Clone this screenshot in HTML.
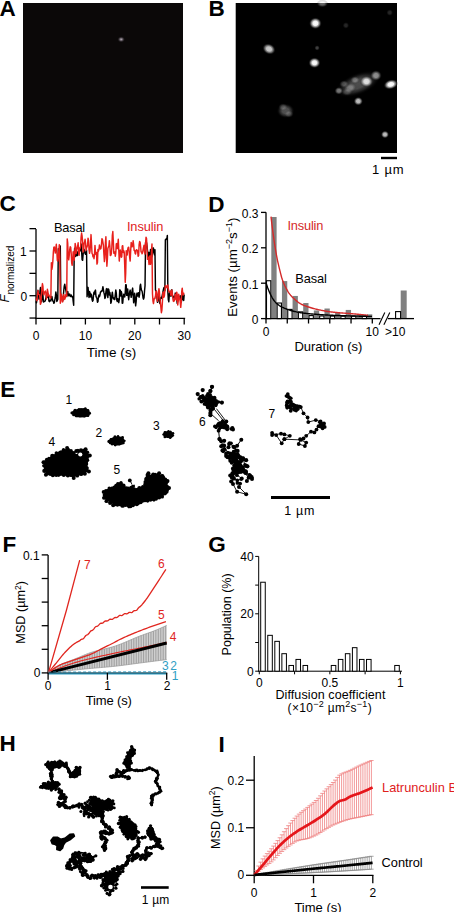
<!DOCTYPE html>
<html><head><meta charset="utf-8"><style>
html,body{margin:0;padding:0;background:#fff;width:454px;height:912px;overflow:hidden}
svg{display:block}
text{font-family:"Liberation Sans",sans-serif}
</style></head><body>
<svg width="454" height="912" viewBox="0 0 454 912" font-family="Liberation Sans, sans-serif">
<defs>
<radialGradient id="gA"><stop offset="0" stop-color="#b8b0b8"/><stop offset="0.4" stop-color="#605860"/><stop offset="1" stop-color="#0a0808" stop-opacity="0"/></radialGradient>
<radialGradient id="gB"><stop offset="0" stop-color="#fff"/><stop offset="0.38" stop-color="#f0f0f0"/><stop offset="0.65" stop-color="#999" stop-opacity="0.75"/><stop offset="1" stop-color="#000" stop-opacity="0"/></radialGradient>
</defs>
<rect width="454" height="912" fill="#fff"/>
<text x="-0.60" y="16.00" font-size="22.5" text-anchor="start" fill="#000" font-weight="bold" >A</text>
<rect x="23.00" y="3.00" width="160.00" height="150.00" fill="#0b0808" stroke="none" stroke-width="0" />
<ellipse cx="121.2" cy="39.4" rx="4" ry="3.2" fill="url(#gA)"/>
<text x="208.50" y="16.40" font-size="22.5" text-anchor="start" fill="#000" font-weight="bold" >B</text>
<rect x="235.70" y="3.00" width="161.30" height="150.00" fill="#000" stroke="none" stroke-width="0" />
<ellipse cx="315.4" cy="23.3" rx="6.5" ry="6" transform="rotate(0 315.4 23.3)" fill="url(#gB)" opacity="1.0"/>
<ellipse cx="314.5" cy="62.8" rx="6.2" ry="5.5" transform="rotate(0 314.5 62.8)" fill="url(#gB)" opacity="1.0"/>
<ellipse cx="269" cy="49" rx="7" ry="5.5" transform="rotate(25 269 49)" fill="url(#gB)" opacity="0.8"/>
<ellipse cx="322.4" cy="3.5" rx="6" ry="4" transform="rotate(0 322.4 3.5)" fill="url(#gB)" opacity="0.4"/>
<ellipse cx="317.1" cy="47.9" rx="2.8" ry="2.8" transform="rotate(0 317.1 47.9)" fill="url(#gB)" opacity="0.25"/>
<ellipse cx="345.9" cy="25.4" rx="3.5" ry="3.5" transform="rotate(0 345.9 25.4)" fill="url(#gB)" opacity="0.15"/>
<ellipse cx="389.7" cy="12.6" rx="3.5" ry="3.5" transform="rotate(0 389.7 12.6)" fill="url(#gB)" opacity="0.15"/>
<ellipse cx="358" cy="84" rx="24" ry="11" transform="rotate(-22 358 84)" fill="url(#gB)" opacity="0.3"/>
<ellipse cx="366.5" cy="81.5" rx="7" ry="6" transform="rotate(0 366.5 81.5)" fill="url(#gB)" opacity="0.85"/>
<ellipse cx="376" cy="75.5" rx="6" ry="5.5" transform="rotate(0 376 75.5)" fill="url(#gB)" opacity="0.55"/>
<ellipse cx="390.8" cy="84.4" rx="7.5" ry="5" transform="rotate(-15 390.8 84.4)" fill="url(#gB)" opacity="1.0"/>
<ellipse cx="338.8" cy="90.8" rx="4.5" ry="4" transform="rotate(0 338.8 90.8)" fill="url(#gB)" opacity="0.45"/>
<ellipse cx="358.3" cy="101.2" rx="4.8" ry="4.5" transform="rotate(0 358.3 101.2)" fill="url(#gB)" opacity="0.75"/>
<ellipse cx="285.6" cy="110.8" rx="9" ry="7.5" transform="rotate(0 285.6 110.8)" fill="url(#gB)" opacity="0.32"/>
<ellipse cx="283" cy="107" rx="5" ry="4" transform="rotate(0 283 107)" fill="url(#gB)" opacity="0.2"/>
<ellipse cx="289" cy="114" rx="5" ry="4" transform="rotate(0 289 114)" fill="url(#gB)" opacity="0.2"/>
<ellipse cx="385" cy="134.5" rx="4.2" ry="4" transform="rotate(0 385 134.5)" fill="url(#gB)" opacity="0.75"/>
<ellipse cx="350" cy="88" rx="7" ry="5" transform="rotate(-20 350 88)" fill="url(#gB)" opacity="0.3"/>
<ellipse cx="344" cy="84" rx="5" ry="4" transform="rotate(0 344 84)" fill="url(#gB)" opacity="0.25"/>
<ellipse cx="355" cy="80" rx="5" ry="4" transform="rotate(0 355 80)" fill="url(#gB)" opacity="0.3"/>
<ellipse cx="347" cy="92" rx="6" ry="4" transform="rotate(0 347 92)" fill="url(#gB)" opacity="0.2"/>
<rect x="381.00" y="156.80" width="16.00" height="2.40" fill="#000" stroke="none" stroke-width="0" />
<text x="372.00" y="174.00" font-size="13" text-anchor="start" fill="#000" font-weight="normal" textLength="31.50" lengthAdjust="spacing" >1 µm</text>
<text x="-0.50" y="211.40" font-size="22.5" text-anchor="start" fill="#000" font-weight="bold" >C</text>
<line x1="36.00" y1="229.00" x2="36.00" y2="319.05" stroke="#000" stroke-width="1.3" />
<line x1="29.50" y1="228.65" x2="36.00" y2="228.65" stroke="#000" stroke-width="1.3" />
<line x1="29.50" y1="251.00" x2="36.00" y2="251.00" stroke="#000" stroke-width="1.3" />
<line x1="29.50" y1="273.35" x2="36.00" y2="273.35" stroke="#000" stroke-width="1.3" />
<line x1="29.50" y1="295.70" x2="36.00" y2="295.70" stroke="#000" stroke-width="1.3" />
<line x1="29.50" y1="318.05" x2="36.00" y2="318.05" stroke="#000" stroke-width="1.3" />
<line x1="35.35" y1="318.40" x2="185.15" y2="318.40" stroke="#000" stroke-width="1.3" />
<line x1="36.00" y1="318.40" x2="36.00" y2="324.50" stroke="#000" stroke-width="1.3" />
<line x1="60.70" y1="318.40" x2="60.70" y2="324.50" stroke="#000" stroke-width="1.3" />
<line x1="85.40" y1="318.40" x2="85.40" y2="324.50" stroke="#000" stroke-width="1.3" />
<line x1="110.10" y1="318.40" x2="110.10" y2="324.50" stroke="#000" stroke-width="1.3" />
<line x1="134.80" y1="318.40" x2="134.80" y2="324.50" stroke="#000" stroke-width="1.3" />
<line x1="159.50" y1="318.40" x2="159.50" y2="324.50" stroke="#000" stroke-width="1.3" />
<line x1="184.20" y1="318.40" x2="184.20" y2="324.50" stroke="#000" stroke-width="1.3" />
<text x="36.00" y="339.70" font-size="12" text-anchor="middle" fill="#000" font-weight="normal" >0</text>
<text x="85.40" y="339.70" font-size="12" text-anchor="middle" fill="#000" font-weight="normal" >10</text>
<text x="134.80" y="339.70" font-size="12" text-anchor="middle" fill="#000" font-weight="normal" >20</text>
<text x="184.20" y="339.70" font-size="12" text-anchor="middle" fill="#000" font-weight="normal" >30</text>
<text x="26.60" y="256.30" font-size="12" text-anchor="end" fill="#000" font-weight="normal" >1</text>
<text x="27.20" y="300.80" font-size="12" text-anchor="end" fill="#000" font-weight="normal" >0</text>
<text x="86.70" y="357.00" font-size="13.5" text-anchor="start" fill="#000" font-weight="normal" textLength="49.50" lengthAdjust="spacing" >Time (s)</text>
<text transform="translate(9.3,302.5) rotate(-90)" font-size="13" font-style="italic">F</text>
<text transform="translate(13.8,294.5) rotate(-90)" font-size="10">normalized</text>
<text x="54.00" y="232.10" font-size="12.8" text-anchor="start" fill="#000" font-weight="normal" textLength="31.20" lengthAdjust="spacing" >Basal</text>
<text x="126.90" y="230.70" font-size="12.8" text-anchor="start" fill="#e0201c" font-weight="normal" textLength="36.40" lengthAdjust="spacing" >Insulin</text>
<polyline points="36.00,301.28 36.50,302.75 36.99,298.37 37.49,292.41 37.98,290.36 38.48,294.17 38.97,299.09 39.47,298.32 39.97,291.23 40.46,287.52 40.96,293.90 41.45,301.71 41.95,298.65 42.44,291.04 42.94,295.18 43.43,302.07 43.93,301.54 44.43,301.49 44.92,301.24 45.42,300.12 45.91,298.29 46.41,295.07 46.90,296.01 47.40,297.29 47.90,293.68 48.39,294.89 48.89,300.87 49.38,301.68 49.88,300.26 50.37,300.69 50.87,300.90 51.37,298.15 51.86,296.38 52.36,298.93 52.85,301.03 53.35,301.29 53.84,303.20 54.34,302.52 54.83,299.54 55.33,297.27 55.83,291.99 56.32,294.55 56.82,301.43 57.31,300.57 57.81,299.32 58.30,248.76 58.80,250.74 59.30,255.91 59.79,252.63 60.29,246.04 60.78,294.77 61.28,296.96 61.77,297.23 62.27,299.11 62.77,300.66 63.26,296.77 63.76,290.70 64.25,286.14 64.75,284.13 65.24,287.01 65.74,289.66 66.23,292.04 66.73,296.54 67.23,294.55 67.72,291.44 68.22,294.28 68.71,295.78 69.21,294.26 69.70,294.11 70.20,296.22 70.70,296.51 71.19,294.87 71.69,296.49 72.18,297.09 72.68,296.41 73.17,301.23 73.67,305.19 74.17,255.07 74.66,248.11 75.16,250.40 75.65,256.51 76.15,255.12 76.64,251.80 77.14,255.43 77.63,255.49 78.13,251.56 78.63,253.50 79.12,252.93 79.62,250.52 80.11,250.91 80.61,247.00 81.10,244.02 81.60,250.91 82.10,259.74 82.59,260.33 83.09,254.62 83.58,250.22 84.08,249.41 84.57,251.34 85.07,253.59 85.57,254.26 86.06,252.37 86.56,250.07 87.05,296.65 87.55,292.42 88.04,287.35 88.54,293.25 89.03,297.49 89.53,291.43 90.03,292.87 90.52,296.90 91.02,294.00 91.51,295.08 92.01,299.22 92.50,301.18 93.00,300.60 93.50,295.37 93.99,292.15 94.49,294.10 94.98,291.14 95.48,290.06 95.97,296.26 96.47,297.62 96.97,298.40 97.46,302.27 97.96,301.66 98.45,296.89 98.95,295.09 99.44,296.80 99.94,295.13 100.43,292.28 100.93,291.54 101.43,290.95 101.92,291.36 102.42,289.48 102.91,286.62 103.41,289.60 103.90,292.67 104.40,294.50 104.90,298.49 105.39,297.23 105.89,292.12 106.38,288.83 106.88,288.58 107.37,295.50 107.87,297.54 108.37,288.98 108.86,289.84 109.36,295.03 109.85,292.41 110.35,296.41 110.84,303.35 111.34,301.73 111.83,295.41 112.33,292.12 112.83,296.17 113.32,298.70 113.82,297.96 114.31,299.41 114.81,299.49 115.30,294.56 115.80,289.99 116.30,293.04 116.79,300.24 117.29,301.62 117.78,298.78 118.28,299.37 118.77,302.65 119.27,299.59 119.77,289.72 120.26,290.35 120.76,295.93 121.25,291.54 121.75,293.41 122.24,303.29 122.74,303.08 123.23,296.99 123.73,294.20 124.23,295.37 124.72,296.92 125.22,292.83 125.71,284.63 126.21,284.94 126.70,295.35 127.20,295.10 127.70,289.07 128.19,295.40 128.69,299.68 129.18,295.73 129.68,291.83 130.17,290.11 130.67,293.91 131.17,297.31 131.66,294.96 132.16,290.21 132.65,288.10 133.15,294.73 133.64,302.81 134.14,299.47 134.63,293.19 135.13,299.00 135.63,305.85 136.12,301.92 136.62,294.54 137.11,293.10 137.61,296.03 138.10,293.58 138.60,292.73 139.10,297.21 139.59,294.38 140.09,286.04 140.58,284.14 141.08,288.53 141.57,290.64 142.07,291.00 142.57,294.25 143.06,297.97 143.56,299.15 144.05,297.47 144.55,290.72 145.04,285.65 145.54,242.76 146.03,242.74 146.53,242.61 147.03,246.23 147.52,251.06 148.02,257.96 148.51,253.54 149.01,252.32 149.50,262.48 150.00,259.24 150.50,249.43 150.99,252.25 151.49,257.37 151.98,256.38 152.48,252.65 152.97,247.94 153.47,247.96 153.97,252.74 154.46,254.75 154.96,249.76 155.45,290.09 155.95,290.63 156.44,292.89 156.94,297.52 157.43,302.26 157.93,299.63 158.43,294.38 158.92,295.79 159.42,302.03 159.91,303.38 160.41,299.01 160.90,297.45 161.40,298.31 161.90,297.08 162.39,294.68 162.89,292.20 163.38,289.70 163.88,287.79 164.37,287.32 164.87,290.73 165.37,239.64 165.86,239.71 166.36,238.42 166.85,238.87 167.35,235.45 167.84,291.78 168.34,299.93 168.83,301.70 169.33,294.49 169.83,292.01 170.32,295.50 170.82,296.12 171.31,290.23 171.81,289.82 172.30,295.44 172.80,297.06 173.30,296.25 173.79,296.65 174.29,299.21 174.78,298.09 175.28,293.10 175.77,293.30 176.27,295.31 176.77,299.70 177.26,303.50 177.76,298.81 178.25,296.50 178.75,297.30 179.24,297.84 179.74,297.67 180.23,295.66 180.73,298.47 181.23,302.11 181.72,300.40 182.22,295.32 182.71,293.69 183.21,299.42 183.70,300.56 184.20,294.53" fill="none" stroke="#000" stroke-width="1.45" stroke-linejoin="round" />
<polyline points="36.00,298.53 36.50,299.80 36.99,300.72 37.49,294.04 37.98,290.52 38.48,294.31 38.97,294.33 39.47,294.58 39.97,298.61 40.46,304.33 40.96,303.01 41.45,294.16 41.95,287.72 42.44,283.60 42.94,286.45 43.43,294.19 43.93,294.96 44.43,292.33 44.92,291.65 45.42,291.05 45.91,293.71 46.41,298.92 46.90,296.77 47.40,289.32 47.90,292.02 48.39,295.81 48.89,294.98 49.38,296.12 49.88,296.80 50.37,297.84 50.87,298.04 51.37,262.71 51.86,269.40 52.36,266.55 52.85,261.28 53.35,252.16 53.84,247.17 54.34,247.08 54.83,249.83 55.33,253.04 55.83,248.38 56.32,244.24 56.82,251.26 57.31,260.27 57.81,261.13 58.30,258.49 58.80,250.45 59.30,244.65 59.79,256.40 60.29,303.28 60.78,297.87 61.28,294.19 61.77,297.45 62.27,301.92 62.77,301.77 63.26,296.81 63.76,294.42 64.25,297.93 64.75,299.39 65.24,297.76 65.74,294.80 66.23,296.42 66.73,296.00 67.23,238.88 67.72,243.18 68.22,256.97 68.71,259.86 69.21,255.78 69.70,249.62 70.20,246.75 70.70,247.22 71.19,253.20 71.69,263.08 72.18,265.28 72.68,260.01 73.17,251.76 73.67,252.34 74.17,260.15 74.66,254.73 75.16,243.39 75.65,246.01 76.15,253.61 76.64,249.79 77.14,248.22 77.63,246.05 78.13,242.78 78.63,252.91 79.12,255.22 79.62,247.97 80.11,248.33 80.61,246.57 81.10,237.05 81.60,233.05 82.10,236.20 82.59,241.09 83.09,251.95 83.58,251.68 84.08,243.19 84.57,242.33 85.07,239.31 85.57,243.35 86.06,250.42 86.56,248.05 87.05,246.71 87.55,244.82 88.04,238.14 88.54,240.30 89.03,249.91 89.53,253.37 90.03,251.04 90.52,243.47 91.02,234.60 91.51,243.34 92.01,253.27 92.50,254.03 93.00,256.81 93.50,255.08 93.99,258.73 94.49,254.71 94.98,245.40 95.48,252.04 95.97,254.36 96.47,252.42 96.97,264.12 97.46,262.49 97.96,249.47 98.45,251.34 98.95,249.48 99.44,244.90 99.94,247.97 100.43,249.04 100.93,248.46 101.43,244.99 101.92,238.80 102.42,239.29 102.91,242.34 103.41,245.40 103.90,254.22 104.40,261.64 104.90,257.87 105.39,243.41 105.89,236.73 106.38,251.64 106.88,266.18 107.37,259.76 107.87,248.49 108.37,247.00 108.86,245.90 109.36,240.61 109.85,245.80 110.35,255.57 110.84,255.20 111.34,253.81 111.83,247.64 112.33,235.23 112.83,231.58 113.32,241.56 113.82,253.30 114.31,253.34 114.81,251.95 115.30,256.23 115.80,252.80 116.30,243.86 116.79,243.57 117.29,248.60 117.78,244.75 118.28,239.22 118.77,250.11 119.27,261.09 119.77,254.59 120.26,249.98 120.76,252.90 121.25,257.28 121.75,256.76 122.24,246.02 122.74,245.65 123.23,252.49 123.73,250.79 124.23,252.26 124.72,265.77 125.22,282.34 125.71,272.96 126.21,250.73 126.70,252.77 127.20,254.94 127.70,249.31 128.19,247.40 128.69,247.28 129.18,251.49 129.68,257.62 130.17,261.03 130.67,250.90 131.17,242.49 131.66,245.03 132.16,246.71 132.65,245.10 133.15,240.75 133.64,244.61 134.14,250.55 134.63,250.23 135.13,253.33 135.63,254.02 136.12,250.52 136.62,249.70 137.11,250.23 137.61,251.00 138.10,256.24 138.60,255.60 139.10,244.94 139.59,241.55 140.09,242.14 140.58,246.26 141.08,251.86 141.57,252.00 142.07,253.83 142.57,252.64 143.06,249.98 143.56,247.32 144.05,245.15 144.55,251.63 145.04,254.08 145.54,243.67 146.03,237.25 146.53,238.58 147.03,247.55 147.52,259.37 148.02,257.00 148.51,258.31 149.01,264.56 149.50,257.01 150.00,255.82 150.50,264.34 150.99,261.74 151.49,251.24 151.98,244.08 152.48,293.81 152.97,301.06 153.47,303.53 153.97,300.14 154.46,298.15 154.96,298.59 155.45,296.22 155.95,291.73 156.44,291.09 156.94,296.08 157.43,301.18 157.93,298.94 158.43,292.57 158.92,288.70 159.42,291.68 159.91,298.87 160.41,302.35 160.90,307.81 161.40,312.71 161.90,310.03 162.39,302.43 162.89,292.60 163.38,292.16 163.88,297.24 164.37,295.89 164.87,290.19 165.37,285.94 165.86,285.65 166.36,286.71 166.85,287.78 167.35,286.25 167.84,285.02 168.34,288.72 168.83,291.31 169.33,291.85 169.83,292.04 170.32,291.10 170.82,295.23 171.31,295.13 171.81,290.08 172.30,293.09 172.80,298.03 173.30,301.18 173.79,301.46 174.29,300.56 174.78,297.92 175.28,294.12 175.77,298.72 176.27,300.05 176.77,292.14 177.26,295.21 177.76,305.02 178.25,300.77 178.75,294.28 179.24,297.34 179.74,298.89 180.23,301.90 180.73,307.36 181.23,302.41 181.72,291.26 182.22,288.15 182.71,293.12 183.21,295.03 183.70,293.14 184.20,293.75" fill="none" stroke="#e8201c" stroke-width="1.45" stroke-linejoin="round" />
<text x="208.20" y="211.60" font-size="22.5" text-anchor="start" fill="#000" font-weight="bold" >D</text>
<line x1="266.00" y1="212.30" x2="266.00" y2="319.25" stroke="#000" stroke-width="1.3" />
<line x1="261.00" y1="212.40" x2="266.00" y2="212.40" stroke="#000" stroke-width="1.3" />
<line x1="261.00" y1="247.80" x2="266.00" y2="247.80" stroke="#000" stroke-width="1.3" />
<line x1="261.00" y1="283.20" x2="266.00" y2="283.20" stroke="#000" stroke-width="1.3" />
<line x1="261.00" y1="318.60" x2="266.00" y2="318.60" stroke="#000" stroke-width="1.3" />
<text x="258.50" y="218.00" font-size="12" text-anchor="end" fill="#000" font-weight="normal" >0.3</text>
<text x="258.50" y="253.40" font-size="12" text-anchor="end" fill="#000" font-weight="normal" >0.2</text>
<text x="258.50" y="288.80" font-size="12" text-anchor="end" fill="#000" font-weight="normal" >0.1</text>
<text x="258.50" y="324.20" font-size="12" text-anchor="end" fill="#000" font-weight="normal" >0</text>
<rect x="271.31" y="217.00" width="5.31" height="101.60" fill="#808080" stroke="none" stroke-width="0" />
<rect x="266.50" y="280.72" width="4.31" height="37.88" fill="#fff" stroke="#000" stroke-width="1.1" />
<rect x="281.94" y="281.08" width="5.31" height="37.52" fill="#808080" stroke="none" stroke-width="0" />
<rect x="277.13" y="303.02" width="4.31" height="15.58" fill="#fff" stroke="#000" stroke-width="1.1" />
<rect x="292.57" y="295.94" width="5.31" height="22.66" fill="#808080" stroke="none" stroke-width="0" />
<rect x="287.76" y="309.40" width="4.31" height="9.20" fill="#fff" stroke="#000" stroke-width="1.1" />
<rect x="303.20" y="303.02" width="5.31" height="15.58" fill="#808080" stroke="none" stroke-width="0" />
<rect x="298.39" y="311.87" width="4.31" height="6.73" fill="#fff" stroke="#000" stroke-width="1.1" />
<rect x="313.83" y="310.46" width="5.31" height="8.14" fill="#808080" stroke="none" stroke-width="0" />
<rect x="309.02" y="315.59" width="4.31" height="3.01" fill="#fff" stroke="#000" stroke-width="1.1" />
<rect x="324.47" y="308.51" width="5.31" height="10.09" fill="#808080" stroke="none" stroke-width="0" />
<rect x="319.65" y="315.95" width="4.32" height="2.65" fill="#fff" stroke="#000" stroke-width="1.1" />
<rect x="335.10" y="312.94" width="5.31" height="5.66" fill="#808080" stroke="none" stroke-width="0" />
<rect x="330.28" y="316.12" width="4.32" height="2.48" fill="#fff" stroke="#000" stroke-width="1.1" />
<rect x="345.73" y="309.93" width="5.31" height="8.67" fill="#808080" stroke="none" stroke-width="0" />
<rect x="340.91" y="316.12" width="4.31" height="2.48" fill="#fff" stroke="#000" stroke-width="1.1" />
<rect x="356.36" y="314.71" width="5.31" height="3.89" fill="#808080" stroke="none" stroke-width="0" />
<rect x="351.54" y="316.12" width="4.31" height="2.48" fill="#fff" stroke="#000" stroke-width="1.1" />
<rect x="366.99" y="314.35" width="5.31" height="4.25" fill="#808080" stroke="none" stroke-width="0" />
<rect x="362.17" y="316.12" width="4.31" height="2.48" fill="#fff" stroke="#000" stroke-width="1.1" />
<rect x="400.70" y="290.50" width="6.00" height="28.10" fill="#808080" stroke="none" stroke-width="0" />
<rect x="395.60" y="311.60" width="5.00" height="7.00" fill="#fff" stroke="#000" stroke-width="1.1" />
<polyline points="271.00,216.70 271.82,223.57 272.63,230.06 273.45,236.13 274.26,241.75 275.08,247.03 275.89,251.97 276.71,256.49 277.52,260.53 278.34,264.19 279.15,267.59 279.97,270.87 280.78,274.15 281.60,277.20 282.41,279.70 283.23,281.89 284.04,283.87 284.86,285.69 285.67,287.36 286.49,288.93 287.30,290.40 288.12,291.78 288.93,293.05 289.75,294.18 290.56,295.18 291.38,296.09 292.19,296.93 293.01,297.71 293.82,298.45 294.64,299.18 295.45,299.91 296.27,300.64 297.08,301.35 297.90,302.04 298.71,302.67 299.53,303.22 300.34,303.69 301.16,304.11 301.97,304.51 302.79,304.89 303.61,305.25 304.42,305.58 305.24,305.90 306.05,306.20 306.87,306.49 307.68,306.76 308.50,307.03 309.31,307.29 310.13,307.54 310.94,307.78 311.76,308.02 312.57,308.24 313.39,308.46 314.20,308.67 315.02,308.88 315.83,309.07 316.65,309.27 317.46,309.45 318.28,309.63 319.09,309.81 319.91,309.98 320.72,310.15 321.54,310.32 322.35,310.49 323.17,310.65 323.98,310.81 324.80,310.96 325.61,311.11 326.43,311.26 327.24,311.39 328.06,311.52 328.87,311.65 329.69,311.76 330.50,311.86 331.32,311.96 332.13,312.05 332.95,312.14 333.76,312.23 334.58,312.31 335.39,312.39 336.21,312.46 337.03,312.54 337.84,312.61 338.66,312.68 339.47,312.75 340.29,312.83 341.10,312.90 341.92,312.97 342.73,313.03 343.55,313.10 344.36,313.16 345.18,313.22 345.99,313.29 346.81,313.35 347.62,313.41 348.44,313.47 349.25,313.53 350.07,313.60 350.88,313.66 351.70,313.72 352.51,313.79 353.33,313.86 354.14,313.92 354.96,314.00 355.77,314.07 356.59,314.14 357.40,314.22 358.22,314.30 359.03,314.37 359.85,314.45 360.66,314.53 361.48,314.62 362.29,314.70 363.11,314.78 363.92,314.87 364.74,314.95 365.55,315.04 366.37,315.12 367.18,315.21 368.00,315.30" fill="none" stroke="#d42a2a" stroke-width="1.4" stroke-linejoin="round" />
<polyline points="266.00,282.60 266.89,285.37 267.78,287.92 268.67,290.23 269.56,292.40 270.45,294.39 271.34,296.16 272.24,297.78 273.13,299.24 274.02,300.52 274.91,301.65 275.80,302.65 276.69,303.53 277.58,304.27 278.47,304.93 279.36,305.53 280.25,306.07 281.14,306.58 282.03,307.05 282.92,307.49 283.82,307.90 284.71,308.28 285.60,308.64 286.49,308.98 287.38,309.32 288.27,309.63 289.16,309.94 290.05,310.23 290.94,310.50 291.83,310.75 292.72,311.00 293.61,311.23 294.50,311.46 295.39,311.67 296.29,311.88 297.18,312.07 298.07,312.26 298.96,312.42 299.85,312.58 300.74,312.71 301.63,312.84 302.52,312.97 303.41,313.08 304.30,313.20 305.19,313.30 306.08,313.40 306.97,313.50 307.87,313.59 308.76,313.68 309.65,313.77 310.54,313.85 311.43,313.93 312.32,314.01 313.21,314.09 314.10,314.17 314.99,314.24 315.88,314.31 316.77,314.38 317.66,314.44 318.55,314.51 319.45,314.56 320.34,314.62 321.23,314.68 322.12,314.73 323.01,314.79 323.90,314.84 324.79,314.89 325.68,314.94 326.57,314.99 327.46,315.04 328.35,315.09 329.24,315.13 330.13,315.18 331.03,315.22 331.92,315.27 332.81,315.31 333.70,315.35 334.59,315.39 335.48,315.43 336.37,315.46 337.26,315.50 338.15,315.53 339.04,315.57 339.93,315.60 340.82,315.63 341.71,315.66 342.61,315.69 343.50,315.72 344.39,315.75 345.28,315.78 346.17,315.81 347.06,315.83 347.95,315.86 348.84,315.89 349.73,315.92 350.62,315.95 351.51,315.97 352.40,316.00 353.29,316.02 354.18,316.05 355.08,316.07 355.97,316.10 356.86,316.12 357.75,316.14 358.64,316.17 359.53,316.19 360.42,316.21 361.31,316.23 362.20,316.25 363.09,316.27 363.98,316.28 364.87,316.30 365.76,316.32 366.66,316.33 367.55,316.34 368.44,316.36 369.33,316.37 370.22,316.38 371.11,316.39 372.00,316.40" fill="none" stroke="#000" stroke-width="1.4" stroke-linejoin="round" />
<line x1="265.35" y1="318.60" x2="380.50" y2="318.60" stroke="#000" stroke-width="1.3" />
<line x1="387.80" y1="318.60" x2="414.00" y2="318.60" stroke="#000" stroke-width="1.3" />
<line x1="379.00" y1="324.80" x2="384.80" y2="312.60" stroke="#000" stroke-width="1.1" />
<line x1="383.90" y1="324.80" x2="389.80" y2="312.60" stroke="#000" stroke-width="1.1" />
<line x1="266.00" y1="318.60" x2="266.00" y2="323.50" stroke="#000" stroke-width="1.3" />
<line x1="287.26" y1="318.60" x2="287.26" y2="323.50" stroke="#000" stroke-width="1.3" />
<line x1="308.52" y1="318.60" x2="308.52" y2="323.50" stroke="#000" stroke-width="1.3" />
<line x1="329.78" y1="318.60" x2="329.78" y2="323.50" stroke="#000" stroke-width="1.3" />
<line x1="351.04" y1="318.60" x2="351.04" y2="323.50" stroke="#000" stroke-width="1.3" />
<line x1="372.30" y1="318.60" x2="372.30" y2="323.50" stroke="#000" stroke-width="1.3" />
<text x="266.00" y="335.60" font-size="12" text-anchor="middle" fill="#000" font-weight="normal" >0</text>
<text x="372.30" y="335.60" font-size="12" text-anchor="middle" fill="#000" font-weight="normal" >10</text>
<text x="385.00" y="335.60" font-size="12" text-anchor="start" fill="#000" font-weight="normal" >&gt;10</text>
<text x="294.40" y="351.00" font-size="13" text-anchor="start" fill="#000" font-weight="normal" >Duration (s)</text>
<text transform="translate(237.4,267.2) rotate(-90)" font-size="13.3" text-anchor="middle">Events (µm<tspan font-size="9" dy="-5">−2</tspan><tspan dy="5">s</tspan><tspan font-size="9" dy="-5">−1</tspan><tspan dy="5">)</tspan></text>
<text x="287.40" y="230.30" font-size="12.8" text-anchor="start" fill="#d42a2a" font-weight="normal" textLength="36.00" lengthAdjust="spacing" >Insulin</text>
<text x="295.20" y="282.80" font-size="12.8" text-anchor="start" fill="#000" font-weight="normal" textLength="31.60" lengthAdjust="spacing" >Basal</text>
<text x="0.30" y="396.90" font-size="22.5" text-anchor="start" fill="#000" font-weight="bold" >E</text>
<text x="65.50" y="404.00" font-size="12" text-anchor="start" fill="#000" font-weight="normal" >1</text>
<text x="95.50" y="437.00" font-size="12" text-anchor="start" fill="#000" font-weight="normal" >2</text>
<text x="153.00" y="430.00" font-size="12" text-anchor="start" fill="#000" font-weight="normal" >3</text>
<text x="48.50" y="446.00" font-size="12" text-anchor="start" fill="#000" font-weight="normal" >4</text>
<text x="113.40" y="474.00" font-size="12" text-anchor="start" fill="#000" font-weight="normal" >5</text>
<text x="199.00" y="426.00" font-size="12" text-anchor="start" fill="#000" font-weight="normal" >6</text>
<text x="268.60" y="418.00" font-size="12" text-anchor="start" fill="#000" font-weight="normal" >7</text>
<rect x="271.00" y="496.00" width="59.00" height="3.00" fill="#000" stroke="none" stroke-width="0" />
<text x="284.30" y="514.80" font-size="12.5" text-anchor="start" fill="#000" font-weight="normal" textLength="30.00" lengthAdjust="spacing" >1 µm</text>
<text x="2.50" y="551.60" font-size="22.5" text-anchor="start" fill="#000" font-weight="bold" >F</text>
<line x1="48.10" y1="554.90" x2="48.10" y2="673.55" stroke="#000" stroke-width="1.3" />
<line x1="41.70" y1="672.90" x2="48.10" y2="672.90" stroke="#000" stroke-width="1.3" />
<line x1="41.70" y1="649.30" x2="48.10" y2="649.30" stroke="#000" stroke-width="1.3" />
<line x1="41.70" y1="625.70" x2="48.10" y2="625.70" stroke="#000" stroke-width="1.3" />
<line x1="41.70" y1="602.10" x2="48.10" y2="602.10" stroke="#000" stroke-width="1.3" />
<line x1="41.70" y1="578.50" x2="48.10" y2="578.50" stroke="#000" stroke-width="1.3" />
<line x1="41.70" y1="554.90" x2="48.10" y2="554.90" stroke="#000" stroke-width="1.3" />
<polygon points="48.10,672.90 49.60,671.68 51.10,670.49 52.60,669.36 54.11,668.28 55.61,667.29 57.11,666.41 58.61,665.61 60.11,664.87 61.61,664.18 63.11,663.52 64.61,662.90 66.12,662.31 67.62,661.73 69.12,661.16 70.62,660.60 72.12,660.04 73.62,659.46 75.12,658.87 76.62,658.26 78.13,657.63 79.63,657.00 81.13,656.36 82.63,655.72 84.13,655.09 85.63,654.48 87.13,653.89 88.63,653.32 90.14,652.79 91.64,652.29 93.14,651.83 94.64,651.40 96.14,650.99 97.64,650.60 99.14,650.22 100.64,649.86 102.15,649.50 103.65,649.15 105.15,648.79 106.65,648.43 108.15,648.06 109.65,647.67 111.15,647.26 112.65,646.83 114.16,646.38 115.66,645.89 117.16,645.37 118.66,644.82 120.16,644.25 121.66,643.66 123.16,643.05 124.66,642.43 126.17,641.80 127.67,641.16 129.17,640.51 130.67,639.86 132.17,639.21 133.67,638.57 135.17,637.94 136.67,637.32 138.18,636.71 139.68,636.12 141.18,635.56 142.68,635.00 144.18,634.46 145.68,633.93 147.18,633.40 148.68,632.86 150.19,632.32 151.69,631.77 153.19,631.21 154.69,630.62 156.19,630.02 157.69,629.40 159.19,628.76 160.69,628.12 162.20,627.45 163.70,626.78 165.20,626.10 166.70,625.40 166.70,659.60 165.20,659.79 163.70,659.98 162.20,660.17 160.69,660.36 159.19,660.55 157.69,660.74 156.19,660.93 154.69,661.12 153.19,661.32 151.69,661.51 150.19,661.70 148.68,661.89 147.18,662.08 145.68,662.27 144.18,662.46 142.68,662.66 141.18,662.85 139.68,663.04 138.18,663.24 136.67,663.44 135.17,663.64 133.67,663.84 132.17,664.04 130.67,664.25 129.17,664.45 127.67,664.66 126.17,664.86 124.66,665.06 123.16,665.26 121.66,665.45 120.16,665.64 118.66,665.82 117.16,665.99 115.66,666.16 114.16,666.33 112.65,666.48 111.15,666.63 109.65,666.77 108.15,666.91 106.65,667.05 105.15,667.18 103.65,667.31 102.15,667.44 100.64,667.57 99.14,667.69 97.64,667.82 96.14,667.95 94.64,668.08 93.14,668.21 91.64,668.35 90.14,668.49 88.63,668.63 87.13,668.77 85.63,668.92 84.13,669.07 82.63,669.21 81.13,669.36 79.63,669.51 78.13,669.66 76.62,669.82 75.12,669.97 73.62,670.12 72.12,670.28 70.62,670.44 69.12,670.59 67.62,670.75 66.12,670.91 64.61,671.07 63.11,671.23 61.61,671.39 60.11,671.56 58.61,671.72 57.11,671.89 55.61,672.05 54.11,672.22 52.60,672.39 51.10,672.56 49.60,672.73 48.10,672.90" fill="#cfcfcf"/>
<line x1="50.50" y1="670.97" x2="50.50" y2="672.63" stroke="#8a8a8a" stroke-width="0.7" />
<line x1="52.95" y1="669.10" x2="52.95" y2="672.35" stroke="#8a8a8a" stroke-width="0.7" />
<line x1="55.40" y1="667.42" x2="55.40" y2="672.08" stroke="#8a8a8a" stroke-width="0.7" />
<line x1="57.85" y1="666.00" x2="57.85" y2="671.80" stroke="#8a8a8a" stroke-width="0.7" />
<line x1="60.30" y1="664.78" x2="60.30" y2="671.54" stroke="#8a8a8a" stroke-width="0.7" />
<line x1="62.75" y1="663.68" x2="62.75" y2="671.27" stroke="#8a8a8a" stroke-width="0.7" />
<line x1="65.20" y1="662.67" x2="65.20" y2="671.01" stroke="#8a8a8a" stroke-width="0.7" />
<line x1="67.65" y1="661.72" x2="67.65" y2="670.75" stroke="#8a8a8a" stroke-width="0.7" />
<line x1="70.10" y1="660.80" x2="70.10" y2="670.49" stroke="#8a8a8a" stroke-width="0.7" />
<line x1="72.55" y1="659.87" x2="72.55" y2="670.23" stroke="#8a8a8a" stroke-width="0.7" />
<line x1="75.00" y1="658.92" x2="75.00" y2="669.98" stroke="#8a8a8a" stroke-width="0.7" />
<line x1="77.45" y1="657.92" x2="77.45" y2="669.73" stroke="#8a8a8a" stroke-width="0.7" />
<line x1="79.90" y1="656.88" x2="79.90" y2="669.49" stroke="#8a8a8a" stroke-width="0.7" />
<line x1="82.35" y1="655.84" x2="82.35" y2="669.24" stroke="#8a8a8a" stroke-width="0.7" />
<line x1="84.80" y1="654.82" x2="84.80" y2="669.00" stroke="#8a8a8a" stroke-width="0.7" />
<line x1="87.25" y1="653.84" x2="87.25" y2="668.76" stroke="#8a8a8a" stroke-width="0.7" />
<line x1="89.70" y1="652.94" x2="89.70" y2="668.53" stroke="#8a8a8a" stroke-width="0.7" />
<line x1="92.15" y1="652.13" x2="92.15" y2="668.30" stroke="#8a8a8a" stroke-width="0.7" />
<line x1="94.60" y1="651.41" x2="94.60" y2="668.08" stroke="#8a8a8a" stroke-width="0.7" />
<line x1="97.05" y1="650.75" x2="97.05" y2="667.87" stroke="#8a8a8a" stroke-width="0.7" />
<line x1="99.50" y1="650.14" x2="99.50" y2="667.66" stroke="#8a8a8a" stroke-width="0.7" />
<line x1="101.95" y1="649.55" x2="101.95" y2="667.45" stroke="#8a8a8a" stroke-width="0.7" />
<line x1="104.40" y1="648.97" x2="104.40" y2="667.24" stroke="#8a8a8a" stroke-width="0.7" />
<line x1="106.85" y1="648.38" x2="106.85" y2="667.03" stroke="#8a8a8a" stroke-width="0.7" />
<line x1="109.30" y1="647.76" x2="109.30" y2="666.81" stroke="#8a8a8a" stroke-width="0.7" />
<line x1="111.75" y1="647.10" x2="111.75" y2="666.57" stroke="#8a8a8a" stroke-width="0.7" />
<line x1="114.20" y1="646.36" x2="114.20" y2="666.32" stroke="#8a8a8a" stroke-width="0.7" />
<line x1="116.65" y1="645.55" x2="116.65" y2="666.05" stroke="#8a8a8a" stroke-width="0.7" />
<line x1="119.10" y1="644.66" x2="119.10" y2="665.77" stroke="#8a8a8a" stroke-width="0.7" />
<line x1="121.55" y1="643.71" x2="121.55" y2="665.46" stroke="#8a8a8a" stroke-width="0.7" />
<line x1="124.00" y1="642.71" x2="124.00" y2="665.15" stroke="#8a8a8a" stroke-width="0.7" />
<line x1="126.45" y1="641.68" x2="126.45" y2="664.82" stroke="#8a8a8a" stroke-width="0.7" />
<line x1="128.90" y1="640.62" x2="128.90" y2="664.49" stroke="#8a8a8a" stroke-width="0.7" />
<line x1="131.35" y1="639.57" x2="131.35" y2="664.16" stroke="#8a8a8a" stroke-width="0.7" />
<line x1="133.80" y1="638.52" x2="133.80" y2="663.82" stroke="#8a8a8a" stroke-width="0.7" />
<line x1="136.25" y1="637.49" x2="136.25" y2="663.49" stroke="#8a8a8a" stroke-width="0.7" />
<line x1="138.70" y1="636.50" x2="138.70" y2="663.17" stroke="#8a8a8a" stroke-width="0.7" />
<line x1="141.15" y1="635.57" x2="141.15" y2="662.85" stroke="#8a8a8a" stroke-width="0.7" />
<line x1="143.60" y1="634.67" x2="143.60" y2="662.54" stroke="#8a8a8a" stroke-width="0.7" />
<line x1="146.05" y1="633.80" x2="146.05" y2="662.23" stroke="#8a8a8a" stroke-width="0.7" />
<line x1="148.50" y1="632.93" x2="148.50" y2="661.91" stroke="#8a8a8a" stroke-width="0.7" />
<line x1="150.95" y1="632.04" x2="150.95" y2="661.60" stroke="#8a8a8a" stroke-width="0.7" />
<line x1="153.40" y1="631.13" x2="153.40" y2="661.29" stroke="#8a8a8a" stroke-width="0.7" />
<line x1="155.85" y1="630.16" x2="155.85" y2="660.98" stroke="#8a8a8a" stroke-width="0.7" />
<line x1="158.30" y1="629.14" x2="158.30" y2="660.67" stroke="#8a8a8a" stroke-width="0.7" />
<line x1="160.75" y1="628.09" x2="160.75" y2="660.35" stroke="#8a8a8a" stroke-width="0.7" />
<line x1="163.20" y1="627.00" x2="163.20" y2="660.04" stroke="#8a8a8a" stroke-width="0.7" />
<line x1="165.65" y1="625.89" x2="165.65" y2="659.73" stroke="#8a8a8a" stroke-width="0.7" />
<polyline points="48.10,672.90 49.60,671.68 51.10,670.49 52.60,669.36 54.11,668.28 55.61,667.29 57.11,666.41 58.61,665.61 60.11,664.87 61.61,664.18 63.11,663.52 64.61,662.90 66.12,662.31 67.62,661.73 69.12,661.16 70.62,660.60 72.12,660.04 73.62,659.46 75.12,658.87 76.62,658.26 78.13,657.63 79.63,657.00 81.13,656.36 82.63,655.72 84.13,655.09 85.63,654.48 87.13,653.89 88.63,653.32 90.14,652.79 91.64,652.29 93.14,651.83 94.64,651.40 96.14,650.99 97.64,650.60 99.14,650.22 100.64,649.86 102.15,649.50 103.65,649.15 105.15,648.79 106.65,648.43 108.15,648.06 109.65,647.67 111.15,647.26 112.65,646.83 114.16,646.38 115.66,645.89 117.16,645.37 118.66,644.82 120.16,644.25 121.66,643.66 123.16,643.05 124.66,642.43 126.17,641.80 127.67,641.16 129.17,640.51 130.67,639.86 132.17,639.21 133.67,638.57 135.17,637.94 136.67,637.32 138.18,636.71 139.68,636.12 141.18,635.56 142.68,635.00 144.18,634.46 145.68,633.93 147.18,633.40 148.68,632.86 150.19,632.32 151.69,631.77 153.19,631.21 154.69,630.62 156.19,630.02 157.69,629.40 159.19,628.76 160.69,628.12 162.20,627.45 163.70,626.78 165.20,626.10 166.70,625.40" fill="none" stroke="#9a9a9a" stroke-width="0.8"/>
<polyline points="48.10,672.90 49.60,672.73 51.10,672.56 52.60,672.39 54.11,672.22 55.61,672.05 57.11,671.89 58.61,671.72 60.11,671.56 61.61,671.39 63.11,671.23 64.61,671.07 66.12,670.91 67.62,670.75 69.12,670.59 70.62,670.44 72.12,670.28 73.62,670.12 75.12,669.97 76.62,669.82 78.13,669.66 79.63,669.51 81.13,669.36 82.63,669.21 84.13,669.07 85.63,668.92 87.13,668.77 88.63,668.63 90.14,668.49 91.64,668.35 93.14,668.21 94.64,668.08 96.14,667.95 97.64,667.82 99.14,667.69 100.64,667.57 102.15,667.44 103.65,667.31 105.15,667.18 106.65,667.05 108.15,666.91 109.65,666.77 111.15,666.63 112.65,666.48 114.16,666.33 115.66,666.16 117.16,665.99 118.66,665.82 120.16,665.64 121.66,665.45 123.16,665.26 124.66,665.06 126.17,664.86 127.67,664.66 129.17,664.45 130.67,664.25 132.17,664.04 133.67,663.84 135.17,663.64 136.67,663.44 138.18,663.24 139.68,663.04 141.18,662.85 142.68,662.66 144.18,662.46 145.68,662.27 147.18,662.08 148.68,661.89 150.19,661.70 151.69,661.51 153.19,661.32 154.69,661.12 156.19,660.93 157.69,660.74 159.19,660.55 160.69,660.36 162.20,660.17 163.70,659.98 165.20,659.79 166.70,659.60" fill="none" stroke="#9a9a9a" stroke-width="0.8"/>
<polyline points="48.30,672.90 49.80,672.24 51.30,671.59 52.80,670.94 54.29,670.31 55.79,669.68 57.29,669.06 58.79,668.45 60.29,667.85 61.79,667.26 63.29,666.68 64.79,666.11 66.28,665.56 67.78,665.02 69.28,664.50 70.78,663.99 72.28,663.49 73.78,663.02 75.28,662.56 76.78,662.11 78.27,661.68 79.77,661.26 81.27,660.84 82.77,660.44 84.27,660.05 85.77,659.66 87.27,659.28 88.77,658.91 90.26,658.55 91.76,658.19 93.26,657.84 94.76,657.50 96.26,657.15 97.76,656.82 99.26,656.48 100.76,656.15 102.25,655.83 103.75,655.50 105.25,655.18 106.75,654.85 108.25,654.53 109.75,654.21 111.25,653.88 112.75,653.56 114.24,653.23 115.74,652.91 117.24,652.59 118.74,652.28 120.24,651.96 121.74,651.66 123.24,651.35 124.74,651.05 126.23,650.75 127.73,650.46 129.23,650.16 130.73,649.86 132.23,649.57 133.73,649.27 135.23,648.97 136.73,648.67 138.22,648.36 139.72,648.06 141.22,647.75 142.72,647.44 144.22,647.13 145.72,646.82 147.22,646.50 148.72,646.19 150.21,645.88 151.71,645.57 153.21,645.25 154.71,644.94 156.21,644.62 157.71,644.31 159.21,643.99 160.71,643.67 162.20,643.36 163.70,643.04 165.20,642.72 166.70,642.40" fill="none" stroke="#e0261f" stroke-width="1.1" stroke-linejoin="round" />
<polyline points="48.10,672.90 166.70,643.00" fill="none" stroke="#000" stroke-width="3.0" stroke-linejoin="round" />
<polyline points="48.30,672.90 49.79,671.71 51.28,670.56 52.77,669.45 54.25,668.40 55.74,667.40 57.23,666.48 58.72,665.64 60.21,664.89 61.70,664.22 63.19,663.61 64.67,663.04 66.16,662.52 67.65,662.02 69.14,661.54 70.63,661.08 72.12,660.61 73.61,660.14 75.09,659.64 76.58,659.13 78.07,658.63 79.56,658.13 81.05,657.65 82.54,657.16 84.03,656.67 85.52,656.17 87.00,655.65 88.49,655.11 89.98,654.54 91.47,653.93 92.96,653.27 94.45,652.55 95.94,651.79 97.42,651.00 98.91,650.21 100.40,649.42 101.89,648.66 103.38,647.91 104.87,647.17 106.36,646.44 107.84,645.70 109.33,644.97 110.82,644.23 112.31,643.47 113.80,642.71 115.29,641.93 116.78,641.10 118.26,640.29 119.75,639.53 121.24,638.81 122.73,638.11 124.22,637.42 125.71,636.75 127.20,636.09 128.68,635.44 130.17,634.80 131.66,634.17 133.15,633.55 134.64,632.94 136.13,632.34 137.62,631.75 139.11,631.16 140.59,630.58 142.08,630.00 143.57,629.43 145.06,628.86 146.55,628.30 148.04,627.74 149.53,627.19 151.01,626.65 152.50,626.11 153.99,625.58 155.48,625.06 156.97,624.54 158.46,624.04 159.95,623.53 161.43,623.04 162.92,622.55 164.41,622.07 165.90,621.60" fill="none" stroke="#e0261f" stroke-width="1.3" stroke-linejoin="round" />
<polyline points="48.30,672.90 49.29,671.65 50.28,670.41 51.26,669.17 52.25,667.94 53.24,666.71 54.23,665.48 55.22,664.26 56.21,663.04 57.19,661.83 58.18,660.61 59.17,659.37 60.16,658.12 61.15,656.89 62.14,655.67 63.12,654.49 64.11,653.36 65.10,652.29 66.09,651.26 67.08,650.24 68.06,649.25 69.05,648.28 70.04,647.34 71.03,646.44 72.02,645.58 73.01,644.77 73.99,644.02 74.98,643.34 75.97,642.73 76.96,642.18 77.95,641.65 78.94,641.13 79.92,640.60 80.91,639.52 81.90,639.20 82.89,639.04 83.88,638.21 84.86,636.74 85.85,635.50 86.84,634.95 87.83,634.55 88.82,633.53 89.81,632.07 90.79,630.95 91.78,630.53 92.77,630.14 93.76,629.09 94.75,627.63 95.74,626.63 96.72,626.34 97.71,626.06 98.70,625.13 99.69,623.92 100.68,623.26 101.66,623.26 102.65,623.14 103.64,622.32 104.63,621.29 105.62,620.85 106.61,621.01 107.59,620.96 108.58,620.22 109.57,619.36 110.56,619.14 111.55,619.42 112.54,619.36 113.52,618.57 114.51,617.69 115.50,617.42 116.49,617.53 117.48,617.22 118.46,616.28 119.45,615.44 120.44,615.31 121.43,615.54 122.42,615.29 123.41,614.42 124.39,613.70 125.38,613.70 126.37,613.99 127.36,613.73 128.35,612.90 129.34,612.32 130.32,612.44 131.31,612.69 132.30,612.28 133.29,611.31 134.28,610.60 135.26,610.53 136.25,610.46 137.24,609.64 138.23,608.24 139.22,607.14 140.21,606.61 141.19,605.57 142.18,604.45 143.17,603.26 144.16,602.02 145.15,600.73 146.14,599.42 147.12,598.04 148.11,596.61 149.10,595.12 150.09,593.61 151.08,592.08 152.06,590.56 153.05,589.07 154.04,587.57 155.03,586.07 156.02,584.56 157.01,583.05 157.99,581.54 158.98,580.03 159.97,578.51 160.96,577.00 161.95,575.48 162.94,573.97 163.92,572.45 164.91,570.92 165.90,569.40" fill="none" stroke="#e0261f" stroke-width="1.3" stroke-linejoin="round" />
<polyline points="48.40,672.90 66.50,610.00 79.70,560.10" fill="none" stroke="#e0261f" stroke-width="1.3" stroke-linejoin="round" />
<line x1="48.10" y1="673.50" x2="166.70" y2="673.50" stroke="#2f9ec4" stroke-width="2.0" />
<line x1="48.1" y1="672.0" x2="166.7" y2="671.6" stroke="#2f9ec4" stroke-width="0.8" stroke-dasharray="3 2"/>
<line x1="47.45" y1="672.90" x2="167.35" y2="672.90" stroke="#000" stroke-width="0.6" />
<line x1="48.10" y1="672.90" x2="48.10" y2="679.80" stroke="#000" stroke-width="1.3" />
<line x1="107.40" y1="672.90" x2="107.40" y2="679.80" stroke="#000" stroke-width="1.3" />
<line x1="166.70" y1="672.90" x2="166.70" y2="679.80" stroke="#000" stroke-width="1.3" />
<text x="48.10" y="690.40" font-size="12" text-anchor="middle" fill="#000" font-weight="normal" >0</text>
<text x="107.70" y="690.40" font-size="12" text-anchor="middle" fill="#000" font-weight="normal" >1</text>
<text x="167.00" y="690.40" font-size="12" text-anchor="middle" fill="#000" font-weight="normal" >2</text>
<text x="39.60" y="559.50" font-size="12" text-anchor="end" fill="#000" font-weight="normal" >0.1</text>
<text x="40.40" y="677.30" font-size="12" text-anchor="end" fill="#000" font-weight="normal" >0</text>
<text x="85.80" y="704.50" font-size="13" text-anchor="start" fill="#000" font-weight="normal" textLength="46.00" lengthAdjust="spacing" >Time (s)</text>
<text transform="translate(25.0,612.3) rotate(-90)" font-size="12.7" text-anchor="middle">MSD (µm<tspan font-size="8.5" dy="-4.5">2</tspan><tspan dy="4.5">)</tspan></text>
<text x="162.00" y="670.40" font-size="12" text-anchor="start" fill="#2f9ec4" font-weight="normal" >3</text>
<text x="170.20" y="669.80" font-size="12" text-anchor="start" fill="#2f9ec4" font-weight="normal" >2</text>
<text x="171.80" y="679.80" font-size="12" text-anchor="start" fill="#2f9ec4" font-weight="normal" >1</text>
<text x="158.00" y="568.00" font-size="12" text-anchor="start" fill="#e0261f" font-weight="normal" >6</text>
<text x="158.00" y="619.40" font-size="12" text-anchor="start" fill="#e0261f" font-weight="normal" >5</text>
<text x="169.80" y="641.00" font-size="12" text-anchor="start" fill="#e0261f" font-weight="normal" >4</text>
<text x="84.00" y="569.40" font-size="12" text-anchor="start" fill="#e0261f" font-weight="normal" >7</text>
<text x="208.20" y="551.80" font-size="22.5" text-anchor="start" fill="#000" font-weight="bold" >G</text>
<line x1="258.70" y1="556.40" x2="258.70" y2="671.70" stroke="#000" stroke-width="1.0" />
<line x1="255.20" y1="671.20" x2="258.70" y2="671.20" stroke="#000" stroke-width="1.0" />
<line x1="255.20" y1="642.50" x2="258.70" y2="642.50" stroke="#000" stroke-width="1.0" />
<line x1="255.20" y1="613.80" x2="258.70" y2="613.80" stroke="#000" stroke-width="1.0" />
<line x1="255.20" y1="585.10" x2="258.70" y2="585.10" stroke="#000" stroke-width="1.0" />
<line x1="255.20" y1="556.40" x2="258.70" y2="556.40" stroke="#000" stroke-width="1.0" />
<text x="253.60" y="560.70" font-size="12" text-anchor="end" fill="#000" font-weight="normal" >40</text>
<text x="253.60" y="618.00" font-size="12" text-anchor="end" fill="#000" font-weight="normal" >20</text>
<text x="253.60" y="675.50" font-size="12" text-anchor="end" fill="#000" font-weight="normal" >0</text>
<line x1="258.20" y1="671.20" x2="402.00" y2="671.20" stroke="#000" stroke-width="1.0" />
<line x1="259.30" y1="671.20" x2="259.30" y2="674.30" stroke="#000" stroke-width="1.0" />
<line x1="294.57" y1="671.20" x2="294.57" y2="674.30" stroke="#000" stroke-width="1.0" />
<line x1="329.85" y1="671.20" x2="329.85" y2="674.30" stroke="#000" stroke-width="1.0" />
<line x1="365.12" y1="671.20" x2="365.12" y2="674.30" stroke="#000" stroke-width="1.0" />
<line x1="400.40" y1="671.20" x2="400.40" y2="674.30" stroke="#000" stroke-width="1.0" />
<text x="259.30" y="687.20" font-size="12" text-anchor="middle" fill="#000" font-weight="normal" >0</text>
<text x="329.85" y="687.20" font-size="12" text-anchor="middle" fill="#000" font-weight="normal" >0.5</text>
<text x="400.40" y="687.20" font-size="12" text-anchor="middle" fill="#000" font-weight="normal" >1</text>
<rect x="260.70" y="582.23" width="4.56" height="88.97" fill="#fff" stroke="#000" stroke-width="1.0" />
<rect x="267.75" y="635.33" width="4.56" height="35.88" fill="#fff" stroke="#000" stroke-width="1.0" />
<rect x="274.81" y="641.35" width="4.56" height="29.85" fill="#fff" stroke="#000" stroke-width="1.0" />
<rect x="281.87" y="653.69" width="4.55" height="17.51" fill="#fff" stroke="#000" stroke-width="1.0" />
<rect x="288.92" y="665.46" width="4.56" height="5.74" fill="#fff" stroke="#000" stroke-width="1.0" />
<rect x="295.97" y="659.43" width="4.56" height="11.77" fill="#fff" stroke="#000" stroke-width="1.0" />
<rect x="303.03" y="665.46" width="4.56" height="5.74" fill="#fff" stroke="#000" stroke-width="1.0" />
<rect x="331.25" y="665.46" width="4.56" height="5.74" fill="#fff" stroke="#000" stroke-width="1.0" />
<rect x="338.31" y="659.43" width="4.56" height="11.77" fill="#fff" stroke="#000" stroke-width="1.0" />
<rect x="345.36" y="653.69" width="4.55" height="17.51" fill="#fff" stroke="#000" stroke-width="1.0" />
<rect x="352.41" y="647.67" width="4.56" height="23.53" fill="#fff" stroke="#000" stroke-width="1.0" />
<rect x="359.47" y="659.43" width="4.55" height="11.77" fill="#fff" stroke="#000" stroke-width="1.0" />
<rect x="366.52" y="659.43" width="4.56" height="11.77" fill="#fff" stroke="#000" stroke-width="1.0" />
<rect x="394.75" y="665.46" width="4.55" height="5.74" fill="#fff" stroke="#000" stroke-width="1.0" />
<text x="275.40" y="698.70" font-size="12.5" text-anchor="start" fill="#000" font-weight="normal" textLength="110.00" lengthAdjust="spacing" >Diffusion coefficient</text>
<text x="287.6" y="712.3" font-size="12" letter-spacing="0.3">(×10<tspan font-size="9" dy="-5">−2</tspan><tspan dy="5"> µm</tspan><tspan font-size="9" dy="-5">2</tspan><tspan dy="5">s</tspan><tspan font-size="9" dy="-5">−1</tspan><tspan dy="5">)</tspan></text>
<text transform="translate(230.6,614.4) rotate(-90)" font-size="12.5" text-anchor="middle">Population (%)</text>
<text x="-0.60" y="751.40" font-size="22.5" text-anchor="start" fill="#000" font-weight="bold" >H</text>
<rect x="141.00" y="886.20" width="27.70" height="2.60" fill="#000" stroke="none" stroke-width="0" />
<text x="141.80" y="903.60" font-size="12" text-anchor="start" fill="#000" font-weight="normal" textLength="27.50" lengthAdjust="spacing" >1 µm</text>
<text x="218.60" y="751.60" font-size="22.5" text-anchor="start" fill="#000" font-weight="bold" >I</text>
<line x1="254.20" y1="756.00" x2="254.20" y2="875.95" stroke="#000" stroke-width="1.3" />
<line x1="246.00" y1="780.20" x2="254.20" y2="780.20" stroke="#000" stroke-width="1.3" />
<line x1="246.00" y1="827.75" x2="254.20" y2="827.75" stroke="#000" stroke-width="1.3" />
<line x1="246.00" y1="875.30" x2="254.20" y2="875.30" stroke="#000" stroke-width="1.3" />
<text x="244.30" y="785.00" font-size="12" text-anchor="end" fill="#000" font-weight="normal" >0.2</text>
<text x="244.30" y="832.20" font-size="12" text-anchor="end" fill="#000" font-weight="normal" >0.1</text>
<text x="244.20" y="879.40" font-size="12" text-anchor="end" fill="#000" font-weight="normal" >0</text>
<line x1="253.55" y1="875.30" x2="373.45" y2="875.30" stroke="#000" stroke-width="1.3" />
<line x1="254.20" y1="875.30" x2="254.20" y2="883.30" stroke="#000" stroke-width="1.3" />
<text x="254.20" y="896.70" font-size="12" text-anchor="middle" fill="#000" font-weight="normal" >0</text>
<line x1="313.50" y1="875.30" x2="313.50" y2="883.30" stroke="#000" stroke-width="1.3" />
<text x="313.50" y="896.70" font-size="12" text-anchor="middle" fill="#000" font-weight="normal" >1</text>
<line x1="372.80" y1="875.30" x2="372.80" y2="883.30" stroke="#000" stroke-width="1.3" />
<text x="372.80" y="896.70" font-size="12" text-anchor="middle" fill="#000" font-weight="normal" >2</text>
<text x="294.40" y="911.70" font-size="13" text-anchor="start" fill="#000" font-weight="normal" >Time (s)</text>
<text transform="translate(219.6,817.6) rotate(-90)" font-size="12.7" text-anchor="middle">MSD (µm<tspan font-size="8.5" dy="-4.5">2</tspan><tspan dy="4.5">)</tspan></text>
<line x1="256.40" y1="870.36" x2="256.40" y2="873.14" stroke="#ee7a7a" stroke-width="0.75" />
<line x1="254.20" y1="870.36" x2="258.60" y2="870.36" stroke="#ee7a7a" stroke-width="0.75" />
<line x1="254.20" y1="873.14" x2="258.60" y2="873.14" stroke="#ee7a7a" stroke-width="0.75" />
<line x1="258.53" y1="866.01" x2="258.53" y2="871.31" stroke="#ee7a7a" stroke-width="0.75" />
<line x1="256.33" y1="866.01" x2="260.73" y2="866.01" stroke="#ee7a7a" stroke-width="0.75" />
<line x1="256.33" y1="871.31" x2="260.73" y2="871.31" stroke="#ee7a7a" stroke-width="0.75" />
<line x1="260.66" y1="862.14" x2="260.66" y2="869.56" stroke="#ee7a7a" stroke-width="0.75" />
<line x1="258.46" y1="862.14" x2="262.86" y2="862.14" stroke="#ee7a7a" stroke-width="0.75" />
<line x1="258.46" y1="869.56" x2="262.86" y2="869.56" stroke="#ee7a7a" stroke-width="0.75" />
<line x1="262.79" y1="858.85" x2="262.79" y2="867.90" stroke="#ee7a7a" stroke-width="0.75" />
<line x1="260.59" y1="858.85" x2="264.99" y2="858.85" stroke="#ee7a7a" stroke-width="0.75" />
<line x1="260.59" y1="867.90" x2="264.99" y2="867.90" stroke="#ee7a7a" stroke-width="0.75" />
<line x1="264.92" y1="856.08" x2="264.92" y2="866.39" stroke="#ee7a7a" stroke-width="0.75" />
<line x1="262.72" y1="856.08" x2="267.12" y2="856.08" stroke="#ee7a7a" stroke-width="0.75" />
<line x1="262.72" y1="866.39" x2="267.12" y2="866.39" stroke="#ee7a7a" stroke-width="0.75" />
<line x1="267.05" y1="853.62" x2="267.05" y2="864.95" stroke="#ee7a7a" stroke-width="0.75" />
<line x1="264.85" y1="853.62" x2="269.25" y2="853.62" stroke="#ee7a7a" stroke-width="0.75" />
<line x1="264.85" y1="864.95" x2="269.25" y2="864.95" stroke="#ee7a7a" stroke-width="0.75" />
<line x1="269.18" y1="851.25" x2="269.18" y2="863.47" stroke="#ee7a7a" stroke-width="0.75" />
<line x1="266.98" y1="851.25" x2="271.38" y2="851.25" stroke="#ee7a7a" stroke-width="0.75" />
<line x1="266.98" y1="863.47" x2="271.38" y2="863.47" stroke="#ee7a7a" stroke-width="0.75" />
<line x1="271.31" y1="848.76" x2="271.31" y2="861.84" stroke="#ee7a7a" stroke-width="0.75" />
<line x1="269.11" y1="848.76" x2="273.51" y2="848.76" stroke="#ee7a7a" stroke-width="0.75" />
<line x1="269.11" y1="861.84" x2="273.51" y2="861.84" stroke="#ee7a7a" stroke-width="0.75" />
<line x1="273.44" y1="846.08" x2="273.44" y2="859.91" stroke="#ee7a7a" stroke-width="0.75" />
<line x1="271.24" y1="846.08" x2="275.64" y2="846.08" stroke="#ee7a7a" stroke-width="0.75" />
<line x1="271.24" y1="859.91" x2="275.64" y2="859.91" stroke="#ee7a7a" stroke-width="0.75" />
<line x1="275.57" y1="843.36" x2="275.57" y2="857.71" stroke="#ee7a7a" stroke-width="0.75" />
<line x1="273.37" y1="843.36" x2="277.77" y2="843.36" stroke="#ee7a7a" stroke-width="0.75" />
<line x1="273.37" y1="857.71" x2="277.77" y2="857.71" stroke="#ee7a7a" stroke-width="0.75" />
<line x1="277.70" y1="840.59" x2="277.70" y2="855.45" stroke="#ee7a7a" stroke-width="0.75" />
<line x1="275.50" y1="840.59" x2="279.90" y2="840.59" stroke="#ee7a7a" stroke-width="0.75" />
<line x1="275.50" y1="855.45" x2="279.90" y2="855.45" stroke="#ee7a7a" stroke-width="0.75" />
<line x1="279.83" y1="837.77" x2="279.83" y2="853.32" stroke="#ee7a7a" stroke-width="0.75" />
<line x1="277.63" y1="837.77" x2="282.03" y2="837.77" stroke="#ee7a7a" stroke-width="0.75" />
<line x1="277.63" y1="853.32" x2="282.03" y2="853.32" stroke="#ee7a7a" stroke-width="0.75" />
<line x1="281.96" y1="834.82" x2="281.96" y2="851.44" stroke="#ee7a7a" stroke-width="0.75" />
<line x1="279.76" y1="834.82" x2="284.16" y2="834.82" stroke="#ee7a7a" stroke-width="0.75" />
<line x1="279.76" y1="851.44" x2="284.16" y2="851.44" stroke="#ee7a7a" stroke-width="0.75" />
<line x1="284.09" y1="831.71" x2="284.09" y2="849.65" stroke="#ee7a7a" stroke-width="0.75" />
<line x1="281.89" y1="831.71" x2="286.29" y2="831.71" stroke="#ee7a7a" stroke-width="0.75" />
<line x1="281.89" y1="849.65" x2="286.29" y2="849.65" stroke="#ee7a7a" stroke-width="0.75" />
<line x1="286.22" y1="828.60" x2="286.22" y2="847.97" stroke="#ee7a7a" stroke-width="0.75" />
<line x1="284.02" y1="828.60" x2="288.42" y2="828.60" stroke="#ee7a7a" stroke-width="0.75" />
<line x1="284.02" y1="847.97" x2="288.42" y2="847.97" stroke="#ee7a7a" stroke-width="0.75" />
<line x1="288.35" y1="825.68" x2="288.35" y2="846.39" stroke="#ee7a7a" stroke-width="0.75" />
<line x1="286.15" y1="825.68" x2="290.55" y2="825.68" stroke="#ee7a7a" stroke-width="0.75" />
<line x1="286.15" y1="846.39" x2="290.55" y2="846.39" stroke="#ee7a7a" stroke-width="0.75" />
<line x1="290.48" y1="823.05" x2="290.48" y2="844.90" stroke="#ee7a7a" stroke-width="0.75" />
<line x1="288.28" y1="823.05" x2="292.68" y2="823.05" stroke="#ee7a7a" stroke-width="0.75" />
<line x1="288.28" y1="844.90" x2="292.68" y2="844.90" stroke="#ee7a7a" stroke-width="0.75" />
<line x1="292.61" y1="820.57" x2="292.61" y2="843.40" stroke="#ee7a7a" stroke-width="0.75" />
<line x1="290.41" y1="820.57" x2="294.81" y2="820.57" stroke="#ee7a7a" stroke-width="0.75" />
<line x1="290.41" y1="843.40" x2="294.81" y2="843.40" stroke="#ee7a7a" stroke-width="0.75" />
<line x1="294.74" y1="818.23" x2="294.74" y2="842.01" stroke="#ee7a7a" stroke-width="0.75" />
<line x1="292.54" y1="818.23" x2="296.94" y2="818.23" stroke="#ee7a7a" stroke-width="0.75" />
<line x1="292.54" y1="842.01" x2="296.94" y2="842.01" stroke="#ee7a7a" stroke-width="0.75" />
<line x1="296.87" y1="816.07" x2="296.87" y2="840.91" stroke="#ee7a7a" stroke-width="0.75" />
<line x1="294.67" y1="816.07" x2="299.07" y2="816.07" stroke="#ee7a7a" stroke-width="0.75" />
<line x1="294.67" y1="840.91" x2="299.07" y2="840.91" stroke="#ee7a7a" stroke-width="0.75" />
<line x1="299.00" y1="814.10" x2="299.00" y2="840.22" stroke="#ee7a7a" stroke-width="0.75" />
<line x1="296.80" y1="814.10" x2="301.20" y2="814.10" stroke="#ee7a7a" stroke-width="0.75" />
<line x1="296.80" y1="840.22" x2="301.20" y2="840.22" stroke="#ee7a7a" stroke-width="0.75" />
<line x1="301.13" y1="812.34" x2="301.13" y2="839.78" stroke="#ee7a7a" stroke-width="0.75" />
<line x1="298.93" y1="812.34" x2="303.33" y2="812.34" stroke="#ee7a7a" stroke-width="0.75" />
<line x1="298.93" y1="839.78" x2="303.33" y2="839.78" stroke="#ee7a7a" stroke-width="0.75" />
<line x1="303.26" y1="810.70" x2="303.26" y2="839.43" stroke="#ee7a7a" stroke-width="0.75" />
<line x1="301.06" y1="810.70" x2="305.46" y2="810.70" stroke="#ee7a7a" stroke-width="0.75" />
<line x1="301.06" y1="839.43" x2="305.46" y2="839.43" stroke="#ee7a7a" stroke-width="0.75" />
<line x1="305.39" y1="809.08" x2="305.39" y2="839.05" stroke="#ee7a7a" stroke-width="0.75" />
<line x1="303.19" y1="809.08" x2="307.59" y2="809.08" stroke="#ee7a7a" stroke-width="0.75" />
<line x1="303.19" y1="839.05" x2="307.59" y2="839.05" stroke="#ee7a7a" stroke-width="0.75" />
<line x1="307.52" y1="807.41" x2="307.52" y2="838.53" stroke="#ee7a7a" stroke-width="0.75" />
<line x1="305.32" y1="807.41" x2="309.72" y2="807.41" stroke="#ee7a7a" stroke-width="0.75" />
<line x1="305.32" y1="838.53" x2="309.72" y2="838.53" stroke="#ee7a7a" stroke-width="0.75" />
<line x1="309.65" y1="805.76" x2="309.65" y2="837.82" stroke="#ee7a7a" stroke-width="0.75" />
<line x1="307.45" y1="805.76" x2="311.85" y2="805.76" stroke="#ee7a7a" stroke-width="0.75" />
<line x1="307.45" y1="837.82" x2="311.85" y2="837.82" stroke="#ee7a7a" stroke-width="0.75" />
<line x1="311.78" y1="804.12" x2="311.78" y2="836.98" stroke="#ee7a7a" stroke-width="0.75" />
<line x1="309.58" y1="804.12" x2="313.98" y2="804.12" stroke="#ee7a7a" stroke-width="0.75" />
<line x1="309.58" y1="836.98" x2="313.98" y2="836.98" stroke="#ee7a7a" stroke-width="0.75" />
<line x1="313.91" y1="802.39" x2="313.91" y2="836.04" stroke="#ee7a7a" stroke-width="0.75" />
<line x1="311.71" y1="802.39" x2="316.11" y2="802.39" stroke="#ee7a7a" stroke-width="0.75" />
<line x1="311.71" y1="836.04" x2="316.11" y2="836.04" stroke="#ee7a7a" stroke-width="0.75" />
<line x1="316.04" y1="800.48" x2="316.04" y2="835.03" stroke="#ee7a7a" stroke-width="0.75" />
<line x1="313.84" y1="800.48" x2="318.24" y2="800.48" stroke="#ee7a7a" stroke-width="0.75" />
<line x1="313.84" y1="835.03" x2="318.24" y2="835.03" stroke="#ee7a7a" stroke-width="0.75" />
<line x1="318.17" y1="798.27" x2="318.17" y2="833.86" stroke="#ee7a7a" stroke-width="0.75" />
<line x1="315.97" y1="798.27" x2="320.37" y2="798.27" stroke="#ee7a7a" stroke-width="0.75" />
<line x1="315.97" y1="833.86" x2="320.37" y2="833.86" stroke="#ee7a7a" stroke-width="0.75" />
<line x1="320.30" y1="795.85" x2="320.30" y2="832.53" stroke="#ee7a7a" stroke-width="0.75" />
<line x1="318.10" y1="795.85" x2="322.50" y2="795.85" stroke="#ee7a7a" stroke-width="0.75" />
<line x1="318.10" y1="832.53" x2="322.50" y2="832.53" stroke="#ee7a7a" stroke-width="0.75" />
<line x1="322.43" y1="793.39" x2="322.43" y2="831.17" stroke="#ee7a7a" stroke-width="0.75" />
<line x1="320.23" y1="793.39" x2="324.63" y2="793.39" stroke="#ee7a7a" stroke-width="0.75" />
<line x1="320.23" y1="831.17" x2="324.63" y2="831.17" stroke="#ee7a7a" stroke-width="0.75" />
<line x1="324.56" y1="791.04" x2="324.56" y2="829.87" stroke="#ee7a7a" stroke-width="0.75" />
<line x1="322.36" y1="791.04" x2="326.76" y2="791.04" stroke="#ee7a7a" stroke-width="0.75" />
<line x1="322.36" y1="829.87" x2="326.76" y2="829.87" stroke="#ee7a7a" stroke-width="0.75" />
<line x1="326.69" y1="788.85" x2="326.69" y2="828.60" stroke="#ee7a7a" stroke-width="0.75" />
<line x1="324.49" y1="788.85" x2="328.89" y2="788.85" stroke="#ee7a7a" stroke-width="0.75" />
<line x1="324.49" y1="828.60" x2="328.89" y2="828.60" stroke="#ee7a7a" stroke-width="0.75" />
<line x1="328.82" y1="786.74" x2="328.82" y2="827.33" stroke="#ee7a7a" stroke-width="0.75" />
<line x1="326.62" y1="786.74" x2="331.02" y2="786.74" stroke="#ee7a7a" stroke-width="0.75" />
<line x1="326.62" y1="827.33" x2="331.02" y2="827.33" stroke="#ee7a7a" stroke-width="0.75" />
<line x1="330.95" y1="784.63" x2="330.95" y2="826.12" stroke="#ee7a7a" stroke-width="0.75" />
<line x1="328.75" y1="784.63" x2="333.15" y2="784.63" stroke="#ee7a7a" stroke-width="0.75" />
<line x1="328.75" y1="826.12" x2="333.15" y2="826.12" stroke="#ee7a7a" stroke-width="0.75" />
<line x1="333.08" y1="782.47" x2="333.08" y2="825.02" stroke="#ee7a7a" stroke-width="0.75" />
<line x1="330.88" y1="782.47" x2="335.28" y2="782.47" stroke="#ee7a7a" stroke-width="0.75" />
<line x1="330.88" y1="825.02" x2="335.28" y2="825.02" stroke="#ee7a7a" stroke-width="0.75" />
<line x1="335.21" y1="780.10" x2="335.21" y2="824.08" stroke="#ee7a7a" stroke-width="0.75" />
<line x1="333.01" y1="780.10" x2="337.41" y2="780.10" stroke="#ee7a7a" stroke-width="0.75" />
<line x1="333.01" y1="824.08" x2="337.41" y2="824.08" stroke="#ee7a7a" stroke-width="0.75" />
<line x1="337.34" y1="777.42" x2="337.34" y2="823.19" stroke="#ee7a7a" stroke-width="0.75" />
<line x1="335.14" y1="777.42" x2="339.54" y2="777.42" stroke="#ee7a7a" stroke-width="0.75" />
<line x1="335.14" y1="823.19" x2="339.54" y2="823.19" stroke="#ee7a7a" stroke-width="0.75" />
<line x1="339.47" y1="775.19" x2="339.47" y2="822.35" stroke="#ee7a7a" stroke-width="0.75" />
<line x1="337.27" y1="775.19" x2="341.67" y2="775.19" stroke="#ee7a7a" stroke-width="0.75" />
<line x1="337.27" y1="822.35" x2="341.67" y2="822.35" stroke="#ee7a7a" stroke-width="0.75" />
<line x1="341.60" y1="773.86" x2="341.60" y2="821.56" stroke="#ee7a7a" stroke-width="0.75" />
<line x1="339.40" y1="773.86" x2="343.80" y2="773.86" stroke="#ee7a7a" stroke-width="0.75" />
<line x1="339.40" y1="821.56" x2="343.80" y2="821.56" stroke="#ee7a7a" stroke-width="0.75" />
<line x1="343.73" y1="772.87" x2="343.73" y2="820.83" stroke="#ee7a7a" stroke-width="0.75" />
<line x1="341.53" y1="772.87" x2="345.93" y2="772.87" stroke="#ee7a7a" stroke-width="0.75" />
<line x1="341.53" y1="820.83" x2="345.93" y2="820.83" stroke="#ee7a7a" stroke-width="0.75" />
<line x1="345.86" y1="772.05" x2="345.86" y2="820.15" stroke="#ee7a7a" stroke-width="0.75" />
<line x1="343.66" y1="772.05" x2="348.06" y2="772.05" stroke="#ee7a7a" stroke-width="0.75" />
<line x1="343.66" y1="820.15" x2="348.06" y2="820.15" stroke="#ee7a7a" stroke-width="0.75" />
<line x1="347.99" y1="771.25" x2="347.99" y2="819.53" stroke="#ee7a7a" stroke-width="0.75" />
<line x1="345.79" y1="771.25" x2="350.19" y2="771.25" stroke="#ee7a7a" stroke-width="0.75" />
<line x1="345.79" y1="819.53" x2="350.19" y2="819.53" stroke="#ee7a7a" stroke-width="0.75" />
<line x1="350.12" y1="770.34" x2="350.12" y2="818.97" stroke="#ee7a7a" stroke-width="0.75" />
<line x1="347.92" y1="770.34" x2="352.32" y2="770.34" stroke="#ee7a7a" stroke-width="0.75" />
<line x1="347.92" y1="818.97" x2="352.32" y2="818.97" stroke="#ee7a7a" stroke-width="0.75" />
<line x1="352.25" y1="769.30" x2="352.25" y2="818.48" stroke="#ee7a7a" stroke-width="0.75" />
<line x1="350.05" y1="769.30" x2="354.45" y2="769.30" stroke="#ee7a7a" stroke-width="0.75" />
<line x1="350.05" y1="818.48" x2="354.45" y2="818.48" stroke="#ee7a7a" stroke-width="0.75" />
<line x1="354.38" y1="768.21" x2="354.38" y2="818.06" stroke="#ee7a7a" stroke-width="0.75" />
<line x1="352.18" y1="768.21" x2="356.58" y2="768.21" stroke="#ee7a7a" stroke-width="0.75" />
<line x1="352.18" y1="818.06" x2="356.58" y2="818.06" stroke="#ee7a7a" stroke-width="0.75" />
<line x1="356.51" y1="767.11" x2="356.51" y2="817.66" stroke="#ee7a7a" stroke-width="0.75" />
<line x1="354.31" y1="767.11" x2="358.71" y2="767.11" stroke="#ee7a7a" stroke-width="0.75" />
<line x1="354.31" y1="817.66" x2="358.71" y2="817.66" stroke="#ee7a7a" stroke-width="0.75" />
<line x1="358.64" y1="766.04" x2="358.64" y2="817.27" stroke="#ee7a7a" stroke-width="0.75" />
<line x1="356.44" y1="766.04" x2="360.84" y2="766.04" stroke="#ee7a7a" stroke-width="0.75" />
<line x1="356.44" y1="817.27" x2="360.84" y2="817.27" stroke="#ee7a7a" stroke-width="0.75" />
<line x1="360.77" y1="765.05" x2="360.77" y2="816.84" stroke="#ee7a7a" stroke-width="0.75" />
<line x1="358.57" y1="765.05" x2="362.97" y2="765.05" stroke="#ee7a7a" stroke-width="0.75" />
<line x1="358.57" y1="816.84" x2="362.97" y2="816.84" stroke="#ee7a7a" stroke-width="0.75" />
<line x1="362.90" y1="764.09" x2="362.90" y2="816.41" stroke="#ee7a7a" stroke-width="0.75" />
<line x1="360.70" y1="764.09" x2="365.10" y2="764.09" stroke="#ee7a7a" stroke-width="0.75" />
<line x1="360.70" y1="816.41" x2="365.10" y2="816.41" stroke="#ee7a7a" stroke-width="0.75" />
<line x1="365.03" y1="763.16" x2="365.03" y2="815.97" stroke="#ee7a7a" stroke-width="0.75" />
<line x1="362.83" y1="763.16" x2="367.23" y2="763.16" stroke="#ee7a7a" stroke-width="0.75" />
<line x1="362.83" y1="815.97" x2="367.23" y2="815.97" stroke="#ee7a7a" stroke-width="0.75" />
<line x1="367.16" y1="762.26" x2="367.16" y2="815.53" stroke="#ee7a7a" stroke-width="0.75" />
<line x1="364.96" y1="762.26" x2="369.36" y2="762.26" stroke="#ee7a7a" stroke-width="0.75" />
<line x1="364.96" y1="815.53" x2="369.36" y2="815.53" stroke="#ee7a7a" stroke-width="0.75" />
<line x1="369.29" y1="761.39" x2="369.29" y2="815.09" stroke="#ee7a7a" stroke-width="0.75" />
<line x1="367.09" y1="761.39" x2="371.49" y2="761.39" stroke="#ee7a7a" stroke-width="0.75" />
<line x1="367.09" y1="815.09" x2="371.49" y2="815.09" stroke="#ee7a7a" stroke-width="0.75" />
<line x1="371.42" y1="760.55" x2="371.42" y2="814.65" stroke="#ee7a7a" stroke-width="0.75" />
<line x1="369.22" y1="760.55" x2="373.62" y2="760.55" stroke="#ee7a7a" stroke-width="0.75" />
<line x1="369.22" y1="814.65" x2="373.62" y2="814.65" stroke="#ee7a7a" stroke-width="0.75" />
<polyline points="254.30,875.00 255.49,873.61 256.69,872.22 257.88,870.83 259.08,869.43 260.27,868.03 261.47,866.62 262.66,865.21 263.86,863.79 265.05,862.36 266.25,860.92 267.44,859.48 268.64,858.06 269.83,856.65 271.03,855.26 272.22,853.89 273.42,852.51 274.61,851.15 275.81,849.80 277.00,848.47 278.20,847.17 279.39,845.92 280.59,844.71 281.78,843.55 282.98,842.41 284.17,841.30 285.37,840.22 286.56,839.18 287.76,838.17 288.95,837.20 290.15,836.26 291.34,835.36 292.54,834.49 293.73,833.65 294.93,832.83 296.12,832.03 297.32,831.24 298.51,830.47 299.71,829.73 300.90,829.01 302.10,828.30 303.29,827.61 304.49,826.92 305.68,826.22 306.88,825.51 308.07,824.80 309.27,824.10 310.46,823.39 311.66,822.69 312.85,821.97 314.05,821.24 315.24,820.49 316.44,819.72 317.63,818.95 318.83,818.17 320.02,817.37 321.22,816.54 322.41,815.69 323.61,814.80 324.80,813.86 326.00,812.82 327.19,811.70 328.39,810.53 329.58,809.33 330.78,808.14 331.97,806.98 333.17,805.90 334.36,804.91 335.56,803.91 336.75,802.93 337.95,802.03 339.14,801.29 340.34,800.78 341.53,800.45 342.73,800.20 343.92,799.93 345.12,799.56 346.31,798.95 347.51,798.16 348.70,797.34 349.90,796.65 351.09,796.12 352.29,795.65 353.48,795.22 354.68,794.82 355.87,794.44 357.07,794.05 358.26,793.64 359.46,793.21 360.65,792.74 361.85,792.26 363.04,791.76 364.24,791.25 365.43,790.73 366.63,790.21 367.82,789.67 369.02,789.11 370.21,788.55 371.41,787.98 372.60,787.40" fill="none" stroke="#e5161b" stroke-width="2.7" stroke-linejoin="round" />
<line x1="256.40" y1="874.61" x2="256.40" y2="874.93" stroke="#8a8a8a" stroke-width="0.75" />
<line x1="254.20" y1="874.61" x2="258.60" y2="874.61" stroke="#8a8a8a" stroke-width="0.75" />
<line x1="254.20" y1="874.93" x2="258.60" y2="874.93" stroke="#8a8a8a" stroke-width="0.75" />
<line x1="258.53" y1="874.22" x2="258.53" y2="874.87" stroke="#8a8a8a" stroke-width="0.75" />
<line x1="256.33" y1="874.22" x2="260.73" y2="874.22" stroke="#8a8a8a" stroke-width="0.75" />
<line x1="256.33" y1="874.87" x2="260.73" y2="874.87" stroke="#8a8a8a" stroke-width="0.75" />
<line x1="260.66" y1="873.82" x2="260.66" y2="874.79" stroke="#8a8a8a" stroke-width="0.75" />
<line x1="258.46" y1="873.82" x2="262.86" y2="873.82" stroke="#8a8a8a" stroke-width="0.75" />
<line x1="258.46" y1="874.79" x2="262.86" y2="874.79" stroke="#8a8a8a" stroke-width="0.75" />
<line x1="262.79" y1="873.43" x2="262.79" y2="874.72" stroke="#8a8a8a" stroke-width="0.75" />
<line x1="260.59" y1="873.43" x2="264.99" y2="873.43" stroke="#8a8a8a" stroke-width="0.75" />
<line x1="260.59" y1="874.72" x2="264.99" y2="874.72" stroke="#8a8a8a" stroke-width="0.75" />
<line x1="264.92" y1="873.05" x2="264.92" y2="874.65" stroke="#8a8a8a" stroke-width="0.75" />
<line x1="262.72" y1="873.05" x2="267.12" y2="873.05" stroke="#8a8a8a" stroke-width="0.75" />
<line x1="262.72" y1="874.65" x2="267.12" y2="874.65" stroke="#8a8a8a" stroke-width="0.75" />
<line x1="267.05" y1="872.66" x2="267.05" y2="874.57" stroke="#8a8a8a" stroke-width="0.75" />
<line x1="264.85" y1="872.66" x2="269.25" y2="872.66" stroke="#8a8a8a" stroke-width="0.75" />
<line x1="264.85" y1="874.57" x2="269.25" y2="874.57" stroke="#8a8a8a" stroke-width="0.75" />
<line x1="269.18" y1="872.28" x2="269.18" y2="874.50" stroke="#8a8a8a" stroke-width="0.75" />
<line x1="266.98" y1="872.28" x2="271.38" y2="872.28" stroke="#8a8a8a" stroke-width="0.75" />
<line x1="266.98" y1="874.50" x2="271.38" y2="874.50" stroke="#8a8a8a" stroke-width="0.75" />
<line x1="271.31" y1="871.90" x2="271.31" y2="874.42" stroke="#8a8a8a" stroke-width="0.75" />
<line x1="269.11" y1="871.90" x2="273.51" y2="871.90" stroke="#8a8a8a" stroke-width="0.75" />
<line x1="269.11" y1="874.42" x2="273.51" y2="874.42" stroke="#8a8a8a" stroke-width="0.75" />
<line x1="273.44" y1="871.53" x2="273.44" y2="874.34" stroke="#8a8a8a" stroke-width="0.75" />
<line x1="271.24" y1="871.53" x2="275.64" y2="871.53" stroke="#8a8a8a" stroke-width="0.75" />
<line x1="271.24" y1="874.34" x2="275.64" y2="874.34" stroke="#8a8a8a" stroke-width="0.75" />
<line x1="275.57" y1="871.15" x2="275.57" y2="874.26" stroke="#8a8a8a" stroke-width="0.75" />
<line x1="273.37" y1="871.15" x2="277.77" y2="871.15" stroke="#8a8a8a" stroke-width="0.75" />
<line x1="273.37" y1="874.26" x2="277.77" y2="874.26" stroke="#8a8a8a" stroke-width="0.75" />
<line x1="277.70" y1="870.78" x2="277.70" y2="874.18" stroke="#8a8a8a" stroke-width="0.75" />
<line x1="275.50" y1="870.78" x2="279.90" y2="870.78" stroke="#8a8a8a" stroke-width="0.75" />
<line x1="275.50" y1="874.18" x2="279.90" y2="874.18" stroke="#8a8a8a" stroke-width="0.75" />
<line x1="279.83" y1="870.41" x2="279.83" y2="874.09" stroke="#8a8a8a" stroke-width="0.75" />
<line x1="277.63" y1="870.41" x2="282.03" y2="870.41" stroke="#8a8a8a" stroke-width="0.75" />
<line x1="277.63" y1="874.09" x2="282.03" y2="874.09" stroke="#8a8a8a" stroke-width="0.75" />
<line x1="281.96" y1="870.04" x2="281.96" y2="874.01" stroke="#8a8a8a" stroke-width="0.75" />
<line x1="279.76" y1="870.04" x2="284.16" y2="870.04" stroke="#8a8a8a" stroke-width="0.75" />
<line x1="279.76" y1="874.01" x2="284.16" y2="874.01" stroke="#8a8a8a" stroke-width="0.75" />
<line x1="284.09" y1="869.68" x2="284.09" y2="873.92" stroke="#8a8a8a" stroke-width="0.75" />
<line x1="281.89" y1="869.68" x2="286.29" y2="869.68" stroke="#8a8a8a" stroke-width="0.75" />
<line x1="281.89" y1="873.92" x2="286.29" y2="873.92" stroke="#8a8a8a" stroke-width="0.75" />
<line x1="286.22" y1="869.31" x2="286.22" y2="873.84" stroke="#8a8a8a" stroke-width="0.75" />
<line x1="284.02" y1="869.31" x2="288.42" y2="869.31" stroke="#8a8a8a" stroke-width="0.75" />
<line x1="284.02" y1="873.84" x2="288.42" y2="873.84" stroke="#8a8a8a" stroke-width="0.75" />
<line x1="288.35" y1="868.95" x2="288.35" y2="873.75" stroke="#8a8a8a" stroke-width="0.75" />
<line x1="286.15" y1="868.95" x2="290.55" y2="868.95" stroke="#8a8a8a" stroke-width="0.75" />
<line x1="286.15" y1="873.75" x2="290.55" y2="873.75" stroke="#8a8a8a" stroke-width="0.75" />
<line x1="290.48" y1="868.59" x2="290.48" y2="873.66" stroke="#8a8a8a" stroke-width="0.75" />
<line x1="288.28" y1="868.59" x2="292.68" y2="868.59" stroke="#8a8a8a" stroke-width="0.75" />
<line x1="288.28" y1="873.66" x2="292.68" y2="873.66" stroke="#8a8a8a" stroke-width="0.75" />
<line x1="292.61" y1="868.24" x2="292.61" y2="873.56" stroke="#8a8a8a" stroke-width="0.75" />
<line x1="290.41" y1="868.24" x2="294.81" y2="868.24" stroke="#8a8a8a" stroke-width="0.75" />
<line x1="290.41" y1="873.56" x2="294.81" y2="873.56" stroke="#8a8a8a" stroke-width="0.75" />
<line x1="294.74" y1="867.88" x2="294.74" y2="873.47" stroke="#8a8a8a" stroke-width="0.75" />
<line x1="292.54" y1="867.88" x2="296.94" y2="867.88" stroke="#8a8a8a" stroke-width="0.75" />
<line x1="292.54" y1="873.47" x2="296.94" y2="873.47" stroke="#8a8a8a" stroke-width="0.75" />
<line x1="296.87" y1="867.53" x2="296.87" y2="873.38" stroke="#8a8a8a" stroke-width="0.75" />
<line x1="294.67" y1="867.53" x2="299.07" y2="867.53" stroke="#8a8a8a" stroke-width="0.75" />
<line x1="294.67" y1="873.38" x2="299.07" y2="873.38" stroke="#8a8a8a" stroke-width="0.75" />
<line x1="299.00" y1="867.18" x2="299.00" y2="873.28" stroke="#8a8a8a" stroke-width="0.75" />
<line x1="296.80" y1="867.18" x2="301.20" y2="867.18" stroke="#8a8a8a" stroke-width="0.75" />
<line x1="296.80" y1="873.28" x2="301.20" y2="873.28" stroke="#8a8a8a" stroke-width="0.75" />
<line x1="301.13" y1="866.84" x2="301.13" y2="873.19" stroke="#8a8a8a" stroke-width="0.75" />
<line x1="298.93" y1="866.84" x2="303.33" y2="866.84" stroke="#8a8a8a" stroke-width="0.75" />
<line x1="298.93" y1="873.19" x2="303.33" y2="873.19" stroke="#8a8a8a" stroke-width="0.75" />
<line x1="303.26" y1="866.49" x2="303.26" y2="873.09" stroke="#8a8a8a" stroke-width="0.75" />
<line x1="301.06" y1="866.49" x2="305.46" y2="866.49" stroke="#8a8a8a" stroke-width="0.75" />
<line x1="301.06" y1="873.09" x2="305.46" y2="873.09" stroke="#8a8a8a" stroke-width="0.75" />
<line x1="305.39" y1="866.15" x2="305.39" y2="872.99" stroke="#8a8a8a" stroke-width="0.75" />
<line x1="303.19" y1="866.15" x2="307.59" y2="866.15" stroke="#8a8a8a" stroke-width="0.75" />
<line x1="303.19" y1="872.99" x2="307.59" y2="872.99" stroke="#8a8a8a" stroke-width="0.75" />
<line x1="307.52" y1="865.81" x2="307.52" y2="872.89" stroke="#8a8a8a" stroke-width="0.75" />
<line x1="305.32" y1="865.81" x2="309.72" y2="865.81" stroke="#8a8a8a" stroke-width="0.75" />
<line x1="305.32" y1="872.89" x2="309.72" y2="872.89" stroke="#8a8a8a" stroke-width="0.75" />
<line x1="309.65" y1="865.48" x2="309.65" y2="872.79" stroke="#8a8a8a" stroke-width="0.75" />
<line x1="307.45" y1="865.48" x2="311.85" y2="865.48" stroke="#8a8a8a" stroke-width="0.75" />
<line x1="307.45" y1="872.79" x2="311.85" y2="872.79" stroke="#8a8a8a" stroke-width="0.75" />
<line x1="311.78" y1="865.14" x2="311.78" y2="872.69" stroke="#8a8a8a" stroke-width="0.75" />
<line x1="309.58" y1="865.14" x2="313.98" y2="865.14" stroke="#8a8a8a" stroke-width="0.75" />
<line x1="309.58" y1="872.69" x2="313.98" y2="872.69" stroke="#8a8a8a" stroke-width="0.75" />
<line x1="313.91" y1="864.82" x2="313.91" y2="872.59" stroke="#8a8a8a" stroke-width="0.75" />
<line x1="311.71" y1="864.82" x2="316.11" y2="864.82" stroke="#8a8a8a" stroke-width="0.75" />
<line x1="311.71" y1="872.59" x2="316.11" y2="872.59" stroke="#8a8a8a" stroke-width="0.75" />
<line x1="316.04" y1="864.49" x2="316.04" y2="872.48" stroke="#8a8a8a" stroke-width="0.75" />
<line x1="313.84" y1="864.49" x2="318.24" y2="864.49" stroke="#8a8a8a" stroke-width="0.75" />
<line x1="313.84" y1="872.48" x2="318.24" y2="872.48" stroke="#8a8a8a" stroke-width="0.75" />
<line x1="318.17" y1="864.17" x2="318.17" y2="872.38" stroke="#8a8a8a" stroke-width="0.75" />
<line x1="315.97" y1="864.17" x2="320.37" y2="864.17" stroke="#8a8a8a" stroke-width="0.75" />
<line x1="315.97" y1="872.38" x2="320.37" y2="872.38" stroke="#8a8a8a" stroke-width="0.75" />
<line x1="320.30" y1="863.86" x2="320.30" y2="872.27" stroke="#8a8a8a" stroke-width="0.75" />
<line x1="318.10" y1="863.86" x2="322.50" y2="863.86" stroke="#8a8a8a" stroke-width="0.75" />
<line x1="318.10" y1="872.27" x2="322.50" y2="872.27" stroke="#8a8a8a" stroke-width="0.75" />
<line x1="322.43" y1="863.55" x2="322.43" y2="872.16" stroke="#8a8a8a" stroke-width="0.75" />
<line x1="320.23" y1="863.55" x2="324.63" y2="863.55" stroke="#8a8a8a" stroke-width="0.75" />
<line x1="320.23" y1="872.16" x2="324.63" y2="872.16" stroke="#8a8a8a" stroke-width="0.75" />
<line x1="324.56" y1="863.24" x2="324.56" y2="872.04" stroke="#8a8a8a" stroke-width="0.75" />
<line x1="322.36" y1="863.24" x2="326.76" y2="863.24" stroke="#8a8a8a" stroke-width="0.75" />
<line x1="322.36" y1="872.04" x2="326.76" y2="872.04" stroke="#8a8a8a" stroke-width="0.75" />
<line x1="326.69" y1="862.93" x2="326.69" y2="871.93" stroke="#8a8a8a" stroke-width="0.75" />
<line x1="324.49" y1="862.93" x2="328.89" y2="862.93" stroke="#8a8a8a" stroke-width="0.75" />
<line x1="324.49" y1="871.93" x2="328.89" y2="871.93" stroke="#8a8a8a" stroke-width="0.75" />
<line x1="328.82" y1="862.62" x2="328.82" y2="871.81" stroke="#8a8a8a" stroke-width="0.75" />
<line x1="326.62" y1="862.62" x2="331.02" y2="862.62" stroke="#8a8a8a" stroke-width="0.75" />
<line x1="326.62" y1="871.81" x2="331.02" y2="871.81" stroke="#8a8a8a" stroke-width="0.75" />
<line x1="330.95" y1="862.32" x2="330.95" y2="871.70" stroke="#8a8a8a" stroke-width="0.75" />
<line x1="328.75" y1="862.32" x2="333.15" y2="862.32" stroke="#8a8a8a" stroke-width="0.75" />
<line x1="328.75" y1="871.70" x2="333.15" y2="871.70" stroke="#8a8a8a" stroke-width="0.75" />
<line x1="333.08" y1="862.01" x2="333.08" y2="871.58" stroke="#8a8a8a" stroke-width="0.75" />
<line x1="330.88" y1="862.01" x2="335.28" y2="862.01" stroke="#8a8a8a" stroke-width="0.75" />
<line x1="330.88" y1="871.58" x2="335.28" y2="871.58" stroke="#8a8a8a" stroke-width="0.75" />
<line x1="335.21" y1="861.71" x2="335.21" y2="871.46" stroke="#8a8a8a" stroke-width="0.75" />
<line x1="333.01" y1="861.71" x2="337.41" y2="861.71" stroke="#8a8a8a" stroke-width="0.75" />
<line x1="333.01" y1="871.46" x2="337.41" y2="871.46" stroke="#8a8a8a" stroke-width="0.75" />
<line x1="337.34" y1="861.41" x2="337.34" y2="871.34" stroke="#8a8a8a" stroke-width="0.75" />
<line x1="335.14" y1="861.41" x2="339.54" y2="861.41" stroke="#8a8a8a" stroke-width="0.75" />
<line x1="335.14" y1="871.34" x2="339.54" y2="871.34" stroke="#8a8a8a" stroke-width="0.75" />
<line x1="339.47" y1="861.10" x2="339.47" y2="871.21" stroke="#8a8a8a" stroke-width="0.75" />
<line x1="337.27" y1="861.10" x2="341.67" y2="861.10" stroke="#8a8a8a" stroke-width="0.75" />
<line x1="337.27" y1="871.21" x2="341.67" y2="871.21" stroke="#8a8a8a" stroke-width="0.75" />
<line x1="341.60" y1="860.80" x2="341.60" y2="871.09" stroke="#8a8a8a" stroke-width="0.75" />
<line x1="339.40" y1="860.80" x2="343.80" y2="860.80" stroke="#8a8a8a" stroke-width="0.75" />
<line x1="339.40" y1="871.09" x2="343.80" y2="871.09" stroke="#8a8a8a" stroke-width="0.75" />
<line x1="343.73" y1="860.49" x2="343.73" y2="870.96" stroke="#8a8a8a" stroke-width="0.75" />
<line x1="341.53" y1="860.49" x2="345.93" y2="860.49" stroke="#8a8a8a" stroke-width="0.75" />
<line x1="341.53" y1="870.96" x2="345.93" y2="870.96" stroke="#8a8a8a" stroke-width="0.75" />
<line x1="345.86" y1="860.18" x2="345.86" y2="870.83" stroke="#8a8a8a" stroke-width="0.75" />
<line x1="343.66" y1="860.18" x2="348.06" y2="860.18" stroke="#8a8a8a" stroke-width="0.75" />
<line x1="343.66" y1="870.83" x2="348.06" y2="870.83" stroke="#8a8a8a" stroke-width="0.75" />
<line x1="347.99" y1="859.86" x2="347.99" y2="870.70" stroke="#8a8a8a" stroke-width="0.75" />
<line x1="345.79" y1="859.86" x2="350.19" y2="859.86" stroke="#8a8a8a" stroke-width="0.75" />
<line x1="345.79" y1="870.70" x2="350.19" y2="870.70" stroke="#8a8a8a" stroke-width="0.75" />
<line x1="350.12" y1="859.55" x2="350.12" y2="870.57" stroke="#8a8a8a" stroke-width="0.75" />
<line x1="347.92" y1="859.55" x2="352.32" y2="859.55" stroke="#8a8a8a" stroke-width="0.75" />
<line x1="347.92" y1="870.57" x2="352.32" y2="870.57" stroke="#8a8a8a" stroke-width="0.75" />
<line x1="352.25" y1="859.23" x2="352.25" y2="870.44" stroke="#8a8a8a" stroke-width="0.75" />
<line x1="350.05" y1="859.23" x2="354.45" y2="859.23" stroke="#8a8a8a" stroke-width="0.75" />
<line x1="350.05" y1="870.44" x2="354.45" y2="870.44" stroke="#8a8a8a" stroke-width="0.75" />
<line x1="354.38" y1="858.90" x2="354.38" y2="870.30" stroke="#8a8a8a" stroke-width="0.75" />
<line x1="352.18" y1="858.90" x2="356.58" y2="858.90" stroke="#8a8a8a" stroke-width="0.75" />
<line x1="352.18" y1="870.30" x2="356.58" y2="870.30" stroke="#8a8a8a" stroke-width="0.75" />
<line x1="356.51" y1="858.58" x2="356.51" y2="870.17" stroke="#8a8a8a" stroke-width="0.75" />
<line x1="354.31" y1="858.58" x2="358.71" y2="858.58" stroke="#8a8a8a" stroke-width="0.75" />
<line x1="354.31" y1="870.17" x2="358.71" y2="870.17" stroke="#8a8a8a" stroke-width="0.75" />
<line x1="358.64" y1="858.26" x2="358.64" y2="870.03" stroke="#8a8a8a" stroke-width="0.75" />
<line x1="356.44" y1="858.26" x2="360.84" y2="858.26" stroke="#8a8a8a" stroke-width="0.75" />
<line x1="356.44" y1="870.03" x2="360.84" y2="870.03" stroke="#8a8a8a" stroke-width="0.75" />
<line x1="360.77" y1="857.93" x2="360.77" y2="869.89" stroke="#8a8a8a" stroke-width="0.75" />
<line x1="358.57" y1="857.93" x2="362.97" y2="857.93" stroke="#8a8a8a" stroke-width="0.75" />
<line x1="358.57" y1="869.89" x2="362.97" y2="869.89" stroke="#8a8a8a" stroke-width="0.75" />
<line x1="362.90" y1="857.60" x2="362.90" y2="869.75" stroke="#8a8a8a" stroke-width="0.75" />
<line x1="360.70" y1="857.60" x2="365.10" y2="857.60" stroke="#8a8a8a" stroke-width="0.75" />
<line x1="360.70" y1="869.75" x2="365.10" y2="869.75" stroke="#8a8a8a" stroke-width="0.75" />
<line x1="365.03" y1="857.27" x2="365.03" y2="869.61" stroke="#8a8a8a" stroke-width="0.75" />
<line x1="362.83" y1="857.27" x2="367.23" y2="857.27" stroke="#8a8a8a" stroke-width="0.75" />
<line x1="362.83" y1="869.61" x2="367.23" y2="869.61" stroke="#8a8a8a" stroke-width="0.75" />
<line x1="367.16" y1="856.95" x2="367.16" y2="869.47" stroke="#8a8a8a" stroke-width="0.75" />
<line x1="364.96" y1="856.95" x2="369.36" y2="856.95" stroke="#8a8a8a" stroke-width="0.75" />
<line x1="364.96" y1="869.47" x2="369.36" y2="869.47" stroke="#8a8a8a" stroke-width="0.75" />
<line x1="369.29" y1="856.61" x2="369.29" y2="869.33" stroke="#8a8a8a" stroke-width="0.75" />
<line x1="367.09" y1="856.61" x2="371.49" y2="856.61" stroke="#8a8a8a" stroke-width="0.75" />
<line x1="367.09" y1="869.33" x2="371.49" y2="869.33" stroke="#8a8a8a" stroke-width="0.75" />
<line x1="371.42" y1="856.28" x2="371.42" y2="869.18" stroke="#8a8a8a" stroke-width="0.75" />
<line x1="369.22" y1="856.28" x2="373.62" y2="856.28" stroke="#8a8a8a" stroke-width="0.75" />
<line x1="369.22" y1="869.18" x2="373.62" y2="869.18" stroke="#8a8a8a" stroke-width="0.75" />
<polyline points="254.30,875.00 255.49,874.86 256.69,874.73 257.88,874.60 259.08,874.46 260.27,874.33 261.47,874.19 262.66,874.06 263.86,873.93 265.05,873.80 266.25,873.66 267.44,873.53 268.64,873.40 269.83,873.27 271.03,873.14 272.22,873.01 273.42,872.88 274.61,872.75 275.81,872.62 277.00,872.49 278.20,872.36 279.39,872.23 280.59,872.11 281.78,871.98 282.98,871.85 284.17,871.72 285.37,871.60 286.56,871.47 287.76,871.35 288.95,871.22 290.15,871.09 291.34,870.97 292.54,870.84 293.73,870.72 294.93,870.59 296.12,870.47 297.32,870.35 298.51,870.22 299.71,870.10 300.90,869.98 302.10,869.85 303.29,869.73 304.49,869.61 305.68,869.49 306.88,869.37 308.07,869.24 309.27,869.12 310.46,869.00 311.66,868.88 312.85,868.76 314.05,868.65 315.24,868.53 316.44,868.41 317.63,868.30 318.83,868.18 320.02,868.07 321.22,867.95 322.41,867.84 323.61,867.72 324.80,867.61 326.00,867.50 327.19,867.38 328.39,867.27 329.58,867.15 330.78,867.04 331.97,866.92 333.17,866.81 334.36,866.69 335.56,866.57 336.75,866.45 337.95,866.34 339.14,866.22 340.34,866.10 341.53,865.98 342.73,865.86 343.92,865.74 345.12,865.62 346.31,865.50 347.51,865.38 348.70,865.26 349.90,865.14 351.09,865.02 352.29,864.89 353.48,864.77 354.68,864.65 355.87,864.53 357.07,864.41 358.26,864.29 359.46,864.16 360.65,864.04 361.85,863.92 363.04,863.79 364.24,863.67 365.43,863.55 366.63,863.42 367.82,863.30 369.02,863.17 370.21,863.05 371.41,862.92 372.60,862.80" fill="none" stroke="#000" stroke-width="2.7" stroke-linejoin="round" />
<text x="382.00" y="791.60" font-size="12.8" text-anchor="start" fill="#e0201c" font-weight="normal" textLength="75.00" lengthAdjust="spacing" >Latrunculin B</text>
<text x="381.60" y="867.00" font-size="12.8" text-anchor="start" fill="#000" font-weight="normal" textLength="41.00" lengthAdjust="spacing" >Control</text>
<polygon points="71.85,412.53 75.26,410.48 78.80,409.59 81.76,409.03 85.05,408.66 87.75,410.01 89.45,412.96 88.54,415.52 85.03,416.56 80.27,416.68 76.10,416.22 73.31,414.67" fill="#000" stroke="#000" stroke-width="1.5" stroke-linejoin="round"/>
<circle cx="71.86" cy="413.07" r="1.47"/>
<circle cx="75.06" cy="410.36" r="1.62"/>
<circle cx="79.03" cy="409.56" r="1.63"/>
<circle cx="81.02" cy="409.65" r="1.43"/>
<circle cx="85.33" cy="408.61" r="1.26"/>
<circle cx="87.93" cy="410.34" r="1.43"/>
<circle cx="89.39" cy="413.23" r="1.64"/>
<circle cx="87.93" cy="415.68" r="1.42"/>
<circle cx="84.27" cy="416.23" r="1.31"/>
<circle cx="79.80" cy="416.08" r="1.26"/>
<circle cx="76.46" cy="416.13" r="1.24"/>
<circle cx="73.46" cy="414.96" r="1.27"/>
<polygon points="108.75,441.03 111.24,439.04 114.54,437.44 118.38,437.00 122.33,437.67 124.15,440.60 123.02,443.56 119.14,444.76 115.32,444.79 112.11,444.03 109.79,443.11" fill="#000" stroke="#000" stroke-width="1.5" stroke-linejoin="round"/>
<circle cx="108.97" cy="441.45" r="1.61"/>
<circle cx="110.91" cy="439.18" r="1.29"/>
<circle cx="114.98" cy="436.92" r="1.61"/>
<circle cx="118.04" cy="436.30" r="1.21"/>
<circle cx="122.54" cy="437.38" r="1.41"/>
<circle cx="124.48" cy="440.85" r="1.22"/>
<circle cx="123.41" cy="443.03" r="1.34"/>
<circle cx="119.38" cy="444.05" r="1.28"/>
<circle cx="115.22" cy="445.10" r="1.41"/>
<circle cx="112.10" cy="444.17" r="1.23"/>
<circle cx="110.03" cy="443.07" r="1.21"/>
<polygon points="163.55,434.12 165.02,432.23 167.74,431.84 170.22,432.09 172.46,433.74 172.61,436.08 170.71,437.62 167.39,437.20 164.64,436.26" fill="#000" stroke="#000" stroke-width="1.5" stroke-linejoin="round"/>
<circle cx="163.35" cy="434.55" r="1.16"/>
<circle cx="164.95" cy="432.49" r="1.43"/>
<circle cx="168.45" cy="431.21" r="1.21"/>
<circle cx="170.40" cy="432.05" r="1.53"/>
<circle cx="172.97" cy="433.24" r="1.30"/>
<circle cx="173.13" cy="435.44" r="1.14"/>
<circle cx="170.19" cy="437.71" r="1.22"/>
<circle cx="168.20" cy="436.49" r="1.35"/>
<circle cx="164.92" cy="436.89" r="1.45"/>
<polygon points="45.30,462.00 48.77,458.33 52.89,456.13 56.48,453.53 60.23,451.60 63.70,450.16 67.30,449.59 70.68,451.27 73.22,452.62 75.28,452.48 77.83,451.37 80.69,450.74 84.18,450.10 86.91,452.35 88.28,456.03 87.71,460.18 86.72,464.74 87.27,470.65 84.52,472.98 81.58,474.07 77.05,475.47 73.16,476.28 68.08,475.20 63.66,474.83 58.88,475.16 53.38,474.85 47.47,473.83 44.70,470.41 44.38,465.73" fill="#000" stroke="#000" stroke-width="1.5" stroke-linejoin="round"/>
<circle cx="45.00" cy="462.12" r="1.98"/>
<circle cx="46.95" cy="459.87" r="2.07"/>
<circle cx="48.89" cy="458.29" r="1.62"/>
<circle cx="52.37" cy="455.94" r="2.20"/>
<circle cx="56.40" cy="452.96" r="1.81"/>
<circle cx="60.44" cy="452.44" r="1.98"/>
<circle cx="63.51" cy="449.58" r="1.65"/>
<circle cx="68.33" cy="449.26" r="1.62"/>
<circle cx="70.91" cy="450.94" r="1.98"/>
<circle cx="73.08" cy="452.70" r="1.81"/>
<circle cx="75.29" cy="452.85" r="1.84"/>
<circle cx="77.96" cy="450.51" r="1.65"/>
<circle cx="81.01" cy="450.50" r="2.14"/>
<circle cx="84.39" cy="450.63" r="2.08"/>
<circle cx="87.32" cy="452.30" r="1.88"/>
<circle cx="87.99" cy="455.84" r="2.03"/>
<circle cx="87.49" cy="460.14" r="1.76"/>
<circle cx="86.58" cy="463.97" r="1.68"/>
<circle cx="87.08" cy="468.12" r="1.77"/>
<circle cx="87.01" cy="470.36" r="1.74"/>
<circle cx="84.82" cy="473.71" r="2.04"/>
<circle cx="81.26" cy="474.23" r="1.85"/>
<circle cx="77.27" cy="475.69" r="1.91"/>
<circle cx="73.23" cy="475.68" r="1.66"/>
<circle cx="71.08" cy="475.44" r="1.62"/>
<circle cx="67.90" cy="475.45" r="2.07"/>
<circle cx="63.78" cy="474.95" r="2.05"/>
<circle cx="58.70" cy="475.09" r="1.80"/>
<circle cx="56.29" cy="475.01" r="2.01"/>
<circle cx="52.85" cy="475.20" r="2.07"/>
<circle cx="50.13" cy="474.26" r="1.64"/>
<circle cx="47.59" cy="473.60" r="2.02"/>
<circle cx="44.36" cy="470.93" r="2.13"/>
<circle cx="43.91" cy="465.74" r="1.82"/>
<circle cx="80.3" cy="454.5" r="2.1" fill="#fff"/>
<circle cx="76.5" cy="453" r="1.1" fill="#fff"/>
<polygon points="105.20,491.41 109.00,488.67 113.99,487.66 118.11,483.27 121.45,482.62 123.13,485.69 126.58,488.08 131.57,488.63 137.42,489.05 140.14,487.88 145.64,485.31 145.46,479.17 147.25,474.73 151.93,475.68 157.68,474.31 160.83,476.88 165.31,479.63 166.75,483.11 167.40,489.42 164.72,493.74 161.57,496.51 156.38,498.72 153.40,500.01 145.46,500.53 138.16,503.50 130.52,506.65 122.68,504.93 114.64,504.06 108.10,500.40 105.65,497.39" fill="#000" stroke="#000" stroke-width="1.5" stroke-linejoin="round"/>
<circle cx="105.91" cy="490.80" r="1.87"/>
<circle cx="109.22" cy="488.09" r="1.68"/>
<circle cx="111.89" cy="488.35" r="1.92"/>
<circle cx="114.37" cy="487.73" r="2.12"/>
<circle cx="115.89" cy="485.41" r="1.64"/>
<circle cx="117.73" cy="483.58" r="1.63"/>
<circle cx="121.01" cy="482.77" r="1.67"/>
<circle cx="123.52" cy="485.48" r="2.03"/>
<circle cx="126.40" cy="488.03" r="1.75"/>
<circle cx="128.15" cy="488.43" r="1.86"/>
<circle cx="131.29" cy="488.04" r="2.18"/>
<circle cx="134.12" cy="489.17" r="1.82"/>
<circle cx="137.41" cy="489.49" r="1.63"/>
<circle cx="139.37" cy="487.94" r="2.04"/>
<circle cx="142.72" cy="486.71" r="1.63"/>
<circle cx="145.30" cy="484.71" r="2.13"/>
<circle cx="145.47" cy="482.10" r="2.05"/>
<circle cx="146.15" cy="479.00" r="1.95"/>
<circle cx="147.63" cy="475.01" r="2.09"/>
<circle cx="151.78" cy="475.97" r="1.67"/>
<circle cx="155.13" cy="474.75" r="2.00"/>
<circle cx="158.19" cy="474.46" r="1.78"/>
<circle cx="161.45" cy="476.38" r="2.01"/>
<circle cx="163.07" cy="477.78" r="2.18"/>
<circle cx="165.45" cy="479.16" r="1.70"/>
<circle cx="166.57" cy="482.35" r="1.80"/>
<circle cx="167.18" cy="486.52" r="1.84"/>
<circle cx="167.42" cy="489.61" r="1.83"/>
<circle cx="166.53" cy="491.64" r="2.14"/>
<circle cx="164.94" cy="493.32" r="2.08"/>
<circle cx="162.18" cy="496.65" r="1.84"/>
<circle cx="159.11" cy="497.42" r="2.08"/>
<circle cx="156.11" cy="498.83" r="1.88"/>
<circle cx="153.93" cy="499.81" r="1.82"/>
<circle cx="150.66" cy="500.04" r="1.61"/>
<circle cx="147.65" cy="500.52" r="2.12"/>
<circle cx="144.95" cy="500.67" r="1.61"/>
<circle cx="143.10" cy="500.80" r="1.74"/>
<circle cx="140.78" cy="502.50" r="1.82"/>
<circle cx="137.91" cy="503.22" r="2.13"/>
<circle cx="136.78" cy="504.24" r="1.95"/>
<circle cx="133.05" cy="505.58" r="1.79"/>
<circle cx="130.57" cy="506.35" r="1.93"/>
<circle cx="128.96" cy="506.59" r="1.81"/>
<circle cx="125.23" cy="505.15" r="1.73"/>
<circle cx="122.61" cy="505.70" r="2.17"/>
<circle cx="120.35" cy="504.72" r="1.68"/>
<circle cx="117.45" cy="504.87" r="1.85"/>
<circle cx="114.49" cy="504.57" r="1.91"/>
<circle cx="111.33" cy="501.91" r="2.01"/>
<circle cx="107.84" cy="499.28" r="2.01"/>
<circle cx="105.88" cy="497.30" r="2.10"/>
<circle cx="105.60" cy="494.55" r="1.75"/>
<polyline points="129.80,480.40 133.20,486.10" fill="none" stroke="#000" stroke-width="1.0" stroke-linejoin="round" />
<circle cx="129.80" cy="480.40" r="1.90"/>
<circle cx="133.20" cy="486.10" r="1.90"/>
<polyline points="108.00,492.00 103.60,491.90 104.50,495.00 103.90,497.80 106.40,501.20 110.00,503.00 113.10,505.30 116.00,503.00" fill="none" stroke="#000" stroke-width="0.9" stroke-linejoin="round" />
<circle cx="108.00" cy="492.00" r="1.90"/>
<circle cx="103.60" cy="491.90" r="1.90"/>
<circle cx="104.50" cy="495.00" r="1.90"/>
<circle cx="103.90" cy="497.80" r="1.90"/>
<circle cx="106.40" cy="501.20" r="1.90"/>
<circle cx="110.00" cy="503.00" r="1.90"/>
<circle cx="113.10" cy="505.30" r="1.90"/>
<circle cx="116.00" cy="503.00" r="1.90"/>
<circle cx="148.40" cy="473.30" r="2.00"/>
<circle cx="153.20" cy="474.40" r="2.00"/>
<circle cx="159.10" cy="473.20" r="2.00"/>
<circle cx="162.40" cy="476.00" r="2.00"/>
<circle cx="167.50" cy="481.00" r="2.00"/>
<circle cx="169.00" cy="488.00" r="2.00"/>
<circle cx="85.60" cy="449.20" r="2.00"/>
<circle cx="76.30" cy="451.00" r="2.00"/>
<circle cx="67.10" cy="447.90" r="2.00"/>
<circle cx="89.80" cy="455.50" r="2.00"/>
<circle cx="88.90" cy="471.40" r="2.00"/>
<circle cx="43.50" cy="462.20" r="2.00"/>
<circle cx="45.90" cy="474.70" r="2.00"/>
<circle cx="73.70" cy="478.00" r="2.00"/>
<circle cx="133" cy="484" r="0.9" fill="#fff"/>
<polygon points="202.72,398.47 204.80,397.24 207.46,397.13 209.97,396.71 212.87,398.60 213.45,401.15 215.20,401.97 213.20,404.35 211.96,406.35 210.02,407.73 208.07,406.18 205.73,403.55 204.02,401.78 202.44,399.50" fill="#000"/>
<polyline points="212.14,408.57 212.64,408.78 212.78,407.14 212.68,406.04 211.31,406.13 211.47,404.24 212.43,403.74 213.84,403.61 214.95,403.38 216.25,403.83 215.99,401.94 214.45,400.70 213.97,401.30 212.18,400.73 212.09,402.14 210.23,399.91 209.32,399.76 209.09,399.78 208.94,400.53 208.42,398.74 206.82,400.53 205.38,399.78 205.14,400.59 203.91,400.36 204.96,398.18 202.65,397.27 201.85,397.04 208.45,395.39 209.51,396.20 211.22,397.05 210.94,397.49 214.29,398.58 207.98,402.80 207.93,404.66 208.55,405.83 208.04,406.37 209.21,405.39 206.33,404.53 206.01,403.73 210.60,410.11" fill="none" stroke="#000" stroke-width="0.9" stroke-linejoin="round" />
<circle cx="212.14" cy="408.57" r="1.99"/>
<circle cx="212.64" cy="408.78" r="2.04"/>
<circle cx="212.78" cy="407.14" r="1.77"/>
<circle cx="212.68" cy="406.04" r="2.08"/>
<circle cx="211.31" cy="406.13" r="1.83"/>
<circle cx="211.47" cy="404.24" r="1.69"/>
<circle cx="212.43" cy="403.74" r="1.87"/>
<circle cx="213.84" cy="403.61" r="1.90"/>
<circle cx="214.95" cy="403.38" r="1.94"/>
<circle cx="216.25" cy="403.83" r="1.93"/>
<circle cx="215.99" cy="401.94" r="1.63"/>
<circle cx="214.45" cy="400.70" r="1.92"/>
<circle cx="213.97" cy="401.30" r="2.05"/>
<circle cx="212.18" cy="400.73" r="1.93"/>
<circle cx="212.09" cy="402.14" r="2.08"/>
<circle cx="210.23" cy="399.91" r="1.86"/>
<circle cx="209.32" cy="399.76" r="2.00"/>
<circle cx="209.09" cy="399.78" r="1.68"/>
<circle cx="208.94" cy="400.53" r="2.04"/>
<circle cx="208.42" cy="398.74" r="1.82"/>
<circle cx="206.82" cy="400.53" r="2.03"/>
<circle cx="205.38" cy="399.78" r="1.77"/>
<circle cx="205.14" cy="400.59" r="1.91"/>
<circle cx="203.91" cy="400.36" r="2.02"/>
<circle cx="204.96" cy="398.18" r="1.95"/>
<circle cx="202.65" cy="397.27" r="1.91"/>
<circle cx="201.85" cy="397.04" r="2.08"/>
<circle cx="208.45" cy="395.39" r="1.66"/>
<circle cx="209.51" cy="396.20" r="1.66"/>
<circle cx="211.22" cy="397.05" r="1.88"/>
<circle cx="210.94" cy="397.49" r="2.07"/>
<circle cx="214.29" cy="398.58" r="1.94"/>
<circle cx="207.98" cy="402.80" r="1.76"/>
<circle cx="207.93" cy="404.66" r="1.67"/>
<circle cx="208.55" cy="405.83" r="1.83"/>
<circle cx="208.04" cy="406.37" r="1.84"/>
<circle cx="209.21" cy="405.39" r="1.84"/>
<circle cx="206.33" cy="404.53" r="1.91"/>
<circle cx="206.01" cy="403.73" r="1.74"/>
<circle cx="210.60" cy="410.11" r="2.03"/>
<circle cx="200.40" cy="396.71" r="1.78"/>
<circle cx="202.69" cy="395.67" r="1.75"/>
<circle cx="207.21" cy="395.80" r="2.02"/>
<circle cx="210.23" cy="394.74" r="1.73"/>
<circle cx="214.38" cy="397.87" r="2.08"/>
<circle cx="216.02" cy="401.03" r="2.05"/>
<circle cx="218.52" cy="402.00" r="1.68"/>
<circle cx="215.78" cy="405.40" r="1.76"/>
<circle cx="213.35" cy="408.74" r="1.62"/>
<circle cx="210.66" cy="410.69" r="1.97"/>
<circle cx="208.05" cy="407.39" r="2.06"/>
<circle cx="204.53" cy="403.97" r="1.89"/>
<circle cx="201.41" cy="401.44" r="1.98"/>
<circle cx="199.24" cy="398.77" r="1.84"/>
<circle cx="197.70" cy="394.10" r="2.10"/>
<circle cx="202.70" cy="390.10" r="2.10"/>
<circle cx="212.00" cy="386.80" r="2.10"/>
<circle cx="210.40" cy="391.00" r="2.10"/>
<circle cx="221.90" cy="402.60" r="2.10"/>
<circle cx="210.40" cy="413.00" r="2.10"/>
<circle cx="210.40" cy="415.20" r="2.10"/>
<polyline points="212.00,386.80 210.40,391.00 208.00,394.00" fill="none" stroke="#000" stroke-width="1.0" stroke-linejoin="round" />
<circle cx="212.00" cy="386.80" r="1.90"/>
<circle cx="210.40" cy="391.00" r="1.90"/>
<circle cx="208.00" cy="394.00" r="1.90"/>
<line x1="216.40" y1="408.60" x2="226.30" y2="421.60" stroke="#000" stroke-width="0.9" />
<line x1="214.50" y1="409.50" x2="224.50" y2="422.00" stroke="#000" stroke-width="0.9" />
<line x1="211.00" y1="414.00" x2="218.60" y2="420.70" stroke="#000" stroke-width="0.9" />
<polygon points="218.79,426.40 220.51,424.92 222.19,424.34 223.83,424.76 224.67,426.18 226.95,427.82 224.53,427.83 222.52,427.29 220.54,427.83 219.02,427.30" fill="#000"/>
<polyline points="219.48,424.36 218.64,423.77 218.35,423.75 217.95,425.31 218.01,425.57 220.86,427.15 221.15,426.98 223.05,426.74 224.45,426.16 224.80,427.51 226.41,426.18 225.05,424.35 221.16,423.39 231.22,429.04" fill="none" stroke="#000" stroke-width="0.9" stroke-linejoin="round" />
<circle cx="219.48" cy="424.36" r="1.79"/>
<circle cx="218.64" cy="423.77" r="1.69"/>
<circle cx="218.35" cy="423.75" r="1.62"/>
<circle cx="217.95" cy="425.31" r="2.02"/>
<circle cx="218.01" cy="425.57" r="1.96"/>
<circle cx="220.86" cy="427.15" r="1.97"/>
<circle cx="221.15" cy="426.98" r="1.75"/>
<circle cx="223.05" cy="426.74" r="1.81"/>
<circle cx="224.45" cy="426.16" r="1.70"/>
<circle cx="224.80" cy="427.51" r="1.90"/>
<circle cx="226.41" cy="426.18" r="2.01"/>
<circle cx="225.05" cy="424.35" r="1.98"/>
<circle cx="221.16" cy="423.39" r="2.06"/>
<circle cx="231.22" cy="429.04" r="1.74"/>
<circle cx="214.89" cy="426.32" r="1.87"/>
<circle cx="219.80" cy="423.13" r="1.87"/>
<circle cx="222.75" cy="421.18" r="1.95"/>
<circle cx="224.71" cy="423.00" r="1.67"/>
<circle cx="227.19" cy="426.50" r="2.08"/>
<circle cx="232.36" cy="427.94" r="2.03"/>
<circle cx="227.22" cy="429.29" r="1.95"/>
<circle cx="223.25" cy="427.34" r="1.79"/>
<circle cx="219.44" cy="428.81" r="1.72"/>
<circle cx="216.10" cy="427.59" r="1.67"/>
<circle cx="233.00" cy="429.60" r="2.00"/>
<circle cx="226.30" cy="421.60" r="2.00"/>
<polyline points="218.60,430.70 219.50,439.10" fill="none" stroke="#000" stroke-width="1.0" stroke-linejoin="round" />
<circle cx="218.60" cy="430.70" r="1.90"/>
<circle cx="219.50" cy="439.10" r="1.90"/>
<polygon points="227.53,450.99 229.92,451.54 233.26,452.43 235.17,454.77 236.96,456.80 238.58,459.98 241.56,461.90 241.52,465.04 241.68,468.04 244.03,470.64 244.42,472.61 241.92,473.16 238.16,474.37 236.07,474.68 233.60,473.72 232.48,470.45 234.50,467.14 233.55,463.15 231.42,460.10 228.71,456.54" fill="#000"/>
<polyline points="228.46,447.30 229.14,443.93 229.52,443.10 233.54,446.86 236.03,450.26 233.76,451.78 234.06,453.62 233.12,453.83 234.14,455.54 235.39,455.24 236.51,454.65 237.08,455.18 237.30,454.93 237.74,454.76 238.69,455.62 238.28,457.29 239.24,457.38 240.29,457.95 241.24,459.22 241.26,460.16 241.06,461.34 242.99,458.50 242.80,458.38 244.96,464.96 242.88,467.75 241.54,467.27 240.73,465.27 238.40,466.19 238.19,466.51 238.21,465.86 237.11,465.51 237.18,463.63 236.90,463.15 234.18,465.56 236.17,467.46 232.96,468.43 233.55,473.22 232.37,473.30 232.37,475.23 232.52,477.11 231.37,477.03 231.87,478.07 233.81,478.49 237.27,480.45 241.19,479.15 241.85,478.43 236.89,475.14 235.81,472.56 241.07,471.74 241.46,469.93 243.16,469.79 243.63,469.72 245.07,471.48 244.58,471.87 245.22,472.87 245.92,473.01 249.40,475.10 248.57,477.74 235.11,459.93 233.22,461.39 230.18,460.86 229.54,457.96 228.00,457.37 225.99,453.68 227.56,452.80 223.21,451.34 224.33,449.34 224.04,445.69 222.43,444.92 232.22,458.09" fill="none" stroke="#000" stroke-width="0.9" stroke-linejoin="round" />
<circle cx="228.46" cy="447.30" r="2.02"/>
<circle cx="229.14" cy="443.93" r="2.04"/>
<circle cx="229.52" cy="443.10" r="1.75"/>
<circle cx="233.54" cy="446.86" r="2.08"/>
<circle cx="236.03" cy="450.26" r="1.88"/>
<circle cx="233.76" cy="451.78" r="2.07"/>
<circle cx="234.06" cy="453.62" r="2.12"/>
<circle cx="233.12" cy="453.83" r="1.76"/>
<circle cx="234.14" cy="455.54" r="1.71"/>
<circle cx="235.39" cy="455.24" r="2.08"/>
<circle cx="236.51" cy="454.65" r="2.18"/>
<circle cx="237.08" cy="455.18" r="2.15"/>
<circle cx="237.30" cy="454.93" r="1.92"/>
<circle cx="237.74" cy="454.76" r="2.12"/>
<circle cx="238.69" cy="455.62" r="1.71"/>
<circle cx="238.28" cy="457.29" r="1.73"/>
<circle cx="239.24" cy="457.38" r="1.99"/>
<circle cx="240.29" cy="457.95" r="1.96"/>
<circle cx="241.24" cy="459.22" r="2.11"/>
<circle cx="241.26" cy="460.16" r="1.82"/>
<circle cx="241.06" cy="461.34" r="1.93"/>
<circle cx="242.99" cy="458.50" r="2.19"/>
<circle cx="242.80" cy="458.38" r="1.85"/>
<circle cx="244.96" cy="464.96" r="1.90"/>
<circle cx="242.88" cy="467.75" r="2.00"/>
<circle cx="241.54" cy="467.27" r="2.20"/>
<circle cx="240.73" cy="465.27" r="1.79"/>
<circle cx="238.40" cy="466.19" r="2.05"/>
<circle cx="238.19" cy="466.51" r="1.91"/>
<circle cx="238.21" cy="465.86" r="1.90"/>
<circle cx="237.11" cy="465.51" r="1.83"/>
<circle cx="237.18" cy="463.63" r="1.93"/>
<circle cx="236.90" cy="463.15" r="1.99"/>
<circle cx="234.18" cy="465.56" r="1.90"/>
<circle cx="236.17" cy="467.46" r="1.95"/>
<circle cx="232.96" cy="468.43" r="2.02"/>
<circle cx="233.55" cy="473.22" r="2.13"/>
<circle cx="232.37" cy="473.30" r="1.98"/>
<circle cx="232.37" cy="475.23" r="1.89"/>
<circle cx="232.52" cy="477.11" r="2.18"/>
<circle cx="231.37" cy="477.03" r="1.79"/>
<circle cx="231.87" cy="478.07" r="1.72"/>
<circle cx="233.81" cy="478.49" r="2.15"/>
<circle cx="237.27" cy="480.45" r="1.83"/>
<circle cx="241.19" cy="479.15" r="1.78"/>
<circle cx="241.85" cy="478.43" r="1.89"/>
<circle cx="236.89" cy="475.14" r="1.87"/>
<circle cx="235.81" cy="472.56" r="1.88"/>
<circle cx="241.07" cy="471.74" r="2.13"/>
<circle cx="241.46" cy="469.93" r="1.85"/>
<circle cx="243.16" cy="469.79" r="1.77"/>
<circle cx="243.63" cy="469.72" r="1.81"/>
<circle cx="245.07" cy="471.48" r="2.17"/>
<circle cx="244.58" cy="471.87" r="1.91"/>
<circle cx="245.22" cy="472.87" r="1.88"/>
<circle cx="245.92" cy="473.01" r="2.09"/>
<circle cx="249.40" cy="475.10" r="2.17"/>
<circle cx="248.57" cy="477.74" r="1.96"/>
<circle cx="235.11" cy="459.93" r="2.11"/>
<circle cx="233.22" cy="461.39" r="1.83"/>
<circle cx="230.18" cy="460.86" r="1.88"/>
<circle cx="229.54" cy="457.96" r="1.99"/>
<circle cx="228.00" cy="457.37" r="1.82"/>
<circle cx="225.99" cy="453.68" r="1.84"/>
<circle cx="227.56" cy="452.80" r="1.79"/>
<circle cx="223.21" cy="451.34" r="1.83"/>
<circle cx="224.33" cy="449.34" r="2.12"/>
<circle cx="224.04" cy="445.69" r="2.10"/>
<circle cx="222.43" cy="444.92" r="1.76"/>
<circle cx="232.22" cy="458.09" r="1.87"/>
<circle cx="221.18" cy="441.19" r="1.98"/>
<circle cx="224.15" cy="440.84" r="2.09"/>
<circle cx="231.10" cy="443.30" r="1.82"/>
<circle cx="234.39" cy="447.30" r="2.02"/>
<circle cx="237.53" cy="450.89" r="2.17"/>
<circle cx="240.55" cy="456.89" r="1.73"/>
<circle cx="246.10" cy="460.21" r="2.14"/>
<circle cx="246.08" cy="465.83" r="2.17"/>
<circle cx="246.05" cy="471.38" r="1.90"/>
<circle cx="250.38" cy="475.93" r="2.00"/>
<circle cx="252.03" cy="478.94" r="2.03"/>
<circle cx="246.89" cy="480.93" r="2.03"/>
<circle cx="240.10" cy="483.56" r="1.91"/>
<circle cx="237.38" cy="482.99" r="1.84"/>
<circle cx="231.24" cy="481.48" r="2.08"/>
<circle cx="230.13" cy="475.46" r="1.91"/>
<circle cx="233.43" cy="470.07" r="2.00"/>
<circle cx="231.85" cy="462.65" r="2.08"/>
<circle cx="227.57" cy="456.90" r="2.17"/>
<circle cx="222.55" cy="450.43" r="2.16"/>
<circle cx="221.26" cy="446.32" r="2.05"/>
<polyline points="237.10,445.70 241.30,439.70" fill="none" stroke="#000" stroke-width="1.0" stroke-linejoin="round" />
<circle cx="237.10" cy="445.70" r="2.00"/>
<circle cx="241.30" cy="439.70" r="2.00"/>
<polyline points="233.00,484.00 237.10,491.80 246.20,494.20 239.00,487.00" fill="none" stroke="#000" stroke-width="0.9" stroke-linejoin="round" />
<circle cx="233.00" cy="484.00" r="2.00"/>
<circle cx="237.10" cy="491.80" r="2.00"/>
<circle cx="246.20" cy="494.20" r="2.00"/>
<circle cx="239.00" cy="487.00" r="2.00"/>
<circle cx="251.60" cy="477.20" r="2.10"/>
<circle cx="247.40" cy="466.30" r="2.10"/>
<circle cx="226.20" cy="456.00" r="2.10"/>
<circle cx="219.50" cy="439.10" r="2.10"/>
<polygon points="289.37,400.80 290.14,400.33 291.24,402.07 291.88,404.28 294.07,405.21 295.10,405.48 294.29,406.75 293.55,407.56 291.48,407.14 290.11,405.85 289.05,404.96 289.32,403.51" fill="#000"/>
<polyline points="287.79,396.41 287.80,396.17 289.12,397.54 290.05,400.67 290.87,401.56 287.99,402.85 287.54,401.56 286.73,404.92 287.28,406.58 289.73,407.24 290.25,406.28 291.21,408.89 294.30,408.98 294.49,409.98 295.90,409.87 295.85,408.30 295.48,407.72 294.62,407.95 294.26,407.84 295.04,405.72 293.30,404.70 299.29,406.70" fill="none" stroke="#000" stroke-width="0.9" stroke-linejoin="round" />
<circle cx="287.79" cy="396.41" r="1.69"/>
<circle cx="287.80" cy="396.17" r="1.94"/>
<circle cx="289.12" cy="397.54" r="1.97"/>
<circle cx="290.05" cy="400.67" r="1.68"/>
<circle cx="290.87" cy="401.56" r="1.90"/>
<circle cx="287.99" cy="402.85" r="1.71"/>
<circle cx="287.54" cy="401.56" r="1.98"/>
<circle cx="286.73" cy="404.92" r="1.75"/>
<circle cx="287.28" cy="406.58" r="1.94"/>
<circle cx="289.73" cy="407.24" r="1.92"/>
<circle cx="290.25" cy="406.28" r="1.89"/>
<circle cx="291.21" cy="408.89" r="1.72"/>
<circle cx="294.30" cy="408.98" r="2.01"/>
<circle cx="294.49" cy="409.98" r="1.78"/>
<circle cx="295.90" cy="409.87" r="1.98"/>
<circle cx="295.85" cy="408.30" r="1.84"/>
<circle cx="295.48" cy="407.72" r="1.83"/>
<circle cx="294.62" cy="407.95" r="1.95"/>
<circle cx="294.26" cy="407.84" r="1.78"/>
<circle cx="295.04" cy="405.72" r="1.98"/>
<circle cx="293.30" cy="404.70" r="1.83"/>
<circle cx="299.29" cy="406.70" r="1.97"/>
<circle cx="286.39" cy="395.96" r="1.81"/>
<circle cx="287.78" cy="394.00" r="1.86"/>
<circle cx="290.90" cy="398.34" r="1.73"/>
<circle cx="291.57" cy="404.00" r="1.92"/>
<circle cx="297.28" cy="406.29" r="2.05"/>
<circle cx="299.77" cy="406.46" r="1.66"/>
<circle cx="297.89" cy="409.36" r="1.65"/>
<circle cx="296.20" cy="410.75" r="1.63"/>
<circle cx="290.74" cy="410.80" r="1.92"/>
<circle cx="287.11" cy="407.86" r="1.83"/>
<circle cx="286.79" cy="405.24" r="1.86"/>
<circle cx="286.75" cy="402.74" r="1.68"/>
<polyline points="300.80,407.10 303.50,413.30 307.60,417.40 308.30,422.10 315.80,420.10 320.60,421.50 324.00,423.50 324.70,426.90 322.60,428.30 318.50,426.20 316.50,429.60 314.40,432.40 311.00,431.70 306.20,435.80 303.50,438.50 300.10,439.20 298.70,444.00 304.90,446.00 306.20,442.60 300.80,439.90 284.40,439.20 281.70,443.30 276.20,435.10 272.10,432.80 272.10,435.10 281.00,433.70 284.40,434.40 289.80,435.80 284.40,439.20" fill="none" stroke="#000" stroke-width="0.9" stroke-linejoin="round" />
<circle cx="300.80" cy="407.10" r="1.90"/>
<circle cx="303.50" cy="413.30" r="1.90"/>
<circle cx="307.60" cy="417.40" r="1.90"/>
<circle cx="308.30" cy="422.10" r="1.90"/>
<circle cx="315.80" cy="420.10" r="1.90"/>
<circle cx="320.60" cy="421.50" r="1.90"/>
<circle cx="324.00" cy="423.50" r="1.90"/>
<circle cx="324.70" cy="426.90" r="1.90"/>
<circle cx="322.60" cy="428.30" r="1.90"/>
<circle cx="318.50" cy="426.20" r="1.90"/>
<circle cx="316.50" cy="429.60" r="1.90"/>
<circle cx="314.40" cy="432.40" r="1.90"/>
<circle cx="311.00" cy="431.70" r="1.90"/>
<circle cx="306.20" cy="435.80" r="1.90"/>
<circle cx="303.50" cy="438.50" r="1.90"/>
<circle cx="300.10" cy="439.20" r="1.90"/>
<circle cx="298.70" cy="444.00" r="1.90"/>
<circle cx="304.90" cy="446.00" r="1.90"/>
<circle cx="306.20" cy="442.60" r="1.90"/>
<circle cx="300.80" cy="439.90" r="1.90"/>
<circle cx="284.40" cy="439.20" r="1.90"/>
<circle cx="281.70" cy="443.30" r="1.90"/>
<circle cx="276.20" cy="435.10" r="1.90"/>
<circle cx="272.10" cy="432.80" r="1.90"/>
<circle cx="272.10" cy="435.10" r="1.90"/>
<circle cx="281.00" cy="433.70" r="1.90"/>
<circle cx="284.40" cy="434.40" r="1.90"/>
<circle cx="289.80" cy="435.80" r="1.90"/>
<circle cx="284.40" cy="439.20" r="1.90"/>
<polygon points="319.93,422.43 322.16,423.99 323.36,425.52 322.07,426.84 319.94,426.07" fill="#000" stroke="#000" stroke-width="1.5" stroke-linejoin="round"/>
<circle cx="319.72" cy="422.36" r="1.75"/>
<circle cx="321.11" cy="423.94" r="1.78"/>
<circle cx="323.17" cy="424.77" r="2.06"/>
<circle cx="322.10" cy="427.24" r="1.78"/>
<circle cx="319.82" cy="426.23" r="1.94"/>
<polygon points="46.87,764.44 49.13,762.36 54.48,762.08 59.11,761.83 64.76,762.83 65.36,764.43 61.22,765.44 59.00,767.22 54.61,766.90 51.30,769.49 47.99,767.52" fill="#000"/>
<polyline points="54.93,762.73 55.39,762.96 55.04,763.43 54.49,764.36 55.05,764.70 55.63,764.89 54.84,765.29 53.73,764.88 52.41,763.87 52.50,763.68 52.42,763.63 51.49,762.90 51.78,762.47 51.11,763.87 51.03,765.27 50.58,765.60 49.94,766.49 50.11,766.81 49.54,767.54 49.22,767.51 49.47,768.73 50.07,768.85 51.83,768.91 52.65,767.75 51.88,767.04 51.80,766.26 51.82,765.43 53.85,766.89 55.48,766.76 56.07,766.78 56.35,766.34 58.12,767.06 58.53,766.85 59.32,767.11 60.17,766.73 59.60,764.66 59.16,763.99 58.43,764.47 58.37,764.78 58.00,764.69 57.46,763.63 58.29,761.95 60.60,762.54 60.79,762.46 61.13,761.84 61.22,763.46 62.54,763.17 62.78,763.36 63.67,764.40 62.40,765.23 66.17,764.11 54.91,762.12 54.01,762.77 48.91,765.32 47.95,765.55 47.43,766.06 47.54,766.47 48.29,766.29 48.05,763.20 47.45,763.23" fill="none" stroke="#000" stroke-width="0.9" stroke-linejoin="round" />
<circle cx="54.93" cy="762.73" r="1.42"/>
<circle cx="55.39" cy="762.96" r="1.58"/>
<circle cx="55.04" cy="763.43" r="1.38"/>
<circle cx="54.49" cy="764.36" r="1.73"/>
<circle cx="55.05" cy="764.70" r="1.50"/>
<circle cx="55.63" cy="764.89" r="1.47"/>
<circle cx="54.84" cy="765.29" r="1.54"/>
<circle cx="53.73" cy="764.88" r="1.40"/>
<circle cx="52.41" cy="763.87" r="1.71"/>
<circle cx="52.50" cy="763.68" r="1.75"/>
<circle cx="52.42" cy="763.63" r="1.69"/>
<circle cx="51.49" cy="762.90" r="1.59"/>
<circle cx="51.78" cy="762.47" r="1.74"/>
<circle cx="51.11" cy="763.87" r="1.49"/>
<circle cx="51.03" cy="765.27" r="1.55"/>
<circle cx="50.58" cy="765.60" r="1.43"/>
<circle cx="49.94" cy="766.49" r="1.53"/>
<circle cx="50.11" cy="766.81" r="1.73"/>
<circle cx="49.54" cy="767.54" r="1.63"/>
<circle cx="49.22" cy="767.51" r="1.58"/>
<circle cx="49.47" cy="768.73" r="1.57"/>
<circle cx="50.07" cy="768.85" r="1.61"/>
<circle cx="51.83" cy="768.91" r="1.60"/>
<circle cx="52.65" cy="767.75" r="1.54"/>
<circle cx="51.88" cy="767.04" r="1.56"/>
<circle cx="51.80" cy="766.26" r="1.40"/>
<circle cx="51.82" cy="765.43" r="1.54"/>
<circle cx="53.85" cy="766.89" r="1.63"/>
<circle cx="55.48" cy="766.76" r="1.45"/>
<circle cx="56.07" cy="766.78" r="1.47"/>
<circle cx="56.35" cy="766.34" r="1.68"/>
<circle cx="58.12" cy="767.06" r="1.41"/>
<circle cx="58.53" cy="766.85" r="1.44"/>
<circle cx="59.32" cy="767.11" r="1.69"/>
<circle cx="60.17" cy="766.73" r="1.41"/>
<circle cx="59.60" cy="764.66" r="1.48"/>
<circle cx="59.16" cy="763.99" r="1.72"/>
<circle cx="58.43" cy="764.47" r="1.53"/>
<circle cx="58.37" cy="764.78" r="1.69"/>
<circle cx="58.00" cy="764.69" r="1.67"/>
<circle cx="57.46" cy="763.63" r="1.37"/>
<circle cx="58.29" cy="761.95" r="1.45"/>
<circle cx="60.60" cy="762.54" r="1.72"/>
<circle cx="60.79" cy="762.46" r="1.49"/>
<circle cx="61.13" cy="761.84" r="1.52"/>
<circle cx="61.22" cy="763.46" r="1.73"/>
<circle cx="62.54" cy="763.17" r="1.40"/>
<circle cx="62.78" cy="763.36" r="1.75"/>
<circle cx="63.67" cy="764.40" r="1.62"/>
<circle cx="62.40" cy="765.23" r="1.61"/>
<circle cx="66.17" cy="764.11" r="1.36"/>
<circle cx="54.91" cy="762.12" r="1.61"/>
<circle cx="54.01" cy="762.77" r="1.69"/>
<circle cx="48.91" cy="765.32" r="1.52"/>
<circle cx="47.95" cy="765.55" r="1.39"/>
<circle cx="47.43" cy="766.06" r="1.41"/>
<circle cx="47.54" cy="766.47" r="1.39"/>
<circle cx="48.29" cy="766.29" r="1.53"/>
<circle cx="48.05" cy="763.20" r="1.69"/>
<circle cx="47.45" cy="763.23" r="1.38"/>
<circle cx="45.62" cy="764.61" r="1.52"/>
<circle cx="48.16" cy="761.85" r="1.44"/>
<circle cx="54.64" cy="761.98" r="1.50"/>
<circle cx="59.76" cy="760.81" r="1.43"/>
<circle cx="62.03" cy="762.99" r="1.50"/>
<circle cx="66.34" cy="762.97" r="1.46"/>
<circle cx="66.27" cy="765.07" r="1.76"/>
<circle cx="60.97" cy="765.20" r="1.51"/>
<circle cx="58.81" cy="767.11" r="1.55"/>
<circle cx="54.51" cy="766.97" r="1.53"/>
<circle cx="51.11" cy="770.31" r="1.43"/>
<circle cx="47.82" cy="767.23" r="1.43"/>
<polyline points="65.23,765.89 65.75,766.58 67.74,768.33 68.64,770.03 69.12,771.24 69.86,772.79 70.62,773.57 70.41,776.63 72.52,776.37 74.49,776.76 75.93,775.92 77.84,774.39 79.52,774.13 78.89,770.59 79.96,767.43 76.96,768.20 76.26,767.47 77.00,768.63 79.31,770.27 76.00,770.96 74.71,773.68 73.47,773.72 72.00,774.00" fill="none" stroke="#000" stroke-width="1.2" stroke-linejoin="round" />
<circle cx="65.23" cy="765.89" r="1.70"/>
<circle cx="65.75" cy="766.58" r="1.70"/>
<circle cx="67.74" cy="768.33" r="1.70"/>
<circle cx="68.64" cy="770.03" r="1.70"/>
<circle cx="69.12" cy="771.24" r="1.70"/>
<circle cx="69.86" cy="772.79" r="1.70"/>
<circle cx="70.62" cy="773.57" r="1.70"/>
<circle cx="70.41" cy="776.63" r="1.70"/>
<circle cx="72.52" cy="776.37" r="1.70"/>
<circle cx="74.49" cy="776.76" r="1.70"/>
<circle cx="75.93" cy="775.92" r="1.70"/>
<circle cx="77.84" cy="774.39" r="1.70"/>
<circle cx="79.52" cy="774.13" r="1.70"/>
<circle cx="78.89" cy="770.59" r="1.70"/>
<circle cx="79.96" cy="767.43" r="1.70"/>
<circle cx="76.96" cy="768.20" r="1.70"/>
<circle cx="76.26" cy="767.47" r="1.70"/>
<circle cx="77.00" cy="768.63" r="1.70"/>
<circle cx="79.31" cy="770.27" r="1.70"/>
<circle cx="76.00" cy="770.96" r="1.70"/>
<circle cx="74.71" cy="773.68" r="1.70"/>
<circle cx="73.47" cy="773.72" r="1.70"/>
<circle cx="72.00" cy="774.00" r="1.70"/>
<polyline points="64.57,766.26 66.08,765.43 67.55,767.66 68.42,769.51 69.16,770.96 68.59,771.63 70.41,774.64 71.17,775.39 70.67,775.75 75.34,775.49 75.95,774.31 77.49,774.16 79.38,773.39 79.06,770.35 79.54,768.40 77.79,769.21 76.41,767.67 76.39,770.00 76.75,769.58 75.49,772.28 74.05,773.75 73.43,772.16 72.00,774.00" fill="none" stroke="#000" stroke-width="1.2" stroke-linejoin="round" />
<circle cx="64.57" cy="766.26" r="1.53"/>
<circle cx="66.08" cy="765.43" r="1.53"/>
<circle cx="67.55" cy="767.66" r="1.53"/>
<circle cx="68.42" cy="769.51" r="1.53"/>
<circle cx="69.16" cy="770.96" r="1.53"/>
<circle cx="68.59" cy="771.63" r="1.53"/>
<circle cx="70.41" cy="774.64" r="1.53"/>
<circle cx="71.17" cy="775.39" r="1.53"/>
<circle cx="70.67" cy="775.75" r="1.53"/>
<circle cx="75.34" cy="775.49" r="1.53"/>
<circle cx="75.95" cy="774.31" r="1.53"/>
<circle cx="77.49" cy="774.16" r="1.53"/>
<circle cx="79.38" cy="773.39" r="1.53"/>
<circle cx="79.06" cy="770.35" r="1.53"/>
<circle cx="79.54" cy="768.40" r="1.53"/>
<circle cx="77.79" cy="769.21" r="1.53"/>
<circle cx="76.41" cy="767.67" r="1.53"/>
<circle cx="76.39" cy="770.00" r="1.53"/>
<circle cx="76.75" cy="769.58" r="1.53"/>
<circle cx="75.49" cy="772.28" r="1.53"/>
<circle cx="74.05" cy="773.75" r="1.53"/>
<circle cx="73.43" cy="772.16" r="1.53"/>
<circle cx="72.00" cy="774.00" r="1.53"/>
<polyline points="77.80,770.11 77.17,771.18 77.24,772.43 76.92,772.83 75.86,773.35 75.44,773.76 74.14,772.70 74.28,771.90 76.33,775.27 74.24,775.98 78.06,773.17 78.72,772.43" fill="none" stroke="#000" stroke-width="0.9" stroke-linejoin="round" />
<circle cx="77.80" cy="770.11" r="1.43"/>
<circle cx="77.17" cy="771.18" r="1.54"/>
<circle cx="77.24" cy="772.43" r="1.57"/>
<circle cx="76.92" cy="772.83" r="1.69"/>
<circle cx="75.86" cy="773.35" r="1.64"/>
<circle cx="75.44" cy="773.76" r="1.61"/>
<circle cx="74.14" cy="772.70" r="1.63"/>
<circle cx="74.28" cy="771.90" r="1.54"/>
<circle cx="76.33" cy="775.27" r="1.68"/>
<circle cx="74.24" cy="775.98" r="1.69"/>
<circle cx="78.06" cy="773.17" r="1.59"/>
<circle cx="78.72" cy="772.43" r="1.41"/>
<circle cx="72.42" cy="772.87" r="1.44"/>
<circle cx="75.01" cy="770.20" r="1.50"/>
<circle cx="78.48" cy="769.68" r="1.43"/>
<circle cx="79.46" cy="771.85" r="1.73"/>
<circle cx="76.72" cy="775.93" r="1.70"/>
<circle cx="73.17" cy="776.53" r="1.45"/>
<polyline points="52.21,769.66 51.38,772.73 50.71,774.16 51.40,775.37 50.86,776.26 51.50,779.01 52.50,781.40" fill="none" stroke="#000" stroke-width="1.2" stroke-linejoin="round" />
<circle cx="52.21" cy="769.66" r="1.70"/>
<circle cx="51.38" cy="772.73" r="1.70"/>
<circle cx="50.71" cy="774.16" r="1.70"/>
<circle cx="51.40" cy="775.37" r="1.70"/>
<circle cx="50.86" cy="776.26" r="1.70"/>
<circle cx="51.50" cy="779.01" r="1.70"/>
<circle cx="52.50" cy="781.40" r="1.70"/>
<polyline points="51.24,770.59 50.37,773.46 52.16,774.51 50.86,774.76 52.22,776.52 51.23,778.72 52.50,781.40" fill="none" stroke="#000" stroke-width="1.2" stroke-linejoin="round" />
<circle cx="51.24" cy="770.59" r="1.53"/>
<circle cx="50.37" cy="773.46" r="1.53"/>
<circle cx="52.16" cy="774.51" r="1.53"/>
<circle cx="50.86" cy="774.76" r="1.53"/>
<circle cx="52.22" cy="776.52" r="1.53"/>
<circle cx="51.23" cy="778.72" r="1.53"/>
<circle cx="52.50" cy="781.40" r="1.53"/>
<polygon points="41.50,786.98 44.57,783.77 48.44,783.13 52.57,782.68 56.43,783.28 57.40,784.65 55.34,787.30 54.48,789.11 50.89,788.73 48.55,787.96 44.60,787.34" fill="#000"/>
<polyline points="41.23,786.54 41.14,786.45 41.94,786.98 43.23,786.45 43.47,786.04 44.10,785.86 44.93,786.17 44.40,787.60 46.36,788.11 47.20,787.41 47.71,786.39 48.57,788.20 49.78,786.36 50.67,787.21 51.79,786.32 52.75,787.30 52.58,788.37 53.00,788.60 51.92,788.34 51.50,789.22 51.21,789.19 54.52,787.37 54.23,785.53 54.93,785.18 55.21,785.18 54.31,784.65 54.20,783.84 54.47,782.70 55.68,782.46 56.04,783.21 57.88,783.79 57.06,785.71 57.23,786.46 53.41,785.42 52.91,784.77 51.94,783.94 51.28,783.08 51.03,783.23 52.73,782.88 50.70,785.08 48.44,784.04 48.27,782.66 45.16,783.63 43.53,784.43 43.08,783.87" fill="none" stroke="#000" stroke-width="0.9" stroke-linejoin="round" />
<circle cx="41.23" cy="786.54" r="1.50"/>
<circle cx="41.14" cy="786.45" r="1.55"/>
<circle cx="41.94" cy="786.98" r="1.54"/>
<circle cx="43.23" cy="786.45" r="1.62"/>
<circle cx="43.47" cy="786.04" r="1.63"/>
<circle cx="44.10" cy="785.86" r="1.66"/>
<circle cx="44.93" cy="786.17" r="1.57"/>
<circle cx="44.40" cy="787.60" r="1.37"/>
<circle cx="46.36" cy="788.11" r="1.67"/>
<circle cx="47.20" cy="787.41" r="1.67"/>
<circle cx="47.71" cy="786.39" r="1.65"/>
<circle cx="48.57" cy="788.20" r="1.54"/>
<circle cx="49.78" cy="786.36" r="1.71"/>
<circle cx="50.67" cy="787.21" r="1.40"/>
<circle cx="51.79" cy="786.32" r="1.66"/>
<circle cx="52.75" cy="787.30" r="1.60"/>
<circle cx="52.58" cy="788.37" r="1.64"/>
<circle cx="53.00" cy="788.60" r="1.39"/>
<circle cx="51.92" cy="788.34" r="1.75"/>
<circle cx="51.50" cy="789.22" r="1.37"/>
<circle cx="51.21" cy="789.19" r="1.43"/>
<circle cx="54.52" cy="787.37" r="1.57"/>
<circle cx="54.23" cy="785.53" r="1.59"/>
<circle cx="54.93" cy="785.18" r="1.43"/>
<circle cx="55.21" cy="785.18" r="1.47"/>
<circle cx="54.31" cy="784.65" r="1.73"/>
<circle cx="54.20" cy="783.84" r="1.49"/>
<circle cx="54.47" cy="782.70" r="1.54"/>
<circle cx="55.68" cy="782.46" r="1.40"/>
<circle cx="56.04" cy="783.21" r="1.59"/>
<circle cx="57.88" cy="783.79" r="1.64"/>
<circle cx="57.06" cy="785.71" r="1.66"/>
<circle cx="57.23" cy="786.46" r="1.45"/>
<circle cx="53.41" cy="785.42" r="1.51"/>
<circle cx="52.91" cy="784.77" r="1.62"/>
<circle cx="51.94" cy="783.94" r="1.75"/>
<circle cx="51.28" cy="783.08" r="1.67"/>
<circle cx="51.03" cy="783.23" r="1.45"/>
<circle cx="52.73" cy="782.88" r="1.39"/>
<circle cx="50.70" cy="785.08" r="1.49"/>
<circle cx="48.44" cy="784.04" r="1.57"/>
<circle cx="48.27" cy="782.66" r="1.47"/>
<circle cx="45.16" cy="783.63" r="1.68"/>
<circle cx="43.53" cy="784.43" r="1.46"/>
<circle cx="43.08" cy="783.87" r="1.41"/>
<circle cx="40.37" cy="787.38" r="1.44"/>
<circle cx="43.70" cy="783.29" r="1.37"/>
<circle cx="48.36" cy="782.06" r="1.60"/>
<circle cx="53.11" cy="782.06" r="1.38"/>
<circle cx="57.61" cy="782.55" r="1.56"/>
<circle cx="59.05" cy="784.27" r="1.67"/>
<circle cx="56.13" cy="788.51" r="1.44"/>
<circle cx="55.57" cy="789.81" r="1.44"/>
<circle cx="51.33" cy="790.00" r="1.64"/>
<circle cx="48.43" cy="788.31" r="1.45"/>
<circle cx="42.48" cy="787.79" r="1.43"/>
<polyline points="58.88,789.28 59.13,792.24 61.52,790.93 61.66,793.39 64.00,794.67 62.01,796.18 59.50,798.06 60.25,798.22 61.59,798.22 64.27,797.79 65.82,797.51 65.05,799.34 65.22,801.41 62.51,803.46 58.42,802.47 57.88,804.59 59.45,806.39 61.33,804.98 64.36,805.45 64.25,805.10 66.02,806.18 67.41,807.67 69.88,807.95 72.55,806.82 72.84,806.74 75.71,805.92 77.33,805.25 79.22,804.06 81.60,805.20" fill="none" stroke="#000" stroke-width="1.2" stroke-linejoin="round" />
<circle cx="58.88" cy="789.28" r="1.70"/>
<circle cx="59.13" cy="792.24" r="1.70"/>
<circle cx="61.52" cy="790.93" r="1.70"/>
<circle cx="61.66" cy="793.39" r="1.70"/>
<circle cx="64.00" cy="794.67" r="1.70"/>
<circle cx="62.01" cy="796.18" r="1.70"/>
<circle cx="59.50" cy="798.06" r="1.70"/>
<circle cx="60.25" cy="798.22" r="1.70"/>
<circle cx="61.59" cy="798.22" r="1.70"/>
<circle cx="64.27" cy="797.79" r="1.70"/>
<circle cx="65.82" cy="797.51" r="1.70"/>
<circle cx="65.05" cy="799.34" r="1.70"/>
<circle cx="65.22" cy="801.41" r="1.70"/>
<circle cx="62.51" cy="803.46" r="1.70"/>
<circle cx="58.42" cy="802.47" r="1.70"/>
<circle cx="57.88" cy="804.59" r="1.70"/>
<circle cx="59.45" cy="806.39" r="1.70"/>
<circle cx="61.33" cy="804.98" r="1.70"/>
<circle cx="64.36" cy="805.45" r="1.70"/>
<circle cx="64.25" cy="805.10" r="1.70"/>
<circle cx="66.02" cy="806.18" r="1.70"/>
<circle cx="67.41" cy="807.67" r="1.70"/>
<circle cx="69.88" cy="807.95" r="1.70"/>
<circle cx="72.55" cy="806.82" r="1.70"/>
<circle cx="72.84" cy="806.74" r="1.70"/>
<circle cx="75.71" cy="805.92" r="1.70"/>
<circle cx="77.33" cy="805.25" r="1.70"/>
<circle cx="79.22" cy="804.06" r="1.70"/>
<circle cx="81.60" cy="805.20" r="1.70"/>
<polyline points="59.09,789.10 59.91,791.68 61.84,794.51 61.19,792.64 63.20,795.85 60.89,794.66 60.16,796.48 60.28,798.77 61.20,798.20 64.21,798.13 65.97,797.15 64.95,798.66 62.99,802.91 62.82,803.09 59.53,803.18 59.57,803.26 59.60,805.25 60.92,804.17 64.01,805.89 64.76,805.03 65.21,807.62 67.45,807.75 69.83,807.49 73.04,805.70 73.81,806.42 74.13,806.16 78.08,805.25 78.85,805.61 81.60,805.20" fill="none" stroke="#000" stroke-width="1.2" stroke-linejoin="round" />
<circle cx="59.09" cy="789.10" r="1.53"/>
<circle cx="59.91" cy="791.68" r="1.53"/>
<circle cx="61.84" cy="794.51" r="1.53"/>
<circle cx="61.19" cy="792.64" r="1.53"/>
<circle cx="63.20" cy="795.85" r="1.53"/>
<circle cx="60.89" cy="794.66" r="1.53"/>
<circle cx="60.16" cy="796.48" r="1.53"/>
<circle cx="60.28" cy="798.77" r="1.53"/>
<circle cx="61.20" cy="798.20" r="1.53"/>
<circle cx="64.21" cy="798.13" r="1.53"/>
<circle cx="65.97" cy="797.15" r="1.53"/>
<circle cx="64.95" cy="798.66" r="1.53"/>
<circle cx="62.99" cy="802.91" r="1.53"/>
<circle cx="62.82" cy="803.09" r="1.53"/>
<circle cx="59.53" cy="803.18" r="1.53"/>
<circle cx="59.57" cy="803.26" r="1.53"/>
<circle cx="59.60" cy="805.25" r="1.53"/>
<circle cx="60.92" cy="804.17" r="1.53"/>
<circle cx="64.01" cy="805.89" r="1.53"/>
<circle cx="64.76" cy="805.03" r="1.53"/>
<circle cx="65.21" cy="807.62" r="1.53"/>
<circle cx="67.45" cy="807.75" r="1.53"/>
<circle cx="69.83" cy="807.49" r="1.53"/>
<circle cx="73.04" cy="805.70" r="1.53"/>
<circle cx="73.81" cy="806.42" r="1.53"/>
<circle cx="74.13" cy="806.16" r="1.53"/>
<circle cx="78.08" cy="805.25" r="1.53"/>
<circle cx="78.85" cy="805.61" r="1.53"/>
<circle cx="81.60" cy="805.20" r="1.53"/>
<polyline points="87.51,806.07 86.78,806.02 87.29,805.31 86.73,804.71 89.06,805.93 89.10,806.88 87.75,808.22 88.13,809.86 86.22,811.31 86.29,812.16 85.67,812.13 84.71,811.88 85.07,810.41 85.36,808.89 84.21,809.00 83.47,808.01 82.38,807.98 82.59,806.81 82.91,806.87 85.26,807.08 90.82,810.34 88.44,813.21 87.65,813.28 88.01,814.06 86.49,814.09 84.00,814.02 89.67,814.93 90.19,814.17 92.01,815.85 93.02,816.01" fill="none" stroke="#000" stroke-width="0.9" stroke-linejoin="round" />
<circle cx="87.51" cy="806.07" r="1.44"/>
<circle cx="86.78" cy="806.02" r="1.38"/>
<circle cx="87.29" cy="805.31" r="1.39"/>
<circle cx="86.73" cy="804.71" r="1.55"/>
<circle cx="89.06" cy="805.93" r="1.75"/>
<circle cx="89.10" cy="806.88" r="1.54"/>
<circle cx="87.75" cy="808.22" r="1.73"/>
<circle cx="88.13" cy="809.86" r="1.48"/>
<circle cx="86.22" cy="811.31" r="1.42"/>
<circle cx="86.29" cy="812.16" r="1.52"/>
<circle cx="85.67" cy="812.13" r="1.70"/>
<circle cx="84.71" cy="811.88" r="1.75"/>
<circle cx="85.07" cy="810.41" r="1.58"/>
<circle cx="85.36" cy="808.89" r="1.51"/>
<circle cx="84.21" cy="809.00" r="1.67"/>
<circle cx="83.47" cy="808.01" r="1.53"/>
<circle cx="82.38" cy="807.98" r="1.48"/>
<circle cx="82.59" cy="806.81" r="1.66"/>
<circle cx="82.91" cy="806.87" r="1.39"/>
<circle cx="85.26" cy="807.08" r="1.67"/>
<circle cx="90.82" cy="810.34" r="1.74"/>
<circle cx="88.44" cy="813.21" r="1.40"/>
<circle cx="87.65" cy="813.28" r="1.67"/>
<circle cx="88.01" cy="814.06" r="1.37"/>
<circle cx="86.49" cy="814.09" r="1.41"/>
<circle cx="84.00" cy="814.02" r="1.48"/>
<circle cx="89.67" cy="814.93" r="1.76"/>
<circle cx="90.19" cy="814.17" r="1.38"/>
<circle cx="92.01" cy="815.85" r="1.54"/>
<circle cx="93.02" cy="816.01" r="1.54"/>
<circle cx="79.00" cy="807.41" r="1.45"/>
<circle cx="81.66" cy="804.42" r="1.65"/>
<circle cx="85.17" cy="803.26" r="1.68"/>
<circle cx="87.54" cy="801.73" r="1.40"/>
<circle cx="89.80" cy="807.50" r="1.60"/>
<circle cx="91.14" cy="809.70" r="1.43"/>
<circle cx="93.19" cy="813.11" r="1.66"/>
<circle cx="93.36" cy="816.91" r="1.55"/>
<circle cx="88.67" cy="816.95" r="1.63"/>
<circle cx="84.17" cy="815.86" r="1.39"/>
<circle cx="80.93" cy="811.50" r="1.59"/>
<polygon points="90.36,801.49 91.99,798.20 94.79,797.47 99.26,799.73 102.18,802.24 106.30,800.77 108.10,798.96 111.43,801.54 112.52,806.90 109.63,808.93 106.25,809.77 102.15,808.24 103.37,814.19 100.17,815.44 95.80,815.59 92.21,809.98" fill="#000"/>
<polyline points="98.82,800.96 99.03,800.38 99.49,800.23 98.29,799.50 97.38,799.05 96.10,800.00 95.77,798.84 95.39,797.42 94.63,797.49 94.14,797.81 92.39,799.55 92.91,800.84 91.88,801.08 92.03,801.48 92.20,802.60 90.83,801.95 91.33,803.91 91.00,804.01 93.66,805.28 93.73,805.14 95.03,803.87 95.48,801.91 97.97,801.13 100.65,801.99 101.71,802.81 103.01,804.27 103.87,801.73 105.62,801.43 108.48,801.93 108.17,802.90 108.43,804.07 108.59,804.34 109.85,804.57 111.01,805.79 111.54,806.39 112.03,806.79 112.52,807.78 112.58,807.83 111.28,808.18 111.17,808.73 108.90,807.20 107.03,809.12 106.21,809.21 105.78,808.10 104.15,808.56 103.91,808.70 100.68,811.10 101.17,812.10 101.48,812.54 101.23,813.27 102.30,813.45 102.82,812.87 102.79,814.12 100.80,815.63 100.57,815.74 99.77,811.94 99.43,811.50 98.16,808.21 97.49,806.78 96.27,806.29 97.13,805.07 100.05,804.43 96.01,809.37 95.10,809.07 94.42,808.18 93.97,809.37 93.05,809.63 93.89,810.73 93.94,812.11 94.85,813.85 96.43,815.97 109.76,802.39 111.02,801.56 109.98,800.81 109.32,800.69 109.78,800.15 108.56,799.78 111.36,803.21 112.54,803.43 91.27,797.49" fill="none" stroke="#000" stroke-width="0.9" stroke-linejoin="round" />
<circle cx="98.82" cy="800.96" r="1.67"/>
<circle cx="99.03" cy="800.38" r="1.42"/>
<circle cx="99.49" cy="800.23" r="1.58"/>
<circle cx="98.29" cy="799.50" r="1.56"/>
<circle cx="97.38" cy="799.05" r="1.51"/>
<circle cx="96.10" cy="800.00" r="1.70"/>
<circle cx="95.77" cy="798.84" r="1.50"/>
<circle cx="95.39" cy="797.42" r="1.68"/>
<circle cx="94.63" cy="797.49" r="1.39"/>
<circle cx="94.14" cy="797.81" r="1.54"/>
<circle cx="92.39" cy="799.55" r="1.40"/>
<circle cx="92.91" cy="800.84" r="1.70"/>
<circle cx="91.88" cy="801.08" r="1.63"/>
<circle cx="92.03" cy="801.48" r="1.44"/>
<circle cx="92.20" cy="802.60" r="1.51"/>
<circle cx="90.83" cy="801.95" r="1.41"/>
<circle cx="91.33" cy="803.91" r="1.71"/>
<circle cx="91.00" cy="804.01" r="1.72"/>
<circle cx="93.66" cy="805.28" r="1.72"/>
<circle cx="93.73" cy="805.14" r="1.60"/>
<circle cx="95.03" cy="803.87" r="1.47"/>
<circle cx="95.48" cy="801.91" r="1.54"/>
<circle cx="97.97" cy="801.13" r="1.63"/>
<circle cx="100.65" cy="801.99" r="1.53"/>
<circle cx="101.71" cy="802.81" r="1.38"/>
<circle cx="103.01" cy="804.27" r="1.57"/>
<circle cx="103.87" cy="801.73" r="1.40"/>
<circle cx="105.62" cy="801.43" r="1.45"/>
<circle cx="108.48" cy="801.93" r="1.69"/>
<circle cx="108.17" cy="802.90" r="1.61"/>
<circle cx="108.43" cy="804.07" r="1.68"/>
<circle cx="108.59" cy="804.34" r="1.63"/>
<circle cx="109.85" cy="804.57" r="1.62"/>
<circle cx="111.01" cy="805.79" r="1.46"/>
<circle cx="111.54" cy="806.39" r="1.64"/>
<circle cx="112.03" cy="806.79" r="1.41"/>
<circle cx="112.52" cy="807.78" r="1.37"/>
<circle cx="112.58" cy="807.83" r="1.50"/>
<circle cx="111.28" cy="808.18" r="1.42"/>
<circle cx="111.17" cy="808.73" r="1.64"/>
<circle cx="108.90" cy="807.20" r="1.47"/>
<circle cx="107.03" cy="809.12" r="1.37"/>
<circle cx="106.21" cy="809.21" r="1.67"/>
<circle cx="105.78" cy="808.10" r="1.73"/>
<circle cx="104.15" cy="808.56" r="1.64"/>
<circle cx="103.91" cy="808.70" r="1.74"/>
<circle cx="100.68" cy="811.10" r="1.67"/>
<circle cx="101.17" cy="812.10" r="1.73"/>
<circle cx="101.48" cy="812.54" r="1.63"/>
<circle cx="101.23" cy="813.27" r="1.67"/>
<circle cx="102.30" cy="813.45" r="1.68"/>
<circle cx="102.82" cy="812.87" r="1.41"/>
<circle cx="102.79" cy="814.12" r="1.49"/>
<circle cx="100.80" cy="815.63" r="1.61"/>
<circle cx="100.57" cy="815.74" r="1.49"/>
<circle cx="99.77" cy="811.94" r="1.71"/>
<circle cx="99.43" cy="811.50" r="1.38"/>
<circle cx="98.16" cy="808.21" r="1.41"/>
<circle cx="97.49" cy="806.78" r="1.49"/>
<circle cx="96.27" cy="806.29" r="1.50"/>
<circle cx="97.13" cy="805.07" r="1.69"/>
<circle cx="100.05" cy="804.43" r="1.37"/>
<circle cx="96.01" cy="809.37" r="1.69"/>
<circle cx="95.10" cy="809.07" r="1.75"/>
<circle cx="94.42" cy="808.18" r="1.38"/>
<circle cx="93.97" cy="809.37" r="1.74"/>
<circle cx="93.05" cy="809.63" r="1.62"/>
<circle cx="93.89" cy="810.73" r="1.41"/>
<circle cx="93.94" cy="812.11" r="1.69"/>
<circle cx="94.85" cy="813.85" r="1.41"/>
<circle cx="96.43" cy="815.97" r="1.51"/>
<circle cx="109.76" cy="802.39" r="1.46"/>
<circle cx="111.02" cy="801.56" r="1.51"/>
<circle cx="109.98" cy="800.81" r="1.42"/>
<circle cx="109.32" cy="800.69" r="1.51"/>
<circle cx="109.78" cy="800.15" r="1.59"/>
<circle cx="108.56" cy="799.78" r="1.55"/>
<circle cx="111.36" cy="803.21" r="1.57"/>
<circle cx="112.54" cy="803.43" r="1.72"/>
<circle cx="91.27" cy="797.49" r="1.70"/>
<circle cx="89.52" cy="800.10" r="1.68"/>
<circle cx="90.65" cy="797.48" r="1.73"/>
<circle cx="93.62" cy="797.07" r="1.56"/>
<circle cx="98.88" cy="798.96" r="1.57"/>
<circle cx="102.25" cy="800.71" r="1.38"/>
<circle cx="106.73" cy="800.63" r="1.55"/>
<circle cx="108.37" cy="799.22" r="1.43"/>
<circle cx="112.80" cy="800.86" r="1.68"/>
<circle cx="113.88" cy="803.99" r="1.46"/>
<circle cx="114.35" cy="807.95" r="1.39"/>
<circle cx="110.47" cy="809.34" r="1.76"/>
<circle cx="108.04" cy="810.25" r="1.37"/>
<circle cx="102.68" cy="809.16" r="1.57"/>
<circle cx="103.36" cy="811.53" r="1.50"/>
<circle cx="102.92" cy="815.30" r="1.43"/>
<circle cx="98.92" cy="815.68" r="1.67"/>
<circle cx="93.51" cy="817.03" r="1.74"/>
<circle cx="91.72" cy="814.02" r="1.36"/>
<circle cx="91.93" cy="810.66" r="1.51"/>
<circle cx="90.60" cy="807.85" r="1.73"/>
<circle cx="89.87" cy="803.52" r="1.59"/>
<polyline points="102.13,817.58 102.23,817.94 101.87,820.49 102.35,821.25 104.70,824.58 103.95,823.66 106.12,825.15 109.25,827.01 109.52,827.38 110.49,830.60 110.87,830.42 112.49,832.58 110.34,832.64 108.97,833.97 107.24,832.68 105.86,833.43 105.53,832.68 105.25,831.09 104.49,831.88 101.67,832.56 104.12,832.62 100.44,832.65 101.16,834.58 102.28,836.35 101.58,838.61 103.68,837.77 105.24,838.68 106.84,840.27 105.79,842.20 104.63,843.78 103.61,845.62 105.14,845.88 104.16,848.30 104.40,849.48 105.63,848.84 104.87,849.11 105.20,848.20" fill="none" stroke="#000" stroke-width="1.2" stroke-linejoin="round" />
<circle cx="102.13" cy="817.58" r="1.70"/>
<circle cx="102.23" cy="817.94" r="1.70"/>
<circle cx="101.87" cy="820.49" r="1.70"/>
<circle cx="102.35" cy="821.25" r="1.70"/>
<circle cx="104.70" cy="824.58" r="1.70"/>
<circle cx="103.95" cy="823.66" r="1.70"/>
<circle cx="106.12" cy="825.15" r="1.70"/>
<circle cx="109.25" cy="827.01" r="1.70"/>
<circle cx="109.52" cy="827.38" r="1.70"/>
<circle cx="110.49" cy="830.60" r="1.70"/>
<circle cx="110.87" cy="830.42" r="1.70"/>
<circle cx="112.49" cy="832.58" r="1.70"/>
<circle cx="110.34" cy="832.64" r="1.70"/>
<circle cx="108.97" cy="833.97" r="1.70"/>
<circle cx="107.24" cy="832.68" r="1.70"/>
<circle cx="105.86" cy="833.43" r="1.70"/>
<circle cx="105.53" cy="832.68" r="1.70"/>
<circle cx="105.25" cy="831.09" r="1.70"/>
<circle cx="104.49" cy="831.88" r="1.70"/>
<circle cx="101.67" cy="832.56" r="1.70"/>
<circle cx="104.12" cy="832.62" r="1.70"/>
<circle cx="100.44" cy="832.65" r="1.70"/>
<circle cx="101.16" cy="834.58" r="1.70"/>
<circle cx="102.28" cy="836.35" r="1.70"/>
<circle cx="101.58" cy="838.61" r="1.70"/>
<circle cx="103.68" cy="837.77" r="1.70"/>
<circle cx="105.24" cy="838.68" r="1.70"/>
<circle cx="106.84" cy="840.27" r="1.70"/>
<circle cx="105.79" cy="842.20" r="1.70"/>
<circle cx="104.63" cy="843.78" r="1.70"/>
<circle cx="103.61" cy="845.62" r="1.70"/>
<circle cx="105.14" cy="845.88" r="1.70"/>
<circle cx="104.16" cy="848.30" r="1.70"/>
<circle cx="104.40" cy="849.48" r="1.70"/>
<circle cx="105.63" cy="848.84" r="1.70"/>
<circle cx="104.87" cy="849.11" r="1.70"/>
<circle cx="105.20" cy="848.20" r="1.70"/>
<polyline points="103.29,816.00 102.46,818.11 103.21,821.53 101.58,821.72 103.41,823.82 105.94,824.51 105.49,827.05 105.72,826.35 108.32,828.45 110.80,829.21 112.40,830.15 110.35,833.17 111.37,833.14 109.62,833.79 107.88,833.37 105.59,832.53 103.96,831.08 103.61,832.90 103.46,831.46 101.64,831.80 100.98,831.97 100.85,831.99 101.47,837.88 100.80,836.43 100.89,837.70 102.03,839.25 104.67,837.50 105.15,838.63 105.77,842.54 105.21,841.72 104.31,844.41 102.38,846.67 105.14,845.21 105.72,847.83 104.50,850.38 103.26,846.73 105.20,848.20" fill="none" stroke="#000" stroke-width="1.2" stroke-linejoin="round" />
<circle cx="103.29" cy="816.00" r="1.53"/>
<circle cx="102.46" cy="818.11" r="1.53"/>
<circle cx="103.21" cy="821.53" r="1.53"/>
<circle cx="101.58" cy="821.72" r="1.53"/>
<circle cx="103.41" cy="823.82" r="1.53"/>
<circle cx="105.94" cy="824.51" r="1.53"/>
<circle cx="105.49" cy="827.05" r="1.53"/>
<circle cx="105.72" cy="826.35" r="1.53"/>
<circle cx="108.32" cy="828.45" r="1.53"/>
<circle cx="110.80" cy="829.21" r="1.53"/>
<circle cx="112.40" cy="830.15" r="1.53"/>
<circle cx="110.35" cy="833.17" r="1.53"/>
<circle cx="111.37" cy="833.14" r="1.53"/>
<circle cx="109.62" cy="833.79" r="1.53"/>
<circle cx="107.88" cy="833.37" r="1.53"/>
<circle cx="105.59" cy="832.53" r="1.53"/>
<circle cx="103.96" cy="831.08" r="1.53"/>
<circle cx="103.61" cy="832.90" r="1.53"/>
<circle cx="103.46" cy="831.46" r="1.53"/>
<circle cx="101.64" cy="831.80" r="1.53"/>
<circle cx="100.98" cy="831.97" r="1.53"/>
<circle cx="100.85" cy="831.99" r="1.53"/>
<circle cx="101.47" cy="837.88" r="1.53"/>
<circle cx="100.80" cy="836.43" r="1.53"/>
<circle cx="100.89" cy="837.70" r="1.53"/>
<circle cx="102.03" cy="839.25" r="1.53"/>
<circle cx="104.67" cy="837.50" r="1.53"/>
<circle cx="105.15" cy="838.63" r="1.53"/>
<circle cx="105.77" cy="842.54" r="1.53"/>
<circle cx="105.21" cy="841.72" r="1.53"/>
<circle cx="104.31" cy="844.41" r="1.53"/>
<circle cx="102.38" cy="846.67" r="1.53"/>
<circle cx="105.14" cy="845.21" r="1.53"/>
<circle cx="105.72" cy="847.83" r="1.53"/>
<circle cx="104.50" cy="850.38" r="1.53"/>
<circle cx="103.26" cy="846.73" r="1.53"/>
<circle cx="105.20" cy="848.20" r="1.53"/>
<polygon points="132.09,747.11 134.99,750.19 134.69,753.82 130.37,758.03 130.82,763.39 129.18,767.36 126.32,766.76 123.64,762.62 126.60,757.23 128.22,752.98" fill="#000" stroke="#000" stroke-width="1.5" stroke-linejoin="round"/>
<circle cx="131.66" cy="746.68" r="1.71"/>
<circle cx="134.80" cy="750.01" r="1.31"/>
<circle cx="134.64" cy="753.49" r="1.29"/>
<circle cx="132.55" cy="755.52" r="1.45"/>
<circle cx="129.87" cy="758.34" r="1.60"/>
<circle cx="130.76" cy="760.94" r="1.43"/>
<circle cx="131.42" cy="763.06" r="1.52"/>
<circle cx="129.37" cy="767.05" r="1.63"/>
<circle cx="127.30" cy="767.45" r="1.58"/>
<circle cx="123.98" cy="763.19" r="1.65"/>
<circle cx="124.98" cy="759.94" r="1.44"/>
<circle cx="126.64" cy="756.75" r="1.45"/>
<circle cx="127.54" cy="752.70" r="1.49"/>
<circle cx="130.28" cy="750.17" r="1.29"/>
<polyline points="129.55,769.41 126.28,770.58 123.78,770.69 123.78,772.61 121.04,772.80 119.31,771.89 117.01,769.77 116.37,773.19 116.04,775.97 113.59,776.01 110.60,776.45 111.92,777.13 113.90,776.12 116.04,775.77 118.27,776.18 120.70,775.20 122.47,776.18 125.09,776.95 128.45,776.86 128.97,778.04 129.10,778.00" fill="none" stroke="#000" stroke-width="1.2" stroke-linejoin="round" />
<circle cx="129.55" cy="769.41" r="1.70"/>
<circle cx="126.28" cy="770.58" r="1.70"/>
<circle cx="123.78" cy="770.69" r="1.70"/>
<circle cx="123.78" cy="772.61" r="1.70"/>
<circle cx="121.04" cy="772.80" r="1.70"/>
<circle cx="119.31" cy="771.89" r="1.70"/>
<circle cx="117.01" cy="769.77" r="1.70"/>
<circle cx="116.37" cy="773.19" r="1.70"/>
<circle cx="116.04" cy="775.97" r="1.70"/>
<circle cx="113.59" cy="776.01" r="1.70"/>
<circle cx="110.60" cy="776.45" r="1.70"/>
<circle cx="111.92" cy="777.13" r="1.70"/>
<circle cx="113.90" cy="776.12" r="1.70"/>
<circle cx="116.04" cy="775.77" r="1.70"/>
<circle cx="118.27" cy="776.18" r="1.70"/>
<circle cx="120.70" cy="775.20" r="1.70"/>
<circle cx="122.47" cy="776.18" r="1.70"/>
<circle cx="125.09" cy="776.95" r="1.70"/>
<circle cx="128.45" cy="776.86" r="1.70"/>
<circle cx="128.97" cy="778.04" r="1.70"/>
<circle cx="129.10" cy="778.00" r="1.70"/>
<polyline points="129.61,770.34 127.33,770.53 125.36,771.36 123.40,771.12 122.16,772.56 119.58,771.66 117.39,770.20 116.67,772.27 115.65,776.77 112.75,775.88 111.76,777.38 113.17,776.63 114.18,776.94 116.34,776.14 117.26,775.45 119.48,776.47 122.32,775.34 125.33,776.44 128.11,777.10 127.67,778.66 129.10,778.00" fill="none" stroke="#000" stroke-width="1.2" stroke-linejoin="round" />
<circle cx="129.61" cy="770.34" r="1.53"/>
<circle cx="127.33" cy="770.53" r="1.53"/>
<circle cx="125.36" cy="771.36" r="1.53"/>
<circle cx="123.40" cy="771.12" r="1.53"/>
<circle cx="122.16" cy="772.56" r="1.53"/>
<circle cx="119.58" cy="771.66" r="1.53"/>
<circle cx="117.39" cy="770.20" r="1.53"/>
<circle cx="116.67" cy="772.27" r="1.53"/>
<circle cx="115.65" cy="776.77" r="1.53"/>
<circle cx="112.75" cy="775.88" r="1.53"/>
<circle cx="111.76" cy="777.38" r="1.53"/>
<circle cx="113.17" cy="776.63" r="1.53"/>
<circle cx="114.18" cy="776.94" r="1.53"/>
<circle cx="116.34" cy="776.14" r="1.53"/>
<circle cx="117.26" cy="775.45" r="1.53"/>
<circle cx="119.48" cy="776.47" r="1.53"/>
<circle cx="122.32" cy="775.34" r="1.53"/>
<circle cx="125.33" cy="776.44" r="1.53"/>
<circle cx="128.11" cy="777.10" r="1.53"/>
<circle cx="127.67" cy="778.66" r="1.53"/>
<circle cx="129.10" cy="778.00" r="1.53"/>
<polyline points="129.46,769.18 131.52,769.44 134.03,770.40 135.69,770.22 138.08,770.73 139.79,770.52 142.78,770.13 145.07,769.89 147.21,768.71 149.47,768.59 150.10,768.01 152.54,769.76 154.72,770.48 157.05,770.98 157.48,772.26 158.33,774.55 157.59,778.39 156.20,779.02 156.07,781.08 155.79,782.52 157.26,784.08 158.28,786.28 159.62,787.29 160.04,789.28 160.76,790.93 159.60,792.47 157.81,793.24 156.08,794.11 154.17,794.80 153.06,796.54 152.03,795.97 151.24,798.19 152.11,799.35 151.87,801.81 152.20,802.54 151.79,803.85 151.70,804.90" fill="none" stroke="#000" stroke-width="1.2" stroke-linejoin="round" />
<circle cx="129.46" cy="769.18" r="1.40"/>
<circle cx="131.52" cy="769.44" r="1.40"/>
<circle cx="134.03" cy="770.40" r="1.40"/>
<circle cx="135.69" cy="770.22" r="1.40"/>
<circle cx="138.08" cy="770.73" r="1.40"/>
<circle cx="139.79" cy="770.52" r="1.40"/>
<circle cx="142.78" cy="770.13" r="1.40"/>
<circle cx="145.07" cy="769.89" r="1.40"/>
<circle cx="147.21" cy="768.71" r="1.40"/>
<circle cx="149.47" cy="768.59" r="1.40"/>
<circle cx="150.10" cy="768.01" r="1.40"/>
<circle cx="152.54" cy="769.76" r="1.40"/>
<circle cx="154.72" cy="770.48" r="1.40"/>
<circle cx="157.05" cy="770.98" r="1.40"/>
<circle cx="157.48" cy="772.26" r="1.40"/>
<circle cx="158.33" cy="774.55" r="1.40"/>
<circle cx="157.59" cy="778.39" r="1.40"/>
<circle cx="156.20" cy="779.02" r="1.40"/>
<circle cx="156.07" cy="781.08" r="1.40"/>
<circle cx="155.79" cy="782.52" r="1.40"/>
<circle cx="157.26" cy="784.08" r="1.40"/>
<circle cx="158.28" cy="786.28" r="1.40"/>
<circle cx="159.62" cy="787.29" r="1.40"/>
<circle cx="160.04" cy="789.28" r="1.40"/>
<circle cx="160.76" cy="790.93" r="1.40"/>
<circle cx="159.60" cy="792.47" r="1.40"/>
<circle cx="157.81" cy="793.24" r="1.40"/>
<circle cx="156.08" cy="794.11" r="1.40"/>
<circle cx="154.17" cy="794.80" r="1.40"/>
<circle cx="153.06" cy="796.54" r="1.40"/>
<circle cx="152.03" cy="795.97" r="1.40"/>
<circle cx="151.24" cy="798.19" r="1.40"/>
<circle cx="152.11" cy="799.35" r="1.40"/>
<circle cx="151.87" cy="801.81" r="1.40"/>
<circle cx="152.20" cy="802.54" r="1.40"/>
<circle cx="151.79" cy="803.85" r="1.40"/>
<circle cx="151.70" cy="804.90" r="1.40"/>
<polyline points="128.95,769.82 131.81,769.99 135.62,770.87 136.92,769.79 137.63,770.91 140.20,770.48 142.16,770.87 146.57,769.60 147.42,768.93 149.14,767.67 149.14,767.72 152.16,768.58 153.64,769.48 155.99,771.66 157.13,773.03 158.12,775.61 156.70,777.75 156.87,779.83 155.13,781.13 156.23,782.46 157.33,783.42 157.66,785.56 159.95,786.93 159.26,788.48 161.13,791.33 159.20,791.67 158.06,793.09 155.26,793.59 153.71,794.64 152.59,794.87 151.22,796.01 152.60,798.76 152.49,800.20 151.73,800.94 150.73,803.22 151.33,804.03 151.70,804.90" fill="none" stroke="#000" stroke-width="1.2" stroke-linejoin="round" />
<circle cx="128.95" cy="769.82" r="1.26"/>
<circle cx="131.81" cy="769.99" r="1.26"/>
<circle cx="135.62" cy="770.87" r="1.26"/>
<circle cx="136.92" cy="769.79" r="1.26"/>
<circle cx="137.63" cy="770.91" r="1.26"/>
<circle cx="140.20" cy="770.48" r="1.26"/>
<circle cx="142.16" cy="770.87" r="1.26"/>
<circle cx="146.57" cy="769.60" r="1.26"/>
<circle cx="147.42" cy="768.93" r="1.26"/>
<circle cx="149.14" cy="767.67" r="1.26"/>
<circle cx="149.14" cy="767.72" r="1.26"/>
<circle cx="152.16" cy="768.58" r="1.26"/>
<circle cx="153.64" cy="769.48" r="1.26"/>
<circle cx="155.99" cy="771.66" r="1.26"/>
<circle cx="157.13" cy="773.03" r="1.26"/>
<circle cx="158.12" cy="775.61" r="1.26"/>
<circle cx="156.70" cy="777.75" r="1.26"/>
<circle cx="156.87" cy="779.83" r="1.26"/>
<circle cx="155.13" cy="781.13" r="1.26"/>
<circle cx="156.23" cy="782.46" r="1.26"/>
<circle cx="157.33" cy="783.42" r="1.26"/>
<circle cx="157.66" cy="785.56" r="1.26"/>
<circle cx="159.95" cy="786.93" r="1.26"/>
<circle cx="159.26" cy="788.48" r="1.26"/>
<circle cx="161.13" cy="791.33" r="1.26"/>
<circle cx="159.20" cy="791.67" r="1.26"/>
<circle cx="158.06" cy="793.09" r="1.26"/>
<circle cx="155.26" cy="793.59" r="1.26"/>
<circle cx="153.71" cy="794.64" r="1.26"/>
<circle cx="152.59" cy="794.87" r="1.26"/>
<circle cx="151.22" cy="796.01" r="1.26"/>
<circle cx="152.60" cy="798.76" r="1.26"/>
<circle cx="152.49" cy="800.20" r="1.26"/>
<circle cx="151.73" cy="800.94" r="1.26"/>
<circle cx="150.73" cy="803.22" r="1.26"/>
<circle cx="151.33" cy="804.03" r="1.26"/>
<circle cx="151.70" cy="804.90" r="1.26"/>
<polygon points="120.49,818.19 127.39,817.86 131.71,823.31 136.16,826.94 137.44,832.45 136.48,837.06 131.90,838.68 127.41,838.62 124.26,833.88 120.95,827.52 119.50,824.07" fill="#000"/>
<polyline points="126.28,836.57 126.63,835.38 128.23,835.24 128.27,833.62 127.71,833.69 127.58,832.00 127.37,831.70 125.71,831.64 125.28,832.33 124.86,832.37 123.45,831.23 122.72,831.45 125.44,830.57 126.72,828.90 127.08,829.12 127.82,827.73 128.82,828.05 126.55,827.38 126.48,827.18 125.75,826.39 125.30,827.84 124.48,827.55 123.65,826.78 122.42,827.24 122.28,826.76 120.84,826.34 121.51,825.10 121.38,824.24 122.22,823.56 123.28,824.39 123.57,824.52 125.95,823.23 126.22,822.58 125.19,821.80 125.34,820.55 126.11,820.75 126.23,820.38 126.61,820.13 126.77,818.97 125.89,818.30 127.68,820.94 128.58,820.37 128.32,822.31 130.01,821.88 130.75,822.09 131.45,822.67 131.97,823.72 133.11,824.03 133.97,825.99 133.48,827.29 133.96,828.49 135.02,829.38 135.74,828.82 136.99,831.24 134.63,832.72 134.03,831.43 133.16,830.53 131.53,829.72 131.24,830.06 132.13,833.50 133.10,834.80 133.76,835.79 133.87,836.52 134.79,836.21 136.25,835.07 134.43,838.18 133.38,837.83 133.34,838.72 132.24,838.66 131.87,838.94 132.27,838.09 132.44,837.35 128.94,836.88 132.34,826.51 129.78,824.36 129.39,823.88 129.39,823.77 127.93,824.70 127.78,825.92 121.97,828.48 119.69,823.09 122.42,820.99 121.78,820.12 121.67,820.17 121.57,818.59 122.04,818.37 122.29,817.81 121.14,817.59 120.81,817.64 121.00,818.44" fill="none" stroke="#000" stroke-width="0.9" stroke-linejoin="round" />
<circle cx="126.28" cy="836.57" r="1.64"/>
<circle cx="126.63" cy="835.38" r="1.66"/>
<circle cx="128.23" cy="835.24" r="1.68"/>
<circle cx="128.27" cy="833.62" r="1.65"/>
<circle cx="127.71" cy="833.69" r="1.46"/>
<circle cx="127.58" cy="832.00" r="1.59"/>
<circle cx="127.37" cy="831.70" r="1.52"/>
<circle cx="125.71" cy="831.64" r="1.39"/>
<circle cx="125.28" cy="832.33" r="1.61"/>
<circle cx="124.86" cy="832.37" r="1.42"/>
<circle cx="123.45" cy="831.23" r="1.63"/>
<circle cx="122.72" cy="831.45" r="1.58"/>
<circle cx="125.44" cy="830.57" r="1.39"/>
<circle cx="126.72" cy="828.90" r="1.53"/>
<circle cx="127.08" cy="829.12" r="1.58"/>
<circle cx="127.82" cy="827.73" r="1.46"/>
<circle cx="128.82" cy="828.05" r="1.73"/>
<circle cx="126.55" cy="827.38" r="1.74"/>
<circle cx="126.48" cy="827.18" r="1.40"/>
<circle cx="125.75" cy="826.39" r="1.65"/>
<circle cx="125.30" cy="827.84" r="1.53"/>
<circle cx="124.48" cy="827.55" r="1.69"/>
<circle cx="123.65" cy="826.78" r="1.73"/>
<circle cx="122.42" cy="827.24" r="1.56"/>
<circle cx="122.28" cy="826.76" r="1.61"/>
<circle cx="120.84" cy="826.34" r="1.51"/>
<circle cx="121.51" cy="825.10" r="1.63"/>
<circle cx="121.38" cy="824.24" r="1.76"/>
<circle cx="122.22" cy="823.56" r="1.49"/>
<circle cx="123.28" cy="824.39" r="1.37"/>
<circle cx="123.57" cy="824.52" r="1.75"/>
<circle cx="125.95" cy="823.23" r="1.37"/>
<circle cx="126.22" cy="822.58" r="1.64"/>
<circle cx="125.19" cy="821.80" r="1.59"/>
<circle cx="125.34" cy="820.55" r="1.52"/>
<circle cx="126.11" cy="820.75" r="1.73"/>
<circle cx="126.23" cy="820.38" r="1.41"/>
<circle cx="126.61" cy="820.13" r="1.46"/>
<circle cx="126.77" cy="818.97" r="1.69"/>
<circle cx="125.89" cy="818.30" r="1.36"/>
<circle cx="127.68" cy="820.94" r="1.47"/>
<circle cx="128.58" cy="820.37" r="1.43"/>
<circle cx="128.32" cy="822.31" r="1.53"/>
<circle cx="130.01" cy="821.88" r="1.65"/>
<circle cx="130.75" cy="822.09" r="1.74"/>
<circle cx="131.45" cy="822.67" r="1.46"/>
<circle cx="131.97" cy="823.72" r="1.37"/>
<circle cx="133.11" cy="824.03" r="1.66"/>
<circle cx="133.97" cy="825.99" r="1.72"/>
<circle cx="133.48" cy="827.29" r="1.37"/>
<circle cx="133.96" cy="828.49" r="1.61"/>
<circle cx="135.02" cy="829.38" r="1.60"/>
<circle cx="135.74" cy="828.82" r="1.58"/>
<circle cx="136.99" cy="831.24" r="1.61"/>
<circle cx="134.63" cy="832.72" r="1.47"/>
<circle cx="134.03" cy="831.43" r="1.72"/>
<circle cx="133.16" cy="830.53" r="1.45"/>
<circle cx="131.53" cy="829.72" r="1.74"/>
<circle cx="131.24" cy="830.06" r="1.74"/>
<circle cx="132.13" cy="833.50" r="1.69"/>
<circle cx="133.10" cy="834.80" r="1.51"/>
<circle cx="133.76" cy="835.79" r="1.74"/>
<circle cx="133.87" cy="836.52" r="1.45"/>
<circle cx="134.79" cy="836.21" r="1.56"/>
<circle cx="136.25" cy="835.07" r="1.56"/>
<circle cx="134.43" cy="838.18" r="1.42"/>
<circle cx="133.38" cy="837.83" r="1.75"/>
<circle cx="133.34" cy="838.72" r="1.43"/>
<circle cx="132.24" cy="838.66" r="1.55"/>
<circle cx="131.87" cy="838.94" r="1.39"/>
<circle cx="132.27" cy="838.09" r="1.47"/>
<circle cx="132.44" cy="837.35" r="1.69"/>
<circle cx="128.94" cy="836.88" r="1.63"/>
<circle cx="132.34" cy="826.51" r="1.51"/>
<circle cx="129.78" cy="824.36" r="1.62"/>
<circle cx="129.39" cy="823.88" r="1.43"/>
<circle cx="129.39" cy="823.77" r="1.62"/>
<circle cx="127.93" cy="824.70" r="1.72"/>
<circle cx="127.78" cy="825.92" r="1.37"/>
<circle cx="121.97" cy="828.48" r="1.48"/>
<circle cx="119.69" cy="823.09" r="1.46"/>
<circle cx="122.42" cy="820.99" r="1.40"/>
<circle cx="121.78" cy="820.12" r="1.73"/>
<circle cx="121.67" cy="820.17" r="1.64"/>
<circle cx="121.57" cy="818.59" r="1.61"/>
<circle cx="122.04" cy="818.37" r="1.60"/>
<circle cx="122.29" cy="817.81" r="1.63"/>
<circle cx="121.14" cy="817.59" r="1.47"/>
<circle cx="120.81" cy="817.64" r="1.44"/>
<circle cx="121.00" cy="818.44" r="1.39"/>
<circle cx="120.19" cy="817.14" r="1.68"/>
<circle cx="124.41" cy="817.38" r="1.66"/>
<circle cx="126.63" cy="816.70" r="1.59"/>
<circle cx="129.25" cy="819.37" r="1.50"/>
<circle cx="132.00" cy="823.19" r="1.58"/>
<circle cx="134.93" cy="824.86" r="1.70"/>
<circle cx="135.99" cy="826.41" r="1.53"/>
<circle cx="138.29" cy="832.27" r="1.75"/>
<circle cx="138.00" cy="837.53" r="1.59"/>
<circle cx="132.10" cy="838.57" r="1.59"/>
<circle cx="127.83" cy="838.84" r="1.54"/>
<circle cx="123.90" cy="834.28" r="1.48"/>
<circle cx="121.90" cy="830.04" r="1.43"/>
<circle cx="120.41" cy="827.32" r="1.75"/>
<circle cx="118.44" cy="823.50" r="1.64"/>
<circle cx="119.70" cy="820.38" r="1.48"/>
<polyline points="138.33,838.43 142.31,837.93 145.00,837.10" fill="none" stroke="#000" stroke-width="1.2" stroke-linejoin="round" />
<circle cx="138.33" cy="838.43" r="1.70"/>
<circle cx="142.31" cy="837.93" r="1.70"/>
<circle cx="145.00" cy="837.10" r="1.70"/>
<polyline points="138.32,838.19 142.16,837.34 145.00,837.10" fill="none" stroke="#000" stroke-width="1.2" stroke-linejoin="round" />
<circle cx="138.32" cy="838.19" r="1.53"/>
<circle cx="142.16" cy="837.34" r="1.53"/>
<circle cx="145.00" cy="837.10" r="1.53"/>
<polygon points="150.30,827.17 152.56,829.62 154.16,834.97 155.16,837.46 158.67,839.41 159.41,841.12 156.71,842.05 153.56,839.51 150.84,838.13 148.68,835.35 147.76,831.07" fill="#000"/>
<polyline points="152.25,838.06 152.20,837.92 152.32,837.73 152.18,838.90 150.72,837.51 150.20,836.75 149.60,835.30 149.91,834.28 151.19,834.15 151.66,834.31 152.47,833.63 152.14,833.29 153.27,833.32 152.81,831.91 152.23,831.18 152.17,830.96 152.53,830.93 151.46,831.52 150.95,830.74 149.71,831.35 149.44,832.42 149.95,832.44 148.47,832.16 147.99,833.28 148.47,834.45 148.40,830.86 148.93,829.03 149.19,828.34 149.79,828.87 151.51,828.84 151.81,828.88 151.66,828.28 153.29,834.89 153.12,835.60 152.56,835.48 153.74,835.49 154.94,837.01 155.30,838.73 155.56,838.99 155.92,838.73 155.97,839.48 157.26,839.68 157.53,838.84 155.57,840.89 159.48,841.33" fill="none" stroke="#000" stroke-width="0.9" stroke-linejoin="round" />
<circle cx="152.25" cy="838.06" r="1.67"/>
<circle cx="152.20" cy="837.92" r="1.73"/>
<circle cx="152.32" cy="837.73" r="1.73"/>
<circle cx="152.18" cy="838.90" r="1.39"/>
<circle cx="150.72" cy="837.51" r="1.41"/>
<circle cx="150.20" cy="836.75" r="1.51"/>
<circle cx="149.60" cy="835.30" r="1.58"/>
<circle cx="149.91" cy="834.28" r="1.38"/>
<circle cx="151.19" cy="834.15" r="1.40"/>
<circle cx="151.66" cy="834.31" r="1.69"/>
<circle cx="152.47" cy="833.63" r="1.76"/>
<circle cx="152.14" cy="833.29" r="1.54"/>
<circle cx="153.27" cy="833.32" r="1.68"/>
<circle cx="152.81" cy="831.91" r="1.64"/>
<circle cx="152.23" cy="831.18" r="1.67"/>
<circle cx="152.17" cy="830.96" r="1.53"/>
<circle cx="152.53" cy="830.93" r="1.73"/>
<circle cx="151.46" cy="831.52" r="1.41"/>
<circle cx="150.95" cy="830.74" r="1.47"/>
<circle cx="149.71" cy="831.35" r="1.61"/>
<circle cx="149.44" cy="832.42" r="1.46"/>
<circle cx="149.95" cy="832.44" r="1.70"/>
<circle cx="148.47" cy="832.16" r="1.69"/>
<circle cx="147.99" cy="833.28" r="1.68"/>
<circle cx="148.47" cy="834.45" r="1.71"/>
<circle cx="148.40" cy="830.86" r="1.61"/>
<circle cx="148.93" cy="829.03" r="1.43"/>
<circle cx="149.19" cy="828.34" r="1.49"/>
<circle cx="149.79" cy="828.87" r="1.36"/>
<circle cx="151.51" cy="828.84" r="1.52"/>
<circle cx="151.81" cy="828.88" r="1.61"/>
<circle cx="151.66" cy="828.28" r="1.64"/>
<circle cx="153.29" cy="834.89" r="1.65"/>
<circle cx="153.12" cy="835.60" r="1.46"/>
<circle cx="152.56" cy="835.48" r="1.73"/>
<circle cx="153.74" cy="835.49" r="1.58"/>
<circle cx="154.94" cy="837.01" r="1.44"/>
<circle cx="155.30" cy="838.73" r="1.73"/>
<circle cx="155.56" cy="838.99" r="1.63"/>
<circle cx="155.92" cy="838.73" r="1.63"/>
<circle cx="155.97" cy="839.48" r="1.60"/>
<circle cx="157.26" cy="839.68" r="1.36"/>
<circle cx="157.53" cy="838.84" r="1.58"/>
<circle cx="155.57" cy="840.89" r="1.65"/>
<circle cx="159.48" cy="841.33" r="1.63"/>
<circle cx="150.55" cy="825.87" r="1.65"/>
<circle cx="152.34" cy="829.39" r="1.59"/>
<circle cx="153.10" cy="831.83" r="1.51"/>
<circle cx="154.04" cy="834.47" r="1.71"/>
<circle cx="155.68" cy="837.49" r="1.40"/>
<circle cx="159.45" cy="839.34" r="1.61"/>
<circle cx="160.11" cy="841.78" r="1.52"/>
<circle cx="157.23" cy="842.52" r="1.47"/>
<circle cx="154.67" cy="839.61" r="1.67"/>
<circle cx="150.97" cy="838.94" r="1.69"/>
<circle cx="148.88" cy="835.28" r="1.47"/>
<circle cx="147.60" cy="830.99" r="1.64"/>
<polyline points="158.39,843.50 160.65,846.03 161.86,848.51 160.38,847.39 157.37,846.30 155.70,845.81 153.55,846.36 150.23,847.46 146.97,847.73 145.84,850.37 146.19,852.38 148.10,853.04 151.00,853.60" fill="none" stroke="#000" stroke-width="1.2" stroke-linejoin="round" />
<circle cx="158.39" cy="843.50" r="1.70"/>
<circle cx="160.65" cy="846.03" r="1.70"/>
<circle cx="161.86" cy="848.51" r="1.70"/>
<circle cx="160.38" cy="847.39" r="1.70"/>
<circle cx="157.37" cy="846.30" r="1.70"/>
<circle cx="155.70" cy="845.81" r="1.70"/>
<circle cx="153.55" cy="846.36" r="1.70"/>
<circle cx="150.23" cy="847.46" r="1.70"/>
<circle cx="146.97" cy="847.73" r="1.70"/>
<circle cx="145.84" cy="850.37" r="1.70"/>
<circle cx="146.19" cy="852.38" r="1.70"/>
<circle cx="148.10" cy="853.04" r="1.70"/>
<circle cx="151.00" cy="853.60" r="1.70"/>
<polyline points="156.43,843.76 160.01,846.31 162.69,848.13 159.68,847.18 158.16,845.61 155.02,846.32 154.56,846.74 151.31,848.17 146.71,848.25 145.59,851.06 146.17,852.68 148.78,853.25 151.00,853.60" fill="none" stroke="#000" stroke-width="1.2" stroke-linejoin="round" />
<circle cx="156.43" cy="843.76" r="1.53"/>
<circle cx="160.01" cy="846.31" r="1.53"/>
<circle cx="162.69" cy="848.13" r="1.53"/>
<circle cx="159.68" cy="847.18" r="1.53"/>
<circle cx="158.16" cy="845.61" r="1.53"/>
<circle cx="155.02" cy="846.32" r="1.53"/>
<circle cx="154.56" cy="846.74" r="1.53"/>
<circle cx="151.31" cy="848.17" r="1.53"/>
<circle cx="146.71" cy="848.25" r="1.53"/>
<circle cx="145.59" cy="851.06" r="1.53"/>
<circle cx="146.17" cy="852.68" r="1.53"/>
<circle cx="148.78" cy="853.25" r="1.53"/>
<circle cx="151.00" cy="853.60" r="1.53"/>
<polyline points="137.90,840.54 139.05,842.01 138.58,844.40 138.33,846.17 136.30,848.12 135.46,847.70 133.90,848.56 132.99,850.73 131.80,852.30" fill="none" stroke="#000" stroke-width="1.2" stroke-linejoin="round" />
<circle cx="137.90" cy="840.54" r="1.70"/>
<circle cx="139.05" cy="842.01" r="1.70"/>
<circle cx="138.58" cy="844.40" r="1.70"/>
<circle cx="138.33" cy="846.17" r="1.70"/>
<circle cx="136.30" cy="848.12" r="1.70"/>
<circle cx="135.46" cy="847.70" r="1.70"/>
<circle cx="133.90" cy="848.56" r="1.70"/>
<circle cx="132.99" cy="850.73" r="1.70"/>
<circle cx="131.80" cy="852.30" r="1.70"/>
<polyline points="138.09,841.77 138.07,842.41 138.86,842.58 137.26,845.59 136.58,847.16 134.57,849.03 134.36,849.02 132.61,850.76 131.80,852.30" fill="none" stroke="#000" stroke-width="1.2" stroke-linejoin="round" />
<circle cx="138.09" cy="841.77" r="1.53"/>
<circle cx="138.07" cy="842.41" r="1.53"/>
<circle cx="138.86" cy="842.58" r="1.53"/>
<circle cx="137.26" cy="845.59" r="1.53"/>
<circle cx="136.58" cy="847.16" r="1.53"/>
<circle cx="134.57" cy="849.03" r="1.53"/>
<circle cx="134.36" cy="849.02" r="1.53"/>
<circle cx="132.61" cy="850.76" r="1.53"/>
<circle cx="131.80" cy="852.30" r="1.53"/>
<polyline points="134.40,857.40 133.80,857.06 133.76,856.63 133.43,856.18 134.14,855.64 135.08,855.92 135.53,855.45 136.06,854.84 136.52,855.18 137.86,854.16 138.98,855.87 141.21,857.52 142.34,857.68 143.31,857.76 143.74,857.80 146.04,858.78 146.28,857.78 146.57,856.53 147.74,856.27 147.27,855.27 147.23,855.03 146.28,855.04 145.78,855.35 145.74,855.35 145.08,855.31 142.68,855.30 142.66,855.01 142.38,855.66 135.36,858.53 134.57,858.18 133.13,859.98 132.08,859.75 131.82,858.54 127.91,857.68 133.36,854.33" fill="none" stroke="#000" stroke-width="0.9" stroke-linejoin="round" />
<circle cx="134.40" cy="857.40" r="1.50"/>
<circle cx="133.80" cy="857.06" r="1.75"/>
<circle cx="133.76" cy="856.63" r="1.74"/>
<circle cx="133.43" cy="856.18" r="1.62"/>
<circle cx="134.14" cy="855.64" r="1.72"/>
<circle cx="135.08" cy="855.92" r="1.49"/>
<circle cx="135.53" cy="855.45" r="1.43"/>
<circle cx="136.06" cy="854.84" r="1.49"/>
<circle cx="136.52" cy="855.18" r="1.59"/>
<circle cx="137.86" cy="854.16" r="1.72"/>
<circle cx="138.98" cy="855.87" r="1.70"/>
<circle cx="141.21" cy="857.52" r="1.46"/>
<circle cx="142.34" cy="857.68" r="1.69"/>
<circle cx="143.31" cy="857.76" r="1.71"/>
<circle cx="143.74" cy="857.80" r="1.59"/>
<circle cx="146.04" cy="858.78" r="1.56"/>
<circle cx="146.28" cy="857.78" r="1.55"/>
<circle cx="146.57" cy="856.53" r="1.44"/>
<circle cx="147.74" cy="856.27" r="1.46"/>
<circle cx="147.27" cy="855.27" r="1.56"/>
<circle cx="147.23" cy="855.03" r="1.56"/>
<circle cx="146.28" cy="855.04" r="1.57"/>
<circle cx="145.78" cy="855.35" r="1.54"/>
<circle cx="145.74" cy="855.35" r="1.70"/>
<circle cx="145.08" cy="855.31" r="1.43"/>
<circle cx="142.68" cy="855.30" r="1.43"/>
<circle cx="142.66" cy="855.01" r="1.73"/>
<circle cx="142.38" cy="855.66" r="1.59"/>
<circle cx="135.36" cy="858.53" r="1.61"/>
<circle cx="134.57" cy="858.18" r="1.55"/>
<circle cx="133.13" cy="859.98" r="1.53"/>
<circle cx="132.08" cy="859.75" r="1.50"/>
<circle cx="131.82" cy="858.54" r="1.57"/>
<circle cx="127.91" cy="857.68" r="1.69"/>
<circle cx="133.36" cy="854.33" r="1.38"/>
<circle cx="131.99" cy="854.87" r="1.56"/>
<circle cx="137.12" cy="853.59" r="1.62"/>
<circle cx="140.74" cy="855.84" r="1.69"/>
<circle cx="145.83" cy="854.23" r="1.72"/>
<circle cx="149.05" cy="855.47" r="1.73"/>
<circle cx="145.28" cy="859.60" r="1.55"/>
<circle cx="140.52" cy="859.26" r="1.69"/>
<circle cx="136.94" cy="857.61" r="1.70"/>
<circle cx="132.14" cy="860.82" r="1.64"/>
<circle cx="129.20" cy="860.38" r="1.38"/>
<circle cx="127.41" cy="856.41" r="1.54"/>
<circle cx="129.62" cy="855.65" r="1.74"/>
<polyline points="128.28,857.97 127.92,860.56 127.57,861.62 127.20,863.13 127.26,863.56 125.86,865.32 122.51,865.67 122.11,866.28 120.38,868.41 117.46,868.28 116.52,869.16 114.95,869.27 112.60,869.50" fill="none" stroke="#000" stroke-width="1.2" stroke-linejoin="round" />
<circle cx="128.28" cy="857.97" r="1.70"/>
<circle cx="127.92" cy="860.56" r="1.70"/>
<circle cx="127.57" cy="861.62" r="1.70"/>
<circle cx="127.20" cy="863.13" r="1.70"/>
<circle cx="127.26" cy="863.56" r="1.70"/>
<circle cx="125.86" cy="865.32" r="1.70"/>
<circle cx="122.51" cy="865.67" r="1.70"/>
<circle cx="122.11" cy="866.28" r="1.70"/>
<circle cx="120.38" cy="868.41" r="1.70"/>
<circle cx="117.46" cy="868.28" r="1.70"/>
<circle cx="116.52" cy="869.16" r="1.70"/>
<circle cx="114.95" cy="869.27" r="1.70"/>
<circle cx="112.60" cy="869.50" r="1.70"/>
<polyline points="127.98,860.75 126.85,861.96 127.69,860.86 126.17,862.57 124.01,865.62 125.52,864.39 123.09,868.53 121.85,866.43 117.47,866.46 119.12,869.12 114.79,869.76 114.00,868.58 112.60,869.50" fill="none" stroke="#000" stroke-width="1.2" stroke-linejoin="round" />
<circle cx="127.98" cy="860.75" r="1.53"/>
<circle cx="126.85" cy="861.96" r="1.53"/>
<circle cx="127.69" cy="860.86" r="1.53"/>
<circle cx="126.17" cy="862.57" r="1.53"/>
<circle cx="124.01" cy="865.62" r="1.53"/>
<circle cx="125.52" cy="864.39" r="1.53"/>
<circle cx="123.09" cy="868.53" r="1.53"/>
<circle cx="121.85" cy="866.43" r="1.53"/>
<circle cx="117.47" cy="866.46" r="1.53"/>
<circle cx="119.12" cy="869.12" r="1.53"/>
<circle cx="114.79" cy="869.76" r="1.53"/>
<circle cx="114.00" cy="868.58" r="1.53"/>
<circle cx="112.60" cy="869.50" r="1.53"/>
<polygon points="107.86,876.61 110.87,875.14 113.91,874.27 117.06,874.14 118.23,875.09 115.49,877.31 114.66,879.74 114.82,882.46 114.60,884.83 112.38,886.46 110.80,888.57 108.54,885.77 106.24,883.44 107.36,880.15" fill="#000"/>
<polyline points="107.93,889.70 107.67,888.48 106.30,887.07 106.62,886.63 107.25,886.13 106.84,885.23 105.99,884.15 104.86,884.82 104.84,885.34 105.13,886.31 105.25,887.65 103.70,888.04 101.53,885.48 102.61,884.41 103.80,884.33 103.13,881.11 104.88,880.52 106.29,881.95 108.59,880.58 108.75,880.15 110.52,878.74 111.47,877.62 112.61,877.18 112.45,875.79 113.44,875.37 114.31,876.43 114.75,877.20 114.09,878.72 112.48,878.96 109.57,877.59 107.83,876.36 106.86,874.55 107.30,873.03 112.27,872.72 113.40,871.23 114.62,872.84 115.68,874.10 117.02,873.20 117.55,874.92 116.48,877.28 116.74,877.90 116.19,879.20 115.01,881.23 112.53,882.94 111.51,882.79 110.90,882.48 110.41,882.28 109.52,884.98 109.42,885.87 110.66,886.84 110.94,887.81 109.79,887.46 109.70,887.60 110.15,889.38 111.11,890.69 110.09,891.99 109.83,894.27 112.60,888.03 112.80,887.83 112.16,887.19 111.27,885.65 115.59,885.38 118.82,871.98 119.23,871.84 120.22,872.08 120.45,872.20 118.36,870.77 117.42,869.39 115.73,869.34 114.76,869.52" fill="none" stroke="#000" stroke-width="0.9" stroke-linejoin="round" />
<circle cx="107.93" cy="889.70" r="1.44"/>
<circle cx="107.67" cy="888.48" r="1.66"/>
<circle cx="106.30" cy="887.07" r="1.58"/>
<circle cx="106.62" cy="886.63" r="1.67"/>
<circle cx="107.25" cy="886.13" r="1.63"/>
<circle cx="106.84" cy="885.23" r="1.70"/>
<circle cx="105.99" cy="884.15" r="1.55"/>
<circle cx="104.86" cy="884.82" r="1.37"/>
<circle cx="104.84" cy="885.34" r="1.76"/>
<circle cx="105.13" cy="886.31" r="1.45"/>
<circle cx="105.25" cy="887.65" r="1.69"/>
<circle cx="103.70" cy="888.04" r="1.44"/>
<circle cx="101.53" cy="885.48" r="1.56"/>
<circle cx="102.61" cy="884.41" r="1.48"/>
<circle cx="103.80" cy="884.33" r="1.62"/>
<circle cx="103.13" cy="881.11" r="1.39"/>
<circle cx="104.88" cy="880.52" r="1.39"/>
<circle cx="106.29" cy="881.95" r="1.54"/>
<circle cx="108.59" cy="880.58" r="1.70"/>
<circle cx="108.75" cy="880.15" r="1.55"/>
<circle cx="110.52" cy="878.74" r="1.41"/>
<circle cx="111.47" cy="877.62" r="1.76"/>
<circle cx="112.61" cy="877.18" r="1.40"/>
<circle cx="112.45" cy="875.79" r="1.48"/>
<circle cx="113.44" cy="875.37" r="1.59"/>
<circle cx="114.31" cy="876.43" r="1.47"/>
<circle cx="114.75" cy="877.20" r="1.64"/>
<circle cx="114.09" cy="878.72" r="1.53"/>
<circle cx="112.48" cy="878.96" r="1.68"/>
<circle cx="109.57" cy="877.59" r="1.39"/>
<circle cx="107.83" cy="876.36" r="1.69"/>
<circle cx="106.86" cy="874.55" r="1.72"/>
<circle cx="107.30" cy="873.03" r="1.46"/>
<circle cx="112.27" cy="872.72" r="1.46"/>
<circle cx="113.40" cy="871.23" r="1.71"/>
<circle cx="114.62" cy="872.84" r="1.53"/>
<circle cx="115.68" cy="874.10" r="1.52"/>
<circle cx="117.02" cy="873.20" r="1.59"/>
<circle cx="117.55" cy="874.92" r="1.58"/>
<circle cx="116.48" cy="877.28" r="1.69"/>
<circle cx="116.74" cy="877.90" r="1.63"/>
<circle cx="116.19" cy="879.20" r="1.64"/>
<circle cx="115.01" cy="881.23" r="1.53"/>
<circle cx="112.53" cy="882.94" r="1.57"/>
<circle cx="111.51" cy="882.79" r="1.70"/>
<circle cx="110.90" cy="882.48" r="1.71"/>
<circle cx="110.41" cy="882.28" r="1.60"/>
<circle cx="109.52" cy="884.98" r="1.60"/>
<circle cx="109.42" cy="885.87" r="1.48"/>
<circle cx="110.66" cy="886.84" r="1.55"/>
<circle cx="110.94" cy="887.81" r="1.44"/>
<circle cx="109.79" cy="887.46" r="1.55"/>
<circle cx="109.70" cy="887.60" r="1.38"/>
<circle cx="110.15" cy="889.38" r="1.46"/>
<circle cx="111.11" cy="890.69" r="1.47"/>
<circle cx="110.09" cy="891.99" r="1.55"/>
<circle cx="109.83" cy="894.27" r="1.63"/>
<circle cx="112.60" cy="888.03" r="1.40"/>
<circle cx="112.80" cy="887.83" r="1.62"/>
<circle cx="112.16" cy="887.19" r="1.67"/>
<circle cx="111.27" cy="885.65" r="1.43"/>
<circle cx="115.59" cy="885.38" r="1.42"/>
<circle cx="118.82" cy="871.98" r="1.40"/>
<circle cx="119.23" cy="871.84" r="1.61"/>
<circle cx="120.22" cy="872.08" r="1.52"/>
<circle cx="120.45" cy="872.20" r="1.38"/>
<circle cx="118.36" cy="870.77" r="1.41"/>
<circle cx="117.42" cy="869.39" r="1.51"/>
<circle cx="115.73" cy="869.34" r="1.38"/>
<circle cx="114.76" cy="869.52" r="1.68"/>
<circle cx="104.88" cy="873.25" r="1.37"/>
<circle cx="106.21" cy="871.95" r="1.42"/>
<circle cx="109.95" cy="871.77" r="1.68"/>
<circle cx="114.46" cy="869.34" r="1.48"/>
<circle cx="120.61" cy="869.41" r="1.45"/>
<circle cx="122.81" cy="871.41" r="1.71"/>
<circle cx="120.03" cy="873.75" r="1.60"/>
<circle cx="118.22" cy="875.74" r="1.67"/>
<circle cx="117.13" cy="879.62" r="1.76"/>
<circle cx="116.98" cy="884.16" r="1.44"/>
<circle cx="115.86" cy="888.16" r="1.69"/>
<circle cx="112.97" cy="890.54" r="1.56"/>
<circle cx="109.23" cy="894.72" r="1.74"/>
<circle cx="107.09" cy="893.40" r="1.57"/>
<circle cx="105.60" cy="890.19" r="1.50"/>
<circle cx="101.71" cy="885.79" r="1.71"/>
<circle cx="103.14" cy="882.74" r="1.64"/>
<circle cx="103.08" cy="879.75" r="1.66"/>
<circle cx="103.31" cy="875.95" r="1.41"/>
<polygon points="104,874 115,870 117,877 110,880 104,882" fill="#000"/>
<circle cx="110.5" cy="887" r="2.3" fill="#fff"/>
<polyline points="73.06,854.19 76.34,853.16 77.17,853.35 78.54,853.03 84.55,854.77 84.28,855.44 89.30,854.36 89.22,854.28 89.27,857.45 95.83,855.86 90.51,859.29 92.92,859.61 93.07,860.06 90.61,861.46 88.75,861.41 87.56,861.65 86.39,858.69 84.76,858.70 82.25,857.93 82.88,860.57 80.64,863.44 80.71,863.28 76.38,863.66 76.67,862.13 76.13,861.37 74.05,862.08 73.43,859.78 73.05,860.75 72.19,860.84 69.21,863.25 68.14,863.64 67.33,864.73 66.52,865.92 67.31,867.80 67.06,868.15 71.69,869.46 69.59,867.26 74.18,867.68 75.27,866.97 77.06,865.59 79.72,866.06 79.93,869.14 82.69,868.10 82.63,868.54 83.17,869.94 86.04,870.77 84.24,872.40 83.05,872.46 82.34,873.67 83.24,873.58 82.54,875.31 86.97,874.62 87.34,876.17 87.85,877.36 90.83,878.27 92.04,875.00 92.64,875.92 94.23,876.88 95.24,875.51 98.51,875.31 95.99,876.09 96.63,877.54 100.11,877.45 101.17,877.04 99.86,875.28 102.77,874.91 103.20,874.30" fill="none" stroke="#000" stroke-width="1.2" stroke-linejoin="round" />
<circle cx="73.06" cy="854.19" r="1.60"/>
<circle cx="76.34" cy="853.16" r="1.60"/>
<circle cx="77.17" cy="853.35" r="1.60"/>
<circle cx="78.54" cy="853.03" r="1.60"/>
<circle cx="84.55" cy="854.77" r="1.60"/>
<circle cx="84.28" cy="855.44" r="1.60"/>
<circle cx="89.30" cy="854.36" r="1.60"/>
<circle cx="89.22" cy="854.28" r="1.60"/>
<circle cx="89.27" cy="857.45" r="1.60"/>
<circle cx="95.83" cy="855.86" r="1.60"/>
<circle cx="90.51" cy="859.29" r="1.60"/>
<circle cx="92.92" cy="859.61" r="1.60"/>
<circle cx="93.07" cy="860.06" r="1.60"/>
<circle cx="90.61" cy="861.46" r="1.60"/>
<circle cx="88.75" cy="861.41" r="1.60"/>
<circle cx="87.56" cy="861.65" r="1.60"/>
<circle cx="86.39" cy="858.69" r="1.60"/>
<circle cx="84.76" cy="858.70" r="1.60"/>
<circle cx="82.25" cy="857.93" r="1.60"/>
<circle cx="82.88" cy="860.57" r="1.60"/>
<circle cx="80.64" cy="863.44" r="1.60"/>
<circle cx="80.71" cy="863.28" r="1.60"/>
<circle cx="76.38" cy="863.66" r="1.60"/>
<circle cx="76.67" cy="862.13" r="1.60"/>
<circle cx="76.13" cy="861.37" r="1.60"/>
<circle cx="74.05" cy="862.08" r="1.60"/>
<circle cx="73.43" cy="859.78" r="1.60"/>
<circle cx="73.05" cy="860.75" r="1.60"/>
<circle cx="72.19" cy="860.84" r="1.60"/>
<circle cx="69.21" cy="863.25" r="1.60"/>
<circle cx="68.14" cy="863.64" r="1.60"/>
<circle cx="67.33" cy="864.73" r="1.60"/>
<circle cx="66.52" cy="865.92" r="1.60"/>
<circle cx="67.31" cy="867.80" r="1.60"/>
<circle cx="67.06" cy="868.15" r="1.60"/>
<circle cx="71.69" cy="869.46" r="1.60"/>
<circle cx="69.59" cy="867.26" r="1.60"/>
<circle cx="74.18" cy="867.68" r="1.60"/>
<circle cx="75.27" cy="866.97" r="1.60"/>
<circle cx="77.06" cy="865.59" r="1.60"/>
<circle cx="79.72" cy="866.06" r="1.60"/>
<circle cx="79.93" cy="869.14" r="1.60"/>
<circle cx="82.69" cy="868.10" r="1.60"/>
<circle cx="82.63" cy="868.54" r="1.60"/>
<circle cx="83.17" cy="869.94" r="1.60"/>
<circle cx="86.04" cy="870.77" r="1.60"/>
<circle cx="84.24" cy="872.40" r="1.60"/>
<circle cx="83.05" cy="872.46" r="1.60"/>
<circle cx="82.34" cy="873.67" r="1.60"/>
<circle cx="83.24" cy="873.58" r="1.60"/>
<circle cx="82.54" cy="875.31" r="1.60"/>
<circle cx="86.97" cy="874.62" r="1.60"/>
<circle cx="87.34" cy="876.17" r="1.60"/>
<circle cx="87.85" cy="877.36" r="1.60"/>
<circle cx="90.83" cy="878.27" r="1.60"/>
<circle cx="92.04" cy="875.00" r="1.60"/>
<circle cx="92.64" cy="875.92" r="1.60"/>
<circle cx="94.23" cy="876.88" r="1.60"/>
<circle cx="95.24" cy="875.51" r="1.60"/>
<circle cx="98.51" cy="875.31" r="1.60"/>
<circle cx="95.99" cy="876.09" r="1.60"/>
<circle cx="96.63" cy="877.54" r="1.60"/>
<circle cx="100.11" cy="877.45" r="1.60"/>
<circle cx="101.17" cy="877.04" r="1.60"/>
<circle cx="99.86" cy="875.28" r="1.60"/>
<circle cx="102.77" cy="874.91" r="1.60"/>
<circle cx="103.20" cy="874.30" r="1.60"/>
<polyline points="75.13,852.67 75.44,854.21 79.21,854.09 78.80,852.21 85.26,853.12 84.13,853.88 89.00,854.07 90.08,855.96 89.44,856.31 90.86,856.43 93.12,857.60 90.73,858.62 91.39,860.86 87.40,858.31 89.72,860.80 87.83,861.48 86.03,860.09 84.81,860.99 83.54,859.62 80.72,861.20 79.54,861.33 80.19,863.64 79.87,864.13 77.55,862.08 75.38,861.68 76.36,861.78 72.03,859.31 73.19,858.48 70.77,861.13 70.37,861.07 68.29,863.76 68.46,866.78 67.30,866.28 68.03,866.29 68.71,866.84 68.49,866.08 69.48,869.17 74.53,867.74 76.54,867.15 76.37,865.22 79.53,868.16 81.70,866.59 81.25,866.38 84.12,870.06 84.34,870.16 84.53,870.75 85.09,871.18 83.80,873.12 80.33,871.67 82.15,874.01 83.03,875.40 87.69,875.82 85.35,872.87 89.94,878.57 89.61,878.10 90.78,876.07 93.40,875.65 94.22,878.04 94.27,878.00 94.04,876.54 97.04,878.43 98.11,874.60 101.19,874.15 100.70,875.64 102.94,875.73 103.30,875.04 103.20,874.30" fill="none" stroke="#000" stroke-width="1.2" stroke-linejoin="round" />
<circle cx="75.13" cy="852.67" r="1.44"/>
<circle cx="75.44" cy="854.21" r="1.44"/>
<circle cx="79.21" cy="854.09" r="1.44"/>
<circle cx="78.80" cy="852.21" r="1.44"/>
<circle cx="85.26" cy="853.12" r="1.44"/>
<circle cx="84.13" cy="853.88" r="1.44"/>
<circle cx="89.00" cy="854.07" r="1.44"/>
<circle cx="90.08" cy="855.96" r="1.44"/>
<circle cx="89.44" cy="856.31" r="1.44"/>
<circle cx="90.86" cy="856.43" r="1.44"/>
<circle cx="93.12" cy="857.60" r="1.44"/>
<circle cx="90.73" cy="858.62" r="1.44"/>
<circle cx="91.39" cy="860.86" r="1.44"/>
<circle cx="87.40" cy="858.31" r="1.44"/>
<circle cx="89.72" cy="860.80" r="1.44"/>
<circle cx="87.83" cy="861.48" r="1.44"/>
<circle cx="86.03" cy="860.09" r="1.44"/>
<circle cx="84.81" cy="860.99" r="1.44"/>
<circle cx="83.54" cy="859.62" r="1.44"/>
<circle cx="80.72" cy="861.20" r="1.44"/>
<circle cx="79.54" cy="861.33" r="1.44"/>
<circle cx="80.19" cy="863.64" r="1.44"/>
<circle cx="79.87" cy="864.13" r="1.44"/>
<circle cx="77.55" cy="862.08" r="1.44"/>
<circle cx="75.38" cy="861.68" r="1.44"/>
<circle cx="76.36" cy="861.78" r="1.44"/>
<circle cx="72.03" cy="859.31" r="1.44"/>
<circle cx="73.19" cy="858.48" r="1.44"/>
<circle cx="70.77" cy="861.13" r="1.44"/>
<circle cx="70.37" cy="861.07" r="1.44"/>
<circle cx="68.29" cy="863.76" r="1.44"/>
<circle cx="68.46" cy="866.78" r="1.44"/>
<circle cx="67.30" cy="866.28" r="1.44"/>
<circle cx="68.03" cy="866.29" r="1.44"/>
<circle cx="68.71" cy="866.84" r="1.44"/>
<circle cx="68.49" cy="866.08" r="1.44"/>
<circle cx="69.48" cy="869.17" r="1.44"/>
<circle cx="74.53" cy="867.74" r="1.44"/>
<circle cx="76.54" cy="867.15" r="1.44"/>
<circle cx="76.37" cy="865.22" r="1.44"/>
<circle cx="79.53" cy="868.16" r="1.44"/>
<circle cx="81.70" cy="866.59" r="1.44"/>
<circle cx="81.25" cy="866.38" r="1.44"/>
<circle cx="84.12" cy="870.06" r="1.44"/>
<circle cx="84.34" cy="870.16" r="1.44"/>
<circle cx="84.53" cy="870.75" r="1.44"/>
<circle cx="85.09" cy="871.18" r="1.44"/>
<circle cx="83.80" cy="873.12" r="1.44"/>
<circle cx="80.33" cy="871.67" r="1.44"/>
<circle cx="82.15" cy="874.01" r="1.44"/>
<circle cx="83.03" cy="875.40" r="1.44"/>
<circle cx="87.69" cy="875.82" r="1.44"/>
<circle cx="85.35" cy="872.87" r="1.44"/>
<circle cx="89.94" cy="878.57" r="1.44"/>
<circle cx="89.61" cy="878.10" r="1.44"/>
<circle cx="90.78" cy="876.07" r="1.44"/>
<circle cx="93.40" cy="875.65" r="1.44"/>
<circle cx="94.22" cy="878.04" r="1.44"/>
<circle cx="94.27" cy="878.00" r="1.44"/>
<circle cx="94.04" cy="876.54" r="1.44"/>
<circle cx="97.04" cy="878.43" r="1.44"/>
<circle cx="98.11" cy="874.60" r="1.44"/>
<circle cx="101.19" cy="874.15" r="1.44"/>
<circle cx="100.70" cy="875.64" r="1.44"/>
<circle cx="102.94" cy="875.73" r="1.44"/>
<circle cx="103.30" cy="875.04" r="1.44"/>
<circle cx="103.20" cy="874.30" r="1.44"/>
<polyline points="73.43,857.55 73.53,856.49 74.08,856.11 74.14,855.85 75.24,858.02 75.35,859.82 74.65,860.77 76.10,861.93 77.25,863.00 74.05,863.73 71.74,861.12 69.88,861.30 68.88,864.29 72.28,857.55 77.22,856.22 78.04,857.36 79.27,857.66 80.21,856.18 79.51,859.52 79.32,859.99 83.61,858.55 85.19,859.08 85.19,859.17 86.77,855.73 89.82,857.16" fill="none" stroke="#000" stroke-width="0.9" stroke-linejoin="round" />
<circle cx="73.43" cy="857.55" r="1.68"/>
<circle cx="73.53" cy="856.49" r="1.75"/>
<circle cx="74.08" cy="856.11" r="1.57"/>
<circle cx="74.14" cy="855.85" r="1.44"/>
<circle cx="75.24" cy="858.02" r="1.45"/>
<circle cx="75.35" cy="859.82" r="1.60"/>
<circle cx="74.65" cy="860.77" r="1.42"/>
<circle cx="76.10" cy="861.93" r="1.70"/>
<circle cx="77.25" cy="863.00" r="1.70"/>
<circle cx="74.05" cy="863.73" r="1.65"/>
<circle cx="71.74" cy="861.12" r="1.75"/>
<circle cx="69.88" cy="861.30" r="1.54"/>
<circle cx="68.88" cy="864.29" r="1.74"/>
<circle cx="72.28" cy="857.55" r="1.44"/>
<circle cx="77.22" cy="856.22" r="1.46"/>
<circle cx="78.04" cy="857.36" r="1.57"/>
<circle cx="79.27" cy="857.66" r="1.72"/>
<circle cx="80.21" cy="856.18" r="1.36"/>
<circle cx="79.51" cy="859.52" r="1.70"/>
<circle cx="79.32" cy="859.99" r="1.51"/>
<circle cx="83.61" cy="858.55" r="1.71"/>
<circle cx="85.19" cy="859.08" r="1.70"/>
<circle cx="85.19" cy="859.17" r="1.71"/>
<circle cx="86.77" cy="855.73" r="1.59"/>
<circle cx="89.82" cy="857.16" r="1.41"/>
<circle cx="72.66" cy="855.08" r="1.62"/>
<circle cx="76.72" cy="856.46" r="1.50"/>
<circle cx="79.15" cy="854.63" r="1.52"/>
<circle cx="83.31" cy="854.85" r="1.55"/>
<circle cx="86.67" cy="856.01" r="1.55"/>
<circle cx="90.93" cy="857.58" r="1.73"/>
<circle cx="89.48" cy="860.76" r="1.71"/>
<circle cx="87.14" cy="860.95" r="1.54"/>
<circle cx="81.66" cy="860.52" r="1.64"/>
<circle cx="77.20" cy="862.21" r="1.59"/>
<circle cx="74.90" cy="864.05" r="1.74"/>
<circle cx="70.41" cy="865.50" r="1.51"/>
<circle cx="68.56" cy="866.66" r="1.54"/>
<circle cx="67.85" cy="862.54" r="1.39"/>
<circle cx="70.11" cy="859.57" r="1.50"/>
<polygon points="50.90,840.46 53.43,837.18 57.72,837.33 60.66,839.24 64.88,838.23 70.15,834.19 73.59,834.12 74.45,836.23 70.82,839.24 65.51,842.11 63.60,844.78 62.53,848.20 60.11,850.41 56.81,849.59 56.95,845.70 55.24,844.55 52.18,843.76" fill="#000" stroke="#000" stroke-width="1.5" stroke-linejoin="round"/>
</svg>
</body></html>
